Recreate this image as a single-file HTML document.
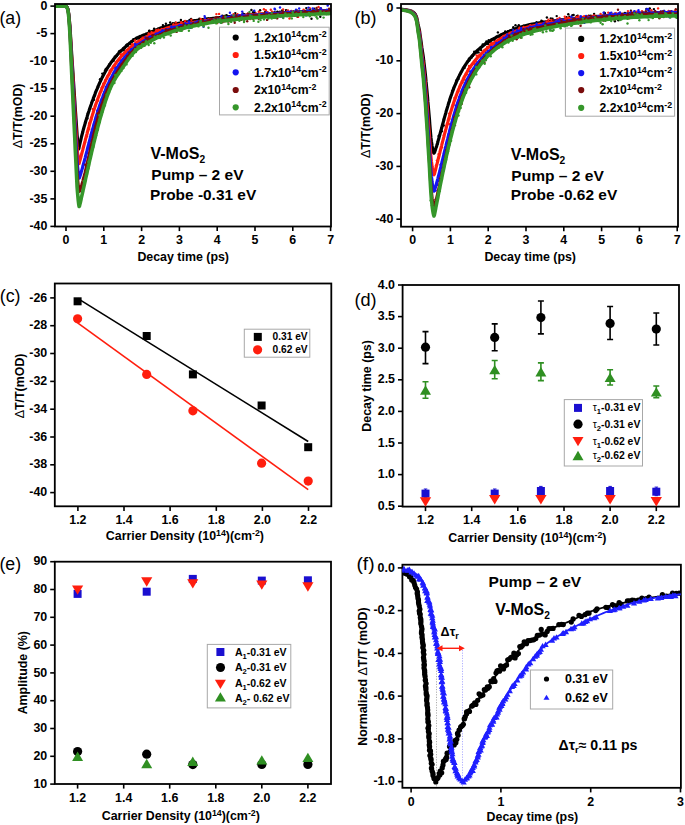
<!DOCTYPE html><html><head><meta charset="utf-8"><style>html,body{margin:0;padding:0;background:#fff;overflow:hidden}svg{display:block}.t{font-family:"Liberation Sans",sans-serif;font-weight:bold;font-size:12.4px;fill:#000}.pl{font-family:"Liberation Sans",sans-serif;font-size:18.3px;fill:#000}.lg{font-family:"Liberation Sans",sans-serif;font-weight:bold;fill:#000}.an{font-family:"Liberation Sans",sans-serif;font-weight:bold;fill:#000}</style></head><body>
<svg width="685" height="825" viewBox="0 0 685 825">
<rect width="685" height="825" fill="#fff"/>
<defs><clipPath id="ca"><rect x="55" y="4" width="276" height="222.5"/></clipPath><clipPath id="cb"><rect x="401" y="4" width="277" height="222.7"/></clipPath><clipPath id="cf"><rect x="402.4" y="564.7" width="278.4" height="223.1"/></clipPath></defs>
<g clip-path="url(#ca)">
<circle cx="84.9" cy="125.1" r="1.2" fill="#000000"/>
<circle cx="87.4" cy="118.4" r="1.2" fill="#000000"/>
<circle cx="87.8" cy="113.4" r="1.2" fill="#000000"/>
<circle cx="90.1" cy="108.9" r="1.2" fill="#000000"/>
<circle cx="91.8" cy="102.8" r="1.2" fill="#000000"/>
<circle cx="94.0" cy="99.8" r="1.2" fill="#000000"/>
<circle cx="94.9" cy="95.5" r="1.2" fill="#000000"/>
<circle cx="95.6" cy="92.0" r="1.2" fill="#000000"/>
<circle cx="98.1" cy="87.6" r="1.2" fill="#000000"/>
<circle cx="99.0" cy="84.8" r="1.2" fill="#000000"/>
<circle cx="100.0" cy="79.3" r="1.2" fill="#000000"/>
<circle cx="102.5" cy="76.8" r="1.2" fill="#000000"/>
<circle cx="102.3" cy="73.6" r="1.2" fill="#000000"/>
<circle cx="105.0" cy="70.4" r="1.2" fill="#000000"/>
<circle cx="105.8" cy="68.9" r="1.2" fill="#000000"/>
<circle cx="109.2" cy="66.1" r="1.2" fill="#000000"/>
<circle cx="109.5" cy="64.3" r="1.2" fill="#000000"/>
<circle cx="112.2" cy="61.4" r="1.2" fill="#000000"/>
<circle cx="113.7" cy="60.8" r="1.2" fill="#000000"/>
<circle cx="114.7" cy="56.8" r="1.2" fill="#000000"/>
<circle cx="116.7" cy="56.1" r="1.2" fill="#000000"/>
<circle cx="118.8" cy="52.7" r="1.2" fill="#000000"/>
<circle cx="119.0" cy="51.5" r="1.2" fill="#000000"/>
<circle cx="119.8" cy="51.0" r="1.2" fill="#000000"/>
<circle cx="123.1" cy="48.5" r="1.2" fill="#000000"/>
<circle cx="123.7" cy="50.3" r="1.2" fill="#000000"/>
<circle cx="124.7" cy="48.4" r="1.2" fill="#000000"/>
<circle cx="126.4" cy="45.0" r="1.2" fill="#000000"/>
<circle cx="127.7" cy="46.0" r="1.2" fill="#000000"/>
<circle cx="127.3" cy="44.4" r="1.2" fill="#000000"/>
<circle cx="130.0" cy="43.7" r="1.2" fill="#000000"/>
<circle cx="131.3" cy="41.5" r="1.2" fill="#000000"/>
<circle cx="133.4" cy="39.3" r="1.2" fill="#000000"/>
<circle cx="135.1" cy="39.3" r="1.2" fill="#000000"/>
<circle cx="136.5" cy="37.8" r="1.2" fill="#000000"/>
<circle cx="138.5" cy="38.5" r="1.2" fill="#000000"/>
<circle cx="139.0" cy="37.8" r="1.2" fill="#000000"/>
<circle cx="141.6" cy="38.8" r="1.2" fill="#000000"/>
<circle cx="141.0" cy="36.9" r="1.2" fill="#000000"/>
<circle cx="144.0" cy="34.9" r="1.2" fill="#000000"/>
<circle cx="144.4" cy="36.2" r="1.2" fill="#000000"/>
<circle cx="145.7" cy="34.7" r="1.2" fill="#000000"/>
<circle cx="149.1" cy="30.9" r="1.2" fill="#000000"/>
<circle cx="149.4" cy="30.7" r="1.2" fill="#000000"/>
<circle cx="151.3" cy="34.3" r="1.2" fill="#000000"/>
<circle cx="154.1" cy="28.7" r="1.2" fill="#000000"/>
<circle cx="153.7" cy="31.9" r="1.2" fill="#000000"/>
<circle cx="156.8" cy="30.8" r="1.2" fill="#000000"/>
<circle cx="156.5" cy="30.0" r="1.2" fill="#000000"/>
<circle cx="158.6" cy="28.6" r="1.2" fill="#000000"/>
<circle cx="159.5" cy="28.9" r="1.2" fill="#000000"/>
<circle cx="161.8" cy="27.6" r="1.2" fill="#000000"/>
<circle cx="162.9" cy="25.1" r="1.2" fill="#000000"/>
<circle cx="164.2" cy="28.7" r="1.2" fill="#000000"/>
<circle cx="165.9" cy="23.8" r="1.2" fill="#000000"/>
<circle cx="168.6" cy="26.7" r="1.2" fill="#000000"/>
<circle cx="170.7" cy="25.5" r="1.2" fill="#000000"/>
<circle cx="170.2" cy="22.5" r="1.2" fill="#000000"/>
<circle cx="173.1" cy="29.3" r="1.2" fill="#000000"/>
<circle cx="172.9" cy="23.3" r="1.2" fill="#000000"/>
<circle cx="175.5" cy="22.6" r="1.2" fill="#000000"/>
<circle cx="176.3" cy="23.2" r="1.2" fill="#000000"/>
<circle cx="178.2" cy="25.5" r="1.2" fill="#000000"/>
<circle cx="179.6" cy="25.0" r="1.2" fill="#000000"/>
<circle cx="180.7" cy="23.6" r="1.2" fill="#000000"/>
<circle cx="180.9" cy="20.0" r="1.2" fill="#000000"/>
<circle cx="184.6" cy="21.4" r="1.2" fill="#000000"/>
<circle cx="186.0" cy="23.3" r="1.2" fill="#000000"/>
<circle cx="188.0" cy="23.6" r="1.2" fill="#000000"/>
<circle cx="189.3" cy="21.5" r="1.2" fill="#000000"/>
<circle cx="189.5" cy="20.0" r="1.2" fill="#000000"/>
<circle cx="191.1" cy="19.0" r="1.2" fill="#000000"/>
<circle cx="192.6" cy="20.8" r="1.2" fill="#000000"/>
<circle cx="194.7" cy="20.1" r="1.2" fill="#000000"/>
<circle cx="194.5" cy="20.4" r="1.2" fill="#000000"/>
<circle cx="197.7" cy="22.6" r="1.2" fill="#000000"/>
<circle cx="199.4" cy="18.8" r="1.2" fill="#000000"/>
<circle cx="199.9" cy="24.1" r="1.2" fill="#000000"/>
<circle cx="202.5" cy="23.5" r="1.2" fill="#000000"/>
<circle cx="205.1" cy="17.8" r="1.2" fill="#000000"/>
<circle cx="205.3" cy="20.3" r="1.2" fill="#000000"/>
<circle cx="206.9" cy="20.3" r="1.2" fill="#000000"/>
<circle cx="208.1" cy="19.3" r="1.2" fill="#000000"/>
<circle cx="208.3" cy="18.4" r="1.2" fill="#000000"/>
<circle cx="210.4" cy="18.9" r="1.2" fill="#000000"/>
<circle cx="212.1" cy="19.7" r="1.2" fill="#000000"/>
<circle cx="214.6" cy="18.9" r="1.2" fill="#000000"/>
<circle cx="215.7" cy="18.3" r="1.2" fill="#000000"/>
<circle cx="216.6" cy="17.6" r="1.2" fill="#000000"/>
<circle cx="218.0" cy="18.6" r="1.2" fill="#000000"/>
<circle cx="219.9" cy="18.8" r="1.2" fill="#000000"/>
<circle cx="220.4" cy="19.3" r="1.2" fill="#000000"/>
<circle cx="222.3" cy="15.8" r="1.2" fill="#000000"/>
<circle cx="224.3" cy="16.0" r="1.2" fill="#000000"/>
<circle cx="226.1" cy="15.8" r="1.2" fill="#000000"/>
<circle cx="226.6" cy="15.1" r="1.2" fill="#000000"/>
<circle cx="229.9" cy="16.8" r="1.2" fill="#000000"/>
<circle cx="229.5" cy="16.6" r="1.2" fill="#000000"/>
<circle cx="230.7" cy="20.1" r="1.2" fill="#000000"/>
<circle cx="232.2" cy="17.3" r="1.2" fill="#000000"/>
<circle cx="235.3" cy="13.1" r="1.2" fill="#000000"/>
<circle cx="236.6" cy="18.1" r="1.2" fill="#000000"/>
<circle cx="238.2" cy="16.4" r="1.2" fill="#000000"/>
<circle cx="240.1" cy="16.1" r="1.2" fill="#000000"/>
<circle cx="241.1" cy="15.4" r="1.2" fill="#000000"/>
<circle cx="242.8" cy="13.5" r="1.2" fill="#000000"/>
<circle cx="244.4" cy="14.3" r="1.2" fill="#000000"/>
<circle cx="244.5" cy="16.0" r="1.2" fill="#000000"/>
<circle cx="248.1" cy="17.1" r="1.2" fill="#000000"/>
<circle cx="247.9" cy="16.5" r="1.2" fill="#000000"/>
<circle cx="249.5" cy="14.6" r="1.2" fill="#000000"/>
<circle cx="251.4" cy="10.0" r="1.2" fill="#000000"/>
<circle cx="253.0" cy="12.5" r="1.2" fill="#000000"/>
<circle cx="253.8" cy="11.5" r="1.2" fill="#000000"/>
<circle cx="254.7" cy="12.5" r="1.2" fill="#000000"/>
<circle cx="257.9" cy="17.8" r="1.2" fill="#000000"/>
<circle cx="258.8" cy="16.5" r="1.2" fill="#000000"/>
<circle cx="260.1" cy="10.2" r="1.2" fill="#000000"/>
<circle cx="261.9" cy="14.9" r="1.2" fill="#000000"/>
<circle cx="263.0" cy="14.5" r="1.2" fill="#000000"/>
<circle cx="265.2" cy="12.0" r="1.2" fill="#000000"/>
<circle cx="265.2" cy="13.3" r="1.2" fill="#000000"/>
<circle cx="267.6" cy="12.9" r="1.2" fill="#000000"/>
<circle cx="270.0" cy="17.1" r="1.2" fill="#000000"/>
<circle cx="270.5" cy="14.9" r="1.2" fill="#000000"/>
<circle cx="273.0" cy="14.8" r="1.2" fill="#000000"/>
<circle cx="274.6" cy="12.4" r="1.2" fill="#000000"/>
<circle cx="275.8" cy="17.3" r="1.2" fill="#000000"/>
<circle cx="277.4" cy="11.8" r="1.2" fill="#000000"/>
<circle cx="278.7" cy="15.6" r="1.2" fill="#000000"/>
<circle cx="280.0" cy="11.7" r="1.2" fill="#000000"/>
<circle cx="282.4" cy="10.2" r="1.2" fill="#000000"/>
<circle cx="283.1" cy="12.7" r="1.2" fill="#000000"/>
<circle cx="283.3" cy="15.1" r="1.2" fill="#000000"/>
<circle cx="286.0" cy="10.1" r="1.2" fill="#000000"/>
<circle cx="287.7" cy="11.5" r="1.2" fill="#000000"/>
<circle cx="287.3" cy="10.9" r="1.2" fill="#000000"/>
<circle cx="290.4" cy="13.6" r="1.2" fill="#000000"/>
<circle cx="291.8" cy="12.3" r="1.2" fill="#000000"/>
<circle cx="293.6" cy="11.7" r="1.2" fill="#000000"/>
<circle cx="295.6" cy="12.3" r="1.2" fill="#000000"/>
<circle cx="296.4" cy="13.1" r="1.2" fill="#000000"/>
<circle cx="296.9" cy="10.4" r="1.2" fill="#000000"/>
<circle cx="300.3" cy="12.5" r="1.2" fill="#000000"/>
<circle cx="300.5" cy="12.4" r="1.2" fill="#000000"/>
<circle cx="301.8" cy="12.2" r="1.2" fill="#000000"/>
<circle cx="303.2" cy="12.1" r="1.2" fill="#000000"/>
<circle cx="304.0" cy="14.2" r="1.2" fill="#000000"/>
<circle cx="306.3" cy="8.1" r="1.2" fill="#000000"/>
<circle cx="308.0" cy="10.6" r="1.2" fill="#000000"/>
<circle cx="309.8" cy="8.9" r="1.2" fill="#000000"/>
<circle cx="311.5" cy="18.7" r="1.2" fill="#000000"/>
<circle cx="311.7" cy="11.8" r="1.2" fill="#000000"/>
<circle cx="313.9" cy="11.4" r="1.2" fill="#000000"/>
<circle cx="314.3" cy="8.6" r="1.2" fill="#000000"/>
<circle cx="317.5" cy="10.8" r="1.2" fill="#000000"/>
<circle cx="319.9" cy="9.4" r="1.2" fill="#000000"/>
<circle cx="320.3" cy="16.8" r="1.2" fill="#000000"/>
<circle cx="321.0" cy="8.8" r="1.2" fill="#000000"/>
<circle cx="323.1" cy="10.5" r="1.2" fill="#000000"/>
<circle cx="325.3" cy="10.8" r="1.2" fill="#000000"/>
<circle cx="325.5" cy="10.9" r="1.2" fill="#000000"/>
<circle cx="329.6" cy="13.1" r="1.2" fill="#000000"/>
<circle cx="327.0" cy="10.1" r="1.2" fill="#000000"/>
<circle cx="329.9" cy="11.6" r="1.2" fill="#000000"/>
<polyline points="54.7,6.1 55.0,6.1 55.4,6.1 55.8,6.1 56.2,6.1 56.6,6.1 56.9,6.1 57.3,6.1 57.7,6.1 58.1,6.1 58.5,6.1 58.9,6.1 59.2,6.1 59.6,6.1 60.0,6.1 60.4,6.1 60.8,6.1 61.1,6.1 61.5,6.1 61.9,6.1 62.3,6.1 62.7,6.1 63.0,6.1 63.4,6.1 63.8,6.1 64.2,6.1 64.6,6.1 65.0,6.1 65.3,6.1 65.7,6.1 66.1,6.2 66.5,6.5 66.9,6.9 67.2,7.5 67.6,8.2 68.0,9.4 68.4,11.5 68.8,14.3 69.1,17.3 69.5,21.1 69.9,25.6 70.3,31.5 70.7,38.0 71.1,43.9 71.4,49.7 71.8,55.6 72.2,61.7 72.6,67.6 73.0,73.1 73.3,78.5 73.7,84.3 74.1,90.4 74.5,96.4 74.9,102.1 75.2,107.7 75.6,113.2 76.0,118.9 76.4,124.7 76.8,130.3 77.1,135.1 77.5,139.2 77.9,143.0 78.3,146.3 78.7,149.1 79.1,147.6 79.4,145.8 79.8,144.1 80.2,142.4 80.6,140.8 81.0,139.2 81.3,137.6 81.7,136.0 82.1,134.5 82.5,133.0 82.9,131.5 83.2,130.1 83.6,128.7 84.0,127.3 84.4,125.9 84.8,124.6 85.2,123.3 85.5,122.0 85.9,120.7 86.3,119.4 86.7,118.1 87.1,116.9 87.4,115.7 87.8,114.5 88.2,113.3 88.6,112.1 89.0,110.9 89.3,109.8 89.7,108.6 90.1,107.5 90.5,106.4 90.9,105.3 91.3,104.2 91.6,103.1 92.0,102.0 92.4,100.9 92.8,99.9 93.2,98.8 93.5,97.8 93.9,96.8 94.3,95.8 94.7,94.8 95.1,93.8 95.4,92.8 95.8,91.9 96.2,90.9 96.6,90.0 97.0,89.1 97.4,88.1 97.7,87.2 98.1,86.3 98.5,85.5 98.9,84.6 99.3,83.7 99.6,82.9 100.0,82.1 100.4,81.3 101.2,79.6 101.9,78.1 102.7,76.6 103.4,75.1 104.2,73.7 105.0,72.3 105.7,70.9 106.5,69.6 107.2,68.3 108.0,67.1 108.8,65.9 109.5,64.8 110.3,63.7 111.0,62.6 111.8,61.6 112.6,60.5 113.3,59.6 114.1,58.6 114.9,57.7 115.6,56.8 116.4,55.9 117.1,55.0 117.9,54.2 118.7,53.4 119.4,52.6 120.2,51.8 120.9,51.0 121.7,50.3 122.5,49.6 123.2,48.8 124.0,48.1 124.7,47.4 125.5,46.7 126.3,46.1 127.0,45.4 127.8,44.7 128.5,44.1 129.3,43.4 130.1,42.8 130.8,42.2 131.6,41.6 132.4,41.0 133.1,40.5 133.9,39.9 134.6,39.4 135.4,39.0 136.2,38.5 136.9,38.1 137.7,37.7 138.4,37.3 139.2,36.9 140.0,36.6 140.7,36.2 141.5,35.9 142.2,35.6 143.0,35.3 143.8,35.0 144.5,34.7 145.3,34.4 146.0,34.1 146.8,33.8 147.6,33.5 148.3,33.2 149.1,32.9 149.8,32.6 150.6,32.3 151.4,32.0 152.1,31.6 152.9,31.3 153.7,31.0 154.4,30.7 155.2,30.3 155.9,30.0 156.7,29.7 157.5,29.4 158.2,29.0 159.0,28.7 159.7,28.4 160.5,28.1 161.3,27.9 164.7,26.7 168.2,25.7 171.6,24.8 175.1,24.1 178.5,23.4 182.0,22.8 185.4,22.2 188.9,21.7 192.4,21.1 195.8,20.6 199.3,20.1 202.7,19.6 206.2,19.2 209.6,18.8 213.1,18.4 216.6,18.0 220.0,17.6 223.5,17.2 226.9,16.9 230.4,16.5 233.8,16.2 237.3,15.9 240.7,15.6 244.2,15.3 247.7,15.1 251.1,14.8 254.6,14.5 258.0,14.3 261.5,14.0 264.9,13.8 268.4,13.6 271.8,13.4 275.3,13.1 278.8,12.9 282.2,12.7 285.7,12.5 289.1,12.3 292.6,12.1 296.0,12.0 299.5,11.8 303.0,11.6 306.4,11.4 309.9,11.3 313.3,11.1 316.8,10.9 320.2,10.8 323.7,10.6 327.1,10.5 330.6,10.3" fill="none" stroke="#000000" stroke-width="3.2" stroke-linejoin="round" stroke-linecap="round"/>
<circle cx="84.9" cy="142.5" r="1.2" fill="#ff1e0e"/>
<circle cx="87.0" cy="136.3" r="1.2" fill="#ff1e0e"/>
<circle cx="89.3" cy="129.1" r="1.2" fill="#ff1e0e"/>
<circle cx="89.2" cy="123.3" r="1.2" fill="#ff1e0e"/>
<circle cx="91.1" cy="119.7" r="1.2" fill="#ff1e0e"/>
<circle cx="92.8" cy="114.1" r="1.2" fill="#ff1e0e"/>
<circle cx="92.9" cy="108.9" r="1.2" fill="#ff1e0e"/>
<circle cx="95.2" cy="105.6" r="1.2" fill="#ff1e0e"/>
<circle cx="98.2" cy="100.5" r="1.2" fill="#ff1e0e"/>
<circle cx="99.0" cy="96.0" r="1.2" fill="#ff1e0e"/>
<circle cx="101.1" cy="91.2" r="1.2" fill="#ff1e0e"/>
<circle cx="101.8" cy="87.7" r="1.2" fill="#ff1e0e"/>
<circle cx="103.3" cy="83.8" r="1.2" fill="#ff1e0e"/>
<circle cx="105.2" cy="80.3" r="1.2" fill="#ff1e0e"/>
<circle cx="107.5" cy="76.3" r="1.2" fill="#ff1e0e"/>
<circle cx="109.1" cy="74.3" r="1.2" fill="#ff1e0e"/>
<circle cx="109.7" cy="70.7" r="1.2" fill="#ff1e0e"/>
<circle cx="111.6" cy="69.2" r="1.2" fill="#ff1e0e"/>
<circle cx="113.4" cy="66.4" r="1.2" fill="#ff1e0e"/>
<circle cx="114.9" cy="66.6" r="1.2" fill="#ff1e0e"/>
<circle cx="116.7" cy="61.8" r="1.2" fill="#ff1e0e"/>
<circle cx="118.7" cy="60.2" r="1.2" fill="#ff1e0e"/>
<circle cx="120.0" cy="59.1" r="1.2" fill="#ff1e0e"/>
<circle cx="120.8" cy="54.3" r="1.2" fill="#ff1e0e"/>
<circle cx="122.4" cy="55.5" r="1.2" fill="#ff1e0e"/>
<circle cx="122.4" cy="55.3" r="1.2" fill="#ff1e0e"/>
<circle cx="124.9" cy="52.6" r="1.2" fill="#ff1e0e"/>
<circle cx="126.6" cy="53.7" r="1.2" fill="#ff1e0e"/>
<circle cx="128.0" cy="51.7" r="1.2" fill="#ff1e0e"/>
<circle cx="129.5" cy="51.8" r="1.2" fill="#ff1e0e"/>
<circle cx="130.3" cy="47.7" r="1.2" fill="#ff1e0e"/>
<circle cx="132.1" cy="45.3" r="1.2" fill="#ff1e0e"/>
<circle cx="132.0" cy="44.1" r="1.2" fill="#ff1e0e"/>
<circle cx="134.9" cy="44.8" r="1.2" fill="#ff1e0e"/>
<circle cx="135.0" cy="40.5" r="1.2" fill="#ff1e0e"/>
<circle cx="137.4" cy="41.8" r="1.2" fill="#ff1e0e"/>
<circle cx="139.1" cy="42.0" r="1.2" fill="#ff1e0e"/>
<circle cx="141.6" cy="40.4" r="1.2" fill="#ff1e0e"/>
<circle cx="142.6" cy="37.7" r="1.2" fill="#ff1e0e"/>
<circle cx="142.8" cy="38.7" r="1.2" fill="#ff1e0e"/>
<circle cx="145.6" cy="38.6" r="1.2" fill="#ff1e0e"/>
<circle cx="147.1" cy="37.9" r="1.2" fill="#ff1e0e"/>
<circle cx="148.7" cy="33.4" r="1.2" fill="#ff1e0e"/>
<circle cx="149.1" cy="35.9" r="1.2" fill="#ff1e0e"/>
<circle cx="151.6" cy="32.2" r="1.2" fill="#ff1e0e"/>
<circle cx="153.5" cy="33.1" r="1.2" fill="#ff1e0e"/>
<circle cx="153.9" cy="33.6" r="1.2" fill="#ff1e0e"/>
<circle cx="156.2" cy="30.2" r="1.2" fill="#ff1e0e"/>
<circle cx="157.8" cy="32.0" r="1.2" fill="#ff1e0e"/>
<circle cx="158.0" cy="30.8" r="1.2" fill="#ff1e0e"/>
<circle cx="158.4" cy="29.6" r="1.2" fill="#ff1e0e"/>
<circle cx="161.7" cy="28.9" r="1.2" fill="#ff1e0e"/>
<circle cx="162.8" cy="29.3" r="1.2" fill="#ff1e0e"/>
<circle cx="164.6" cy="30.7" r="1.2" fill="#ff1e0e"/>
<circle cx="166.1" cy="28.0" r="1.2" fill="#ff1e0e"/>
<circle cx="168.0" cy="31.5" r="1.2" fill="#ff1e0e"/>
<circle cx="168.8" cy="28.3" r="1.2" fill="#ff1e0e"/>
<circle cx="169.4" cy="29.3" r="1.2" fill="#ff1e0e"/>
<circle cx="172.6" cy="28.9" r="1.2" fill="#ff1e0e"/>
<circle cx="173.5" cy="24.2" r="1.2" fill="#ff1e0e"/>
<circle cx="175.7" cy="27.0" r="1.2" fill="#ff1e0e"/>
<circle cx="175.9" cy="22.6" r="1.2" fill="#ff1e0e"/>
<circle cx="178.4" cy="24.6" r="1.2" fill="#ff1e0e"/>
<circle cx="181.5" cy="23.4" r="1.2" fill="#ff1e0e"/>
<circle cx="180.6" cy="24.1" r="1.2" fill="#ff1e0e"/>
<circle cx="181.3" cy="22.3" r="1.2" fill="#ff1e0e"/>
<circle cx="185.3" cy="23.5" r="1.2" fill="#ff1e0e"/>
<circle cx="185.1" cy="21.0" r="1.2" fill="#ff1e0e"/>
<circle cx="187.5" cy="24.5" r="1.2" fill="#ff1e0e"/>
<circle cx="188.7" cy="22.2" r="1.2" fill="#ff1e0e"/>
<circle cx="190.2" cy="23.5" r="1.2" fill="#ff1e0e"/>
<circle cx="191.0" cy="23.8" r="1.2" fill="#ff1e0e"/>
<circle cx="191.4" cy="19.8" r="1.2" fill="#ff1e0e"/>
<circle cx="194.3" cy="21.9" r="1.2" fill="#ff1e0e"/>
<circle cx="195.1" cy="22.6" r="1.2" fill="#ff1e0e"/>
<circle cx="198.3" cy="22.7" r="1.2" fill="#ff1e0e"/>
<circle cx="199.1" cy="23.3" r="1.2" fill="#ff1e0e"/>
<circle cx="200.8" cy="19.0" r="1.2" fill="#ff1e0e"/>
<circle cx="201.8" cy="23.8" r="1.2" fill="#ff1e0e"/>
<circle cx="202.6" cy="21.0" r="1.2" fill="#ff1e0e"/>
<circle cx="204.7" cy="18.8" r="1.2" fill="#ff1e0e"/>
<circle cx="205.7" cy="20.7" r="1.2" fill="#ff1e0e"/>
<circle cx="208.2" cy="20.9" r="1.2" fill="#ff1e0e"/>
<circle cx="208.4" cy="19.4" r="1.2" fill="#ff1e0e"/>
<circle cx="211.2" cy="21.8" r="1.2" fill="#ff1e0e"/>
<circle cx="212.9" cy="21.3" r="1.2" fill="#ff1e0e"/>
<circle cx="214.8" cy="21.1" r="1.2" fill="#ff1e0e"/>
<circle cx="214.8" cy="19.3" r="1.2" fill="#ff1e0e"/>
<circle cx="216.4" cy="14.1" r="1.2" fill="#ff1e0e"/>
<circle cx="217.2" cy="23.1" r="1.2" fill="#ff1e0e"/>
<circle cx="219.1" cy="13.9" r="1.2" fill="#ff1e0e"/>
<circle cx="221.0" cy="21.5" r="1.2" fill="#ff1e0e"/>
<circle cx="222.9" cy="19.0" r="1.2" fill="#ff1e0e"/>
<circle cx="224.2" cy="17.8" r="1.2" fill="#ff1e0e"/>
<circle cx="226.9" cy="19.5" r="1.2" fill="#ff1e0e"/>
<circle cx="227.3" cy="19.5" r="1.2" fill="#ff1e0e"/>
<circle cx="229.7" cy="17.0" r="1.2" fill="#ff1e0e"/>
<circle cx="230.6" cy="17.8" r="1.2" fill="#ff1e0e"/>
<circle cx="231.4" cy="19.5" r="1.2" fill="#ff1e0e"/>
<circle cx="233.3" cy="15.6" r="1.2" fill="#ff1e0e"/>
<circle cx="233.6" cy="14.1" r="1.2" fill="#ff1e0e"/>
<circle cx="237.5" cy="14.2" r="1.2" fill="#ff1e0e"/>
<circle cx="238.2" cy="15.6" r="1.2" fill="#ff1e0e"/>
<circle cx="239.7" cy="17.5" r="1.2" fill="#ff1e0e"/>
<circle cx="240.3" cy="15.5" r="1.2" fill="#ff1e0e"/>
<circle cx="242.4" cy="16.2" r="1.2" fill="#ff1e0e"/>
<circle cx="243.8" cy="15.1" r="1.2" fill="#ff1e0e"/>
<circle cx="245.8" cy="18.4" r="1.2" fill="#ff1e0e"/>
<circle cx="247.3" cy="13.9" r="1.2" fill="#ff1e0e"/>
<circle cx="248.6" cy="15.5" r="1.2" fill="#ff1e0e"/>
<circle cx="250.2" cy="19.0" r="1.2" fill="#ff1e0e"/>
<circle cx="251.2" cy="15.1" r="1.2" fill="#ff1e0e"/>
<circle cx="252.2" cy="14.4" r="1.2" fill="#ff1e0e"/>
<circle cx="253.9" cy="18.2" r="1.2" fill="#ff1e0e"/>
<circle cx="256.0" cy="13.5" r="1.2" fill="#ff1e0e"/>
<circle cx="258.8" cy="11.8" r="1.2" fill="#ff1e0e"/>
<circle cx="259.5" cy="16.6" r="1.2" fill="#ff1e0e"/>
<circle cx="260.7" cy="13.8" r="1.2" fill="#ff1e0e"/>
<circle cx="261.7" cy="13.6" r="1.2" fill="#ff1e0e"/>
<circle cx="263.9" cy="9.3" r="1.2" fill="#ff1e0e"/>
<circle cx="264.4" cy="14.4" r="1.2" fill="#ff1e0e"/>
<circle cx="265.8" cy="10.2" r="1.2" fill="#ff1e0e"/>
<circle cx="267.6" cy="12.3" r="1.2" fill="#ff1e0e"/>
<circle cx="269.9" cy="16.7" r="1.2" fill="#ff1e0e"/>
<circle cx="270.8" cy="9.7" r="1.2" fill="#ff1e0e"/>
<circle cx="272.1" cy="11.8" r="1.2" fill="#ff1e0e"/>
<circle cx="274.3" cy="17.1" r="1.2" fill="#ff1e0e"/>
<circle cx="275.5" cy="17.7" r="1.2" fill="#ff1e0e"/>
<circle cx="277.9" cy="14.9" r="1.2" fill="#ff1e0e"/>
<circle cx="277.6" cy="13.8" r="1.2" fill="#ff1e0e"/>
<circle cx="278.7" cy="15.7" r="1.2" fill="#ff1e0e"/>
<circle cx="281.4" cy="16.4" r="1.2" fill="#ff1e0e"/>
<circle cx="283.1" cy="9.4" r="1.2" fill="#ff1e0e"/>
<circle cx="284.8" cy="15.3" r="1.2" fill="#ff1e0e"/>
<circle cx="287.1" cy="11.3" r="1.2" fill="#ff1e0e"/>
<circle cx="286.6" cy="13.4" r="1.2" fill="#ff1e0e"/>
<circle cx="288.0" cy="10.4" r="1.2" fill="#ff1e0e"/>
<circle cx="289.5" cy="18.5" r="1.2" fill="#ff1e0e"/>
<circle cx="291.3" cy="10.9" r="1.2" fill="#ff1e0e"/>
<circle cx="293.0" cy="13.0" r="1.2" fill="#ff1e0e"/>
<circle cx="295.8" cy="14.8" r="1.2" fill="#ff1e0e"/>
<circle cx="296.9" cy="12.9" r="1.2" fill="#ff1e0e"/>
<circle cx="297.9" cy="11.4" r="1.2" fill="#ff1e0e"/>
<circle cx="298.1" cy="16.9" r="1.2" fill="#ff1e0e"/>
<circle cx="300.4" cy="14.7" r="1.2" fill="#ff1e0e"/>
<circle cx="302.0" cy="12.3" r="1.2" fill="#ff1e0e"/>
<circle cx="303.6" cy="9.6" r="1.2" fill="#ff1e0e"/>
<circle cx="305.2" cy="13.2" r="1.2" fill="#ff1e0e"/>
<circle cx="307.4" cy="13.3" r="1.2" fill="#ff1e0e"/>
<circle cx="309.0" cy="12.8" r="1.2" fill="#ff1e0e"/>
<circle cx="309.7" cy="8.1" r="1.2" fill="#ff1e0e"/>
<circle cx="310.8" cy="15.3" r="1.2" fill="#ff1e0e"/>
<circle cx="312.8" cy="13.6" r="1.2" fill="#ff1e0e"/>
<circle cx="314.1" cy="10.5" r="1.2" fill="#ff1e0e"/>
<circle cx="317.3" cy="12.5" r="1.2" fill="#ff1e0e"/>
<circle cx="318.3" cy="12.8" r="1.2" fill="#ff1e0e"/>
<circle cx="318.5" cy="7.0" r="1.2" fill="#ff1e0e"/>
<circle cx="320.3" cy="8.3" r="1.2" fill="#ff1e0e"/>
<circle cx="320.0" cy="14.0" r="1.2" fill="#ff1e0e"/>
<circle cx="323.7" cy="12.7" r="1.2" fill="#ff1e0e"/>
<circle cx="324.7" cy="11.1" r="1.2" fill="#ff1e0e"/>
<circle cx="326.5" cy="11.4" r="1.2" fill="#ff1e0e"/>
<circle cx="327.7" cy="12.6" r="1.2" fill="#ff1e0e"/>
<circle cx="327.3" cy="12.8" r="1.2" fill="#ff1e0e"/>
<circle cx="330.2" cy="12.6" r="1.2" fill="#ff1e0e"/>
<polyline points="54.7,6.1 55.0,6.1 55.4,6.1 55.8,6.1 56.2,6.1 56.6,6.1 56.9,6.1 57.3,6.1 57.7,6.1 58.1,6.1 58.5,6.1 58.9,6.1 59.2,6.1 59.6,6.1 60.0,6.1 60.4,6.1 60.8,6.1 61.1,6.1 61.5,6.1 61.9,6.1 62.3,6.1 62.7,6.1 63.0,6.1 63.4,6.1 63.8,6.1 64.2,6.1 64.6,6.1 65.0,6.1 65.3,6.1 65.7,6.1 66.1,6.2 66.5,6.5 66.9,7.0 67.2,7.7 67.6,8.4 68.0,9.7 68.4,12.1 68.8,15.1 69.1,18.4 69.5,22.6 69.9,27.6 70.3,34.1 70.7,41.2 71.1,47.7 71.4,54.1 71.8,60.5 72.2,67.2 72.6,73.8 73.0,79.8 73.3,85.8 73.7,92.1 74.1,98.8 74.5,105.4 74.9,111.7 75.2,117.9 75.6,124.0 76.0,130.2 76.4,136.8 76.8,143.0 77.1,148.0 77.5,152.1 77.9,155.8 78.3,159.1 78.7,161.8 79.1,163.7 79.4,162.3 79.8,160.9 80.2,159.5 80.6,158.1 81.0,156.6 81.3,155.2 81.7,153.8 82.1,152.3 82.5,150.9 82.9,149.4 83.2,148.0 83.6,146.5 84.0,145.1 84.4,143.6 84.8,142.2 85.2,140.7 85.5,139.3 85.9,137.9 86.3,136.4 86.7,135.0 87.1,133.6 87.4,132.2 87.8,130.8 88.2,129.4 88.6,128.0 89.0,126.7 89.3,125.3 89.7,124.0 90.1,122.6 90.5,121.3 90.9,120.0 91.3,118.7 91.6,117.4 92.0,116.2 92.4,114.9 92.8,113.7 93.2,112.5 93.5,111.3 93.9,110.1 94.3,108.9 94.7,107.8 95.1,106.6 95.4,105.5 95.8,104.4 96.2,103.3 96.6,102.2 97.0,101.1 97.4,100.1 97.7,99.0 98.1,98.0 98.5,97.0 98.9,96.0 99.3,95.0 99.6,94.1 100.0,93.1 100.4,92.2 101.2,90.3 101.9,88.5 102.7,86.8 103.4,85.1 104.2,83.5 105.0,81.9 105.7,80.3 106.5,78.8 107.2,77.3 108.0,75.9 108.8,74.5 109.5,73.1 110.3,71.8 111.0,70.5 111.8,69.3 112.6,68.1 113.3,66.9 114.1,65.7 114.9,64.6 115.6,63.6 116.4,62.5 117.1,61.5 117.9,60.5 118.7,59.5 119.4,58.6 120.2,57.7 120.9,56.8 121.7,55.9 122.5,55.1 123.2,54.3 124.0,53.5 124.7,52.7 125.5,51.9 126.3,51.2 127.0,50.5 127.8,49.8 128.5,49.1 129.3,48.4 130.1,47.8 130.8,47.1 131.6,46.5 132.4,45.9 133.1,45.3 133.9,44.7 134.6,44.2 135.4,43.6 136.2,43.1 136.9,42.5 137.7,42.0 138.4,41.5 139.2,41.0 140.0,40.5 140.7,40.1 141.5,39.6 142.2,39.2 143.0,38.7 143.8,38.3 144.5,37.8 145.3,37.4 146.0,37.0 146.8,36.6 147.6,36.2 148.3,35.8 149.1,35.5 149.8,35.1 150.6,34.7 151.4,34.4 152.1,34.0 152.9,33.7 153.7,33.3 154.4,33.0 155.2,32.7 155.9,32.3 156.7,32.0 157.5,31.7 158.2,31.4 159.0,31.1 159.7,30.8 160.5,30.5 161.3,30.2 164.7,29.0 168.2,27.8 171.6,26.7 175.1,25.7 178.5,24.8 182.0,24.1 185.4,23.5 188.9,22.9 192.4,22.5 195.8,22.0 199.3,21.5 202.7,21.0 206.2,20.5 209.6,20.0 213.1,19.5 216.6,19.0 220.0,18.6 223.5,18.1 226.9,17.7 230.4,17.3 233.8,16.8 237.3,16.5 240.7,16.1 244.2,15.7 247.7,15.4 251.1,15.1 254.6,14.8 258.0,14.5 261.5,14.3 264.9,14.1 268.4,13.9 271.8,13.7 275.3,13.5 278.8,13.4 282.2,13.2 285.7,13.1 289.1,12.9 292.6,12.8 296.0,12.6 299.5,12.5 303.0,12.3 306.4,12.1 309.9,11.9 313.3,11.8 316.8,11.6 320.2,11.3 323.7,11.1 327.1,10.9 330.6,10.6" fill="none" stroke="#ff1e0e" stroke-width="3.2" stroke-linejoin="round" stroke-linecap="round"/>
<circle cx="86.3" cy="156.5" r="1.2" fill="#1414f0"/>
<circle cx="87.2" cy="152.8" r="1.2" fill="#1414f0"/>
<circle cx="89.0" cy="146.9" r="1.2" fill="#1414f0"/>
<circle cx="91.0" cy="140.5" r="1.2" fill="#1414f0"/>
<circle cx="90.8" cy="134.9" r="1.2" fill="#1414f0"/>
<circle cx="93.1" cy="128.3" r="1.2" fill="#1414f0"/>
<circle cx="94.2" cy="123.5" r="1.2" fill="#1414f0"/>
<circle cx="96.5" cy="117.0" r="1.2" fill="#1414f0"/>
<circle cx="97.2" cy="110.7" r="1.2" fill="#1414f0"/>
<circle cx="100.3" cy="107.1" r="1.2" fill="#1414f0"/>
<circle cx="101.7" cy="103.1" r="1.2" fill="#1414f0"/>
<circle cx="103.7" cy="99.7" r="1.2" fill="#1414f0"/>
<circle cx="104.0" cy="95.6" r="1.2" fill="#1414f0"/>
<circle cx="104.7" cy="91.5" r="1.2" fill="#1414f0"/>
<circle cx="105.8" cy="87.0" r="1.2" fill="#1414f0"/>
<circle cx="109.3" cy="83.4" r="1.2" fill="#1414f0"/>
<circle cx="109.8" cy="79.1" r="1.2" fill="#1414f0"/>
<circle cx="111.4" cy="78.0" r="1.2" fill="#1414f0"/>
<circle cx="113.9" cy="73.7" r="1.2" fill="#1414f0"/>
<circle cx="113.9" cy="72.0" r="1.2" fill="#1414f0"/>
<circle cx="115.3" cy="68.1" r="1.2" fill="#1414f0"/>
<circle cx="117.4" cy="67.1" r="1.2" fill="#1414f0"/>
<circle cx="119.7" cy="64.5" r="1.2" fill="#1414f0"/>
<circle cx="121.3" cy="61.1" r="1.2" fill="#1414f0"/>
<circle cx="123.1" cy="61.5" r="1.2" fill="#1414f0"/>
<circle cx="122.7" cy="60.6" r="1.2" fill="#1414f0"/>
<circle cx="124.1" cy="59.2" r="1.2" fill="#1414f0"/>
<circle cx="126.2" cy="57.3" r="1.2" fill="#1414f0"/>
<circle cx="127.5" cy="56.6" r="1.2" fill="#1414f0"/>
<circle cx="128.4" cy="52.6" r="1.2" fill="#1414f0"/>
<circle cx="129.7" cy="52.3" r="1.2" fill="#1414f0"/>
<circle cx="131.2" cy="49.3" r="1.2" fill="#1414f0"/>
<circle cx="133.7" cy="50.3" r="1.2" fill="#1414f0"/>
<circle cx="135.1" cy="44.0" r="1.2" fill="#1414f0"/>
<circle cx="135.4" cy="44.9" r="1.2" fill="#1414f0"/>
<circle cx="136.7" cy="44.6" r="1.2" fill="#1414f0"/>
<circle cx="140.5" cy="43.7" r="1.2" fill="#1414f0"/>
<circle cx="140.1" cy="44.0" r="1.2" fill="#1414f0"/>
<circle cx="142.2" cy="42.2" r="1.2" fill="#1414f0"/>
<circle cx="143.1" cy="41.1" r="1.2" fill="#1414f0"/>
<circle cx="145.5" cy="37.4" r="1.2" fill="#1414f0"/>
<circle cx="145.4" cy="40.9" r="1.2" fill="#1414f0"/>
<circle cx="148.8" cy="37.7" r="1.2" fill="#1414f0"/>
<circle cx="148.9" cy="37.4" r="1.2" fill="#1414f0"/>
<circle cx="150.2" cy="36.4" r="1.2" fill="#1414f0"/>
<circle cx="153.9" cy="36.4" r="1.2" fill="#1414f0"/>
<circle cx="155.0" cy="35.1" r="1.2" fill="#1414f0"/>
<circle cx="155.9" cy="37.0" r="1.2" fill="#1414f0"/>
<circle cx="156.1" cy="33.6" r="1.2" fill="#1414f0"/>
<circle cx="158.5" cy="34.0" r="1.2" fill="#1414f0"/>
<circle cx="161.3" cy="34.0" r="1.2" fill="#1414f0"/>
<circle cx="160.5" cy="31.9" r="1.2" fill="#1414f0"/>
<circle cx="162.4" cy="30.2" r="1.2" fill="#1414f0"/>
<circle cx="166.1" cy="29.4" r="1.2" fill="#1414f0"/>
<circle cx="166.3" cy="29.4" r="1.2" fill="#1414f0"/>
<circle cx="168.2" cy="30.7" r="1.2" fill="#1414f0"/>
<circle cx="169.2" cy="29.4" r="1.2" fill="#1414f0"/>
<circle cx="171.4" cy="27.4" r="1.2" fill="#1414f0"/>
<circle cx="171.5" cy="26.5" r="1.2" fill="#1414f0"/>
<circle cx="174.6" cy="27.5" r="1.2" fill="#1414f0"/>
<circle cx="174.3" cy="26.8" r="1.2" fill="#1414f0"/>
<circle cx="178.4" cy="26.9" r="1.2" fill="#1414f0"/>
<circle cx="178.7" cy="27.5" r="1.2" fill="#1414f0"/>
<circle cx="179.5" cy="25.0" r="1.2" fill="#1414f0"/>
<circle cx="180.8" cy="25.2" r="1.2" fill="#1414f0"/>
<circle cx="180.9" cy="30.4" r="1.2" fill="#1414f0"/>
<circle cx="184.7" cy="25.4" r="1.2" fill="#1414f0"/>
<circle cx="185.4" cy="23.3" r="1.2" fill="#1414f0"/>
<circle cx="187.7" cy="24.2" r="1.2" fill="#1414f0"/>
<circle cx="188.9" cy="21.5" r="1.2" fill="#1414f0"/>
<circle cx="190.3" cy="27.9" r="1.2" fill="#1414f0"/>
<circle cx="191.3" cy="25.2" r="1.2" fill="#1414f0"/>
<circle cx="193.0" cy="25.6" r="1.2" fill="#1414f0"/>
<circle cx="195.3" cy="23.2" r="1.2" fill="#1414f0"/>
<circle cx="195.6" cy="23.4" r="1.2" fill="#1414f0"/>
<circle cx="197.5" cy="21.3" r="1.2" fill="#1414f0"/>
<circle cx="199.3" cy="23.2" r="1.2" fill="#1414f0"/>
<circle cx="199.8" cy="21.8" r="1.2" fill="#1414f0"/>
<circle cx="204.2" cy="23.5" r="1.2" fill="#1414f0"/>
<circle cx="203.5" cy="26.7" r="1.2" fill="#1414f0"/>
<circle cx="204.6" cy="16.1" r="1.2" fill="#1414f0"/>
<circle cx="205.0" cy="17.9" r="1.2" fill="#1414f0"/>
<circle cx="208.2" cy="22.8" r="1.2" fill="#1414f0"/>
<circle cx="207.8" cy="22.9" r="1.2" fill="#1414f0"/>
<circle cx="210.0" cy="20.9" r="1.2" fill="#1414f0"/>
<circle cx="212.8" cy="21.0" r="1.2" fill="#1414f0"/>
<circle cx="213.9" cy="20.3" r="1.2" fill="#1414f0"/>
<circle cx="214.6" cy="20.3" r="1.2" fill="#1414f0"/>
<circle cx="217.7" cy="21.4" r="1.2" fill="#1414f0"/>
<circle cx="220.4" cy="21.5" r="1.2" fill="#1414f0"/>
<circle cx="220.5" cy="22.5" r="1.2" fill="#1414f0"/>
<circle cx="221.6" cy="16.2" r="1.2" fill="#1414f0"/>
<circle cx="221.2" cy="21.3" r="1.2" fill="#1414f0"/>
<circle cx="224.8" cy="20.2" r="1.2" fill="#1414f0"/>
<circle cx="225.7" cy="19.0" r="1.2" fill="#1414f0"/>
<circle cx="228.8" cy="18.8" r="1.2" fill="#1414f0"/>
<circle cx="228.1" cy="17.0" r="1.2" fill="#1414f0"/>
<circle cx="231.4" cy="15.5" r="1.2" fill="#1414f0"/>
<circle cx="229.9" cy="12.8" r="1.2" fill="#1414f0"/>
<circle cx="232.4" cy="19.0" r="1.2" fill="#1414f0"/>
<circle cx="234.9" cy="15.6" r="1.2" fill="#1414f0"/>
<circle cx="235.4" cy="16.8" r="1.2" fill="#1414f0"/>
<circle cx="237.7" cy="15.7" r="1.2" fill="#1414f0"/>
<circle cx="239.2" cy="15.1" r="1.2" fill="#1414f0"/>
<circle cx="242.2" cy="11.6" r="1.2" fill="#1414f0"/>
<circle cx="242.4" cy="14.3" r="1.2" fill="#1414f0"/>
<circle cx="244.4" cy="15.8" r="1.2" fill="#1414f0"/>
<circle cx="245.6" cy="17.2" r="1.2" fill="#1414f0"/>
<circle cx="247.0" cy="18.0" r="1.2" fill="#1414f0"/>
<circle cx="247.3" cy="17.8" r="1.2" fill="#1414f0"/>
<circle cx="249.7" cy="16.5" r="1.2" fill="#1414f0"/>
<circle cx="252.5" cy="17.9" r="1.2" fill="#1414f0"/>
<circle cx="254.3" cy="10.7" r="1.2" fill="#1414f0"/>
<circle cx="253.6" cy="17.3" r="1.2" fill="#1414f0"/>
<circle cx="255.0" cy="14.7" r="1.2" fill="#1414f0"/>
<circle cx="258.6" cy="16.8" r="1.2" fill="#1414f0"/>
<circle cx="258.1" cy="15.8" r="1.2" fill="#1414f0"/>
<circle cx="260.8" cy="14.9" r="1.2" fill="#1414f0"/>
<circle cx="261.7" cy="14.9" r="1.2" fill="#1414f0"/>
<circle cx="262.2" cy="14.8" r="1.2" fill="#1414f0"/>
<circle cx="264.1" cy="15.2" r="1.2" fill="#1414f0"/>
<circle cx="266.6" cy="12.4" r="1.2" fill="#1414f0"/>
<circle cx="268.2" cy="14.9" r="1.2" fill="#1414f0"/>
<circle cx="269.2" cy="15.5" r="1.2" fill="#1414f0"/>
<circle cx="270.5" cy="13.3" r="1.2" fill="#1414f0"/>
<circle cx="272.3" cy="13.7" r="1.2" fill="#1414f0"/>
<circle cx="274.6" cy="8.8" r="1.2" fill="#1414f0"/>
<circle cx="275.0" cy="9.4" r="1.2" fill="#1414f0"/>
<circle cx="276.4" cy="14.0" r="1.2" fill="#1414f0"/>
<circle cx="278.2" cy="15.4" r="1.2" fill="#1414f0"/>
<circle cx="280.0" cy="7.5" r="1.2" fill="#1414f0"/>
<circle cx="280.4" cy="16.4" r="1.2" fill="#1414f0"/>
<circle cx="283.9" cy="13.2" r="1.2" fill="#1414f0"/>
<circle cx="283.0" cy="17.4" r="1.2" fill="#1414f0"/>
<circle cx="284.1" cy="13.4" r="1.2" fill="#1414f0"/>
<circle cx="287.1" cy="13.2" r="1.2" fill="#1414f0"/>
<circle cx="287.8" cy="11.8" r="1.2" fill="#1414f0"/>
<circle cx="291.0" cy="11.5" r="1.2" fill="#1414f0"/>
<circle cx="290.6" cy="12.4" r="1.2" fill="#1414f0"/>
<circle cx="293.2" cy="12.0" r="1.2" fill="#1414f0"/>
<circle cx="294.0" cy="13.4" r="1.2" fill="#1414f0"/>
<circle cx="296.0" cy="9.7" r="1.2" fill="#1414f0"/>
<circle cx="297.8" cy="12.0" r="1.2" fill="#1414f0"/>
<circle cx="299.2" cy="8.5" r="1.2" fill="#1414f0"/>
<circle cx="300.0" cy="12.9" r="1.2" fill="#1414f0"/>
<circle cx="302.8" cy="12.6" r="1.2" fill="#1414f0"/>
<circle cx="303.7" cy="13.3" r="1.2" fill="#1414f0"/>
<circle cx="305.9" cy="15.4" r="1.2" fill="#1414f0"/>
<circle cx="307.0" cy="10.5" r="1.2" fill="#1414f0"/>
<circle cx="308.5" cy="7.6" r="1.2" fill="#1414f0"/>
<circle cx="309.7" cy="10.7" r="1.2" fill="#1414f0"/>
<circle cx="311.1" cy="12.6" r="1.2" fill="#1414f0"/>
<circle cx="312.7" cy="8.5" r="1.2" fill="#1414f0"/>
<circle cx="313.9" cy="9.8" r="1.2" fill="#1414f0"/>
<circle cx="315.6" cy="12.1" r="1.2" fill="#1414f0"/>
<circle cx="316.4" cy="12.9" r="1.2" fill="#1414f0"/>
<circle cx="319.6" cy="10.7" r="1.2" fill="#1414f0"/>
<circle cx="320.7" cy="8.1" r="1.2" fill="#1414f0"/>
<circle cx="321.2" cy="13.2" r="1.2" fill="#1414f0"/>
<circle cx="321.8" cy="10.1" r="1.2" fill="#1414f0"/>
<circle cx="323.9" cy="13.4" r="1.2" fill="#1414f0"/>
<circle cx="327.0" cy="9.7" r="1.2" fill="#1414f0"/>
<circle cx="327.7" cy="5.5" r="1.2" fill="#1414f0"/>
<circle cx="329.7" cy="11.6" r="1.2" fill="#1414f0"/>
<circle cx="331.6" cy="5.9" r="1.2" fill="#1414f0"/>
<polyline points="54.7,6.1 55.0,6.1 55.4,6.1 55.8,6.1 56.2,6.1 56.6,6.1 56.9,6.1 57.3,6.1 57.7,6.1 58.1,6.1 58.5,6.1 58.9,6.1 59.2,6.1 59.6,6.1 60.0,6.1 60.4,6.1 60.8,6.1 61.1,6.1 61.5,6.1 61.9,6.1 62.3,6.1 62.7,6.1 63.0,6.1 63.4,6.1 63.8,6.1 64.2,6.1 64.6,6.1 65.0,6.1 65.3,6.1 65.7,6.1 66.1,6.2 66.5,6.6 66.9,7.1 67.2,7.8 67.6,8.7 68.0,10.1 68.4,12.6 68.8,15.9 69.1,19.6 69.5,24.1 69.9,29.6 70.3,36.7 70.7,44.5 71.1,51.6 71.4,58.6 71.8,65.7 72.2,73.0 72.6,80.2 73.0,86.8 73.3,93.3 73.7,100.3 74.1,107.6 74.5,114.8 74.9,121.7 75.2,128.4 75.6,135.1 76.0,141.9 76.4,149.2 76.8,156.0 77.1,161.3 77.5,165.6 77.9,169.6 78.3,173.1 78.7,175.9 79.1,177.9 79.4,178.0 79.8,176.8 80.2,175.5 80.6,174.3 81.0,173.0 81.3,171.7 81.7,170.4 82.1,169.1 82.5,167.7 82.9,166.3 83.2,165.0 83.6,163.5 84.0,162.1 84.4,160.7 84.8,159.3 85.2,157.8 85.5,156.3 85.9,154.9 86.3,153.4 86.7,151.9 87.1,150.4 87.4,149.0 87.8,147.5 88.2,146.0 88.6,144.5 89.0,143.0 89.3,141.6 89.7,140.1 90.1,138.6 90.5,137.2 90.9,135.7 91.3,134.3 91.6,132.8 92.0,131.4 92.4,130.0 92.8,128.6 93.2,127.2 93.5,125.8 93.9,124.4 94.3,123.1 94.7,121.7 95.1,120.4 95.4,119.1 95.8,117.8 96.2,116.5 96.6,115.2 97.0,114.0 97.4,112.7 97.7,111.5 98.1,110.3 98.5,109.1 98.9,107.9 99.3,106.8 99.6,105.6 100.0,104.5 100.4,103.4 101.2,101.2 101.9,99.1 102.7,97.1 103.4,95.1 104.2,93.2 105.0,91.3 105.7,89.5 106.5,87.7 107.2,86.0 108.0,84.3 108.8,82.7 109.5,81.1 110.3,79.6 111.0,78.1 111.8,76.7 112.6,75.2 113.3,73.9 114.1,72.5 114.9,71.2 115.6,70.0 116.4,68.8 117.1,67.6 117.9,66.4 118.7,65.3 119.4,64.2 120.2,63.1 120.9,62.1 121.7,61.1 122.5,60.1 123.2,59.2 124.0,58.2 124.7,57.3 125.5,56.5 126.3,55.6 127.0,54.8 127.8,54.0 128.5,53.2 129.3,52.4 130.1,51.7 130.8,50.9 131.6,50.2 132.4,49.5 133.1,48.9 133.9,48.2 134.6,47.6 135.4,46.9 136.2,46.3 136.9,45.7 137.7,45.2 138.4,44.6 139.2,44.0 140.0,43.5 140.7,43.0 141.5,42.5 142.2,42.0 143.0,41.5 143.8,41.0 144.5,40.5 145.3,40.1 146.0,39.6 146.8,39.2 147.6,38.8 148.3,38.3 149.1,37.9 149.8,37.5 150.6,37.1 151.4,36.8 152.1,36.4 152.9,36.0 153.7,35.7 154.4,35.3 155.2,35.0 155.9,34.6 156.7,34.3 157.5,34.0 158.2,33.7 159.0,33.4 159.7,33.0 160.5,32.7 161.3,32.4 164.7,31.1 168.2,29.8 171.6,28.7 175.1,27.6 178.5,26.6 182.0,25.7 185.4,24.9 188.9,24.1 192.4,23.5 195.8,22.8 199.3,22.2 202.7,21.6 206.2,21.1 209.6,20.5 213.1,20.0 216.6,19.5 220.0,19.1 223.5,18.6 226.9,18.2 230.4,17.7 233.8,17.3 237.3,16.9 240.7,16.6 244.2,16.2 247.7,15.9 251.1,15.5 254.6,15.2 258.0,14.9 261.5,14.6 264.9,14.4 268.4,14.1 271.8,13.8 275.3,13.6 278.8,13.4 282.2,13.1 285.7,12.9 289.1,12.7 292.6,12.5 296.0,12.3 299.5,12.2 303.0,12.0 306.4,11.8 309.9,11.7 313.3,11.5 316.8,11.4 320.2,11.2 323.7,11.1 327.1,11.0 330.6,10.8" fill="none" stroke="#1414f0" stroke-width="3.2" stroke-linejoin="round" stroke-linecap="round"/>
<circle cx="85.4" cy="172.7" r="1.2" fill="#7a0c0c"/>
<circle cx="85.3" cy="164.7" r="1.2" fill="#7a0c0c"/>
<circle cx="87.8" cy="160.9" r="1.2" fill="#7a0c0c"/>
<circle cx="89.7" cy="153.4" r="1.2" fill="#7a0c0c"/>
<circle cx="92.0" cy="145.3" r="1.2" fill="#7a0c0c"/>
<circle cx="94.8" cy="138.3" r="1.2" fill="#7a0c0c"/>
<circle cx="94.6" cy="134.6" r="1.2" fill="#7a0c0c"/>
<circle cx="95.8" cy="126.0" r="1.2" fill="#7a0c0c"/>
<circle cx="97.1" cy="120.1" r="1.2" fill="#7a0c0c"/>
<circle cx="97.5" cy="113.5" r="1.2" fill="#7a0c0c"/>
<circle cx="101.9" cy="109.0" r="1.2" fill="#7a0c0c"/>
<circle cx="102.0" cy="104.3" r="1.2" fill="#7a0c0c"/>
<circle cx="104.1" cy="99.7" r="1.2" fill="#7a0c0c"/>
<circle cx="105.8" cy="93.8" r="1.2" fill="#7a0c0c"/>
<circle cx="107.4" cy="91.0" r="1.2" fill="#7a0c0c"/>
<circle cx="109.1" cy="88.1" r="1.2" fill="#7a0c0c"/>
<circle cx="109.3" cy="84.7" r="1.2" fill="#7a0c0c"/>
<circle cx="110.9" cy="82.7" r="1.2" fill="#7a0c0c"/>
<circle cx="113.2" cy="79.7" r="1.2" fill="#7a0c0c"/>
<circle cx="114.0" cy="77.7" r="1.2" fill="#7a0c0c"/>
<circle cx="116.2" cy="74.9" r="1.2" fill="#7a0c0c"/>
<circle cx="118.6" cy="69.6" r="1.2" fill="#7a0c0c"/>
<circle cx="119.8" cy="67.8" r="1.2" fill="#7a0c0c"/>
<circle cx="121.4" cy="67.7" r="1.2" fill="#7a0c0c"/>
<circle cx="123.2" cy="65.1" r="1.2" fill="#7a0c0c"/>
<circle cx="121.8" cy="64.0" r="1.2" fill="#7a0c0c"/>
<circle cx="124.5" cy="63.0" r="1.2" fill="#7a0c0c"/>
<circle cx="125.2" cy="60.4" r="1.2" fill="#7a0c0c"/>
<circle cx="127.5" cy="55.9" r="1.2" fill="#7a0c0c"/>
<circle cx="127.9" cy="56.5" r="1.2" fill="#7a0c0c"/>
<circle cx="129.3" cy="52.6" r="1.2" fill="#7a0c0c"/>
<circle cx="132.4" cy="52.9" r="1.2" fill="#7a0c0c"/>
<circle cx="133.0" cy="51.1" r="1.2" fill="#7a0c0c"/>
<circle cx="134.4" cy="48.8" r="1.2" fill="#7a0c0c"/>
<circle cx="135.8" cy="48.7" r="1.2" fill="#7a0c0c"/>
<circle cx="138.7" cy="46.3" r="1.2" fill="#7a0c0c"/>
<circle cx="139.1" cy="45.5" r="1.2" fill="#7a0c0c"/>
<circle cx="139.7" cy="45.1" r="1.2" fill="#7a0c0c"/>
<circle cx="142.8" cy="42.5" r="1.2" fill="#7a0c0c"/>
<circle cx="144.3" cy="42.0" r="1.2" fill="#7a0c0c"/>
<circle cx="146.0" cy="43.7" r="1.2" fill="#7a0c0c"/>
<circle cx="146.3" cy="38.2" r="1.2" fill="#7a0c0c"/>
<circle cx="147.9" cy="38.3" r="1.2" fill="#7a0c0c"/>
<circle cx="148.6" cy="39.2" r="1.2" fill="#7a0c0c"/>
<circle cx="152.1" cy="38.7" r="1.2" fill="#7a0c0c"/>
<circle cx="152.4" cy="35.3" r="1.2" fill="#7a0c0c"/>
<circle cx="153.7" cy="35.2" r="1.2" fill="#7a0c0c"/>
<circle cx="156.0" cy="35.9" r="1.2" fill="#7a0c0c"/>
<circle cx="157.1" cy="36.0" r="1.2" fill="#7a0c0c"/>
<circle cx="158.5" cy="36.9" r="1.2" fill="#7a0c0c"/>
<circle cx="160.5" cy="34.2" r="1.2" fill="#7a0c0c"/>
<circle cx="161.7" cy="34.9" r="1.2" fill="#7a0c0c"/>
<circle cx="164.1" cy="33.6" r="1.2" fill="#7a0c0c"/>
<circle cx="165.7" cy="31.8" r="1.2" fill="#7a0c0c"/>
<circle cx="165.9" cy="29.7" r="1.2" fill="#7a0c0c"/>
<circle cx="168.2" cy="29.9" r="1.2" fill="#7a0c0c"/>
<circle cx="168.3" cy="32.6" r="1.2" fill="#7a0c0c"/>
<circle cx="170.2" cy="29.3" r="1.2" fill="#7a0c0c"/>
<circle cx="172.8" cy="29.7" r="1.2" fill="#7a0c0c"/>
<circle cx="174.2" cy="28.9" r="1.2" fill="#7a0c0c"/>
<circle cx="175.6" cy="31.0" r="1.2" fill="#7a0c0c"/>
<circle cx="176.6" cy="31.9" r="1.2" fill="#7a0c0c"/>
<circle cx="177.7" cy="27.8" r="1.2" fill="#7a0c0c"/>
<circle cx="179.6" cy="29.6" r="1.2" fill="#7a0c0c"/>
<circle cx="180.8" cy="26.6" r="1.2" fill="#7a0c0c"/>
<circle cx="182.7" cy="29.3" r="1.2" fill="#7a0c0c"/>
<circle cx="183.7" cy="24.2" r="1.2" fill="#7a0c0c"/>
<circle cx="185.4" cy="27.4" r="1.2" fill="#7a0c0c"/>
<circle cx="186.6" cy="26.1" r="1.2" fill="#7a0c0c"/>
<circle cx="187.1" cy="25.6" r="1.2" fill="#7a0c0c"/>
<circle cx="190.1" cy="26.5" r="1.2" fill="#7a0c0c"/>
<circle cx="191.7" cy="26.5" r="1.2" fill="#7a0c0c"/>
<circle cx="192.2" cy="25.9" r="1.2" fill="#7a0c0c"/>
<circle cx="193.2" cy="23.1" r="1.2" fill="#7a0c0c"/>
<circle cx="196.8" cy="25.7" r="1.2" fill="#7a0c0c"/>
<circle cx="196.1" cy="24.9" r="1.2" fill="#7a0c0c"/>
<circle cx="198.7" cy="21.8" r="1.2" fill="#7a0c0c"/>
<circle cx="200.6" cy="23.4" r="1.2" fill="#7a0c0c"/>
<circle cx="203.0" cy="19.9" r="1.2" fill="#7a0c0c"/>
<circle cx="203.1" cy="22.3" r="1.2" fill="#7a0c0c"/>
<circle cx="203.6" cy="24.8" r="1.2" fill="#7a0c0c"/>
<circle cx="207.8" cy="20.8" r="1.2" fill="#7a0c0c"/>
<circle cx="208.2" cy="21.3" r="1.2" fill="#7a0c0c"/>
<circle cx="209.7" cy="20.2" r="1.2" fill="#7a0c0c"/>
<circle cx="211.6" cy="18.9" r="1.2" fill="#7a0c0c"/>
<circle cx="213.5" cy="21.9" r="1.2" fill="#7a0c0c"/>
<circle cx="215.8" cy="17.5" r="1.2" fill="#7a0c0c"/>
<circle cx="215.4" cy="18.0" r="1.2" fill="#7a0c0c"/>
<circle cx="216.8" cy="21.3" r="1.2" fill="#7a0c0c"/>
<circle cx="217.7" cy="17.2" r="1.2" fill="#7a0c0c"/>
<circle cx="218.6" cy="20.5" r="1.2" fill="#7a0c0c"/>
<circle cx="222.4" cy="22.2" r="1.2" fill="#7a0c0c"/>
<circle cx="222.9" cy="17.6" r="1.2" fill="#7a0c0c"/>
<circle cx="224.1" cy="16.2" r="1.2" fill="#7a0c0c"/>
<circle cx="224.7" cy="21.4" r="1.2" fill="#7a0c0c"/>
<circle cx="227.2" cy="19.6" r="1.2" fill="#7a0c0c"/>
<circle cx="228.7" cy="21.5" r="1.2" fill="#7a0c0c"/>
<circle cx="231.5" cy="17.0" r="1.2" fill="#7a0c0c"/>
<circle cx="231.6" cy="17.0" r="1.2" fill="#7a0c0c"/>
<circle cx="234.4" cy="20.8" r="1.2" fill="#7a0c0c"/>
<circle cx="234.7" cy="22.8" r="1.2" fill="#7a0c0c"/>
<circle cx="236.4" cy="15.4" r="1.2" fill="#7a0c0c"/>
<circle cx="236.3" cy="17.4" r="1.2" fill="#7a0c0c"/>
<circle cx="239.6" cy="16.3" r="1.2" fill="#7a0c0c"/>
<circle cx="241.1" cy="19.9" r="1.2" fill="#7a0c0c"/>
<circle cx="242.3" cy="19.0" r="1.2" fill="#7a0c0c"/>
<circle cx="245.1" cy="18.1" r="1.2" fill="#7a0c0c"/>
<circle cx="244.9" cy="17.8" r="1.2" fill="#7a0c0c"/>
<circle cx="247.2" cy="21.2" r="1.2" fill="#7a0c0c"/>
<circle cx="248.0" cy="13.4" r="1.2" fill="#7a0c0c"/>
<circle cx="250.1" cy="17.2" r="1.2" fill="#7a0c0c"/>
<circle cx="251.0" cy="17.5" r="1.2" fill="#7a0c0c"/>
<circle cx="253.1" cy="18.7" r="1.2" fill="#7a0c0c"/>
<circle cx="253.7" cy="14.6" r="1.2" fill="#7a0c0c"/>
<circle cx="255.8" cy="14.9" r="1.2" fill="#7a0c0c"/>
<circle cx="258.3" cy="17.0" r="1.2" fill="#7a0c0c"/>
<circle cx="258.8" cy="18.8" r="1.2" fill="#7a0c0c"/>
<circle cx="260.7" cy="17.6" r="1.2" fill="#7a0c0c"/>
<circle cx="262.4" cy="15.1" r="1.2" fill="#7a0c0c"/>
<circle cx="263.2" cy="15.3" r="1.2" fill="#7a0c0c"/>
<circle cx="264.0" cy="14.5" r="1.2" fill="#7a0c0c"/>
<circle cx="266.9" cy="15.7" r="1.2" fill="#7a0c0c"/>
<circle cx="267.1" cy="19.9" r="1.2" fill="#7a0c0c"/>
<circle cx="268.5" cy="16.1" r="1.2" fill="#7a0c0c"/>
<circle cx="271.3" cy="17.4" r="1.2" fill="#7a0c0c"/>
<circle cx="271.6" cy="14.7" r="1.2" fill="#7a0c0c"/>
<circle cx="273.6" cy="16.9" r="1.2" fill="#7a0c0c"/>
<circle cx="275.6" cy="15.3" r="1.2" fill="#7a0c0c"/>
<circle cx="277.2" cy="18.4" r="1.2" fill="#7a0c0c"/>
<circle cx="278.8" cy="16.1" r="1.2" fill="#7a0c0c"/>
<circle cx="279.1" cy="15.6" r="1.2" fill="#7a0c0c"/>
<circle cx="280.3" cy="16.1" r="1.2" fill="#7a0c0c"/>
<circle cx="282.9" cy="12.2" r="1.2" fill="#7a0c0c"/>
<circle cx="283.4" cy="13.7" r="1.2" fill="#7a0c0c"/>
<circle cx="285.9" cy="12.7" r="1.2" fill="#7a0c0c"/>
<circle cx="287.0" cy="13.1" r="1.2" fill="#7a0c0c"/>
<circle cx="288.4" cy="13.3" r="1.2" fill="#7a0c0c"/>
<circle cx="290.5" cy="16.3" r="1.2" fill="#7a0c0c"/>
<circle cx="292.3" cy="12.4" r="1.2" fill="#7a0c0c"/>
<circle cx="294.5" cy="15.9" r="1.2" fill="#7a0c0c"/>
<circle cx="294.6" cy="15.5" r="1.2" fill="#7a0c0c"/>
<circle cx="295.9" cy="11.8" r="1.2" fill="#7a0c0c"/>
<circle cx="297.2" cy="16.6" r="1.2" fill="#7a0c0c"/>
<circle cx="299.4" cy="13.9" r="1.2" fill="#7a0c0c"/>
<circle cx="300.8" cy="12.3" r="1.2" fill="#7a0c0c"/>
<circle cx="302.6" cy="14.5" r="1.2" fill="#7a0c0c"/>
<circle cx="305.3" cy="11.3" r="1.2" fill="#7a0c0c"/>
<circle cx="306.4" cy="14.3" r="1.2" fill="#7a0c0c"/>
<circle cx="305.5" cy="14.9" r="1.2" fill="#7a0c0c"/>
<circle cx="309.5" cy="15.1" r="1.2" fill="#7a0c0c"/>
<circle cx="310.0" cy="13.1" r="1.2" fill="#7a0c0c"/>
<circle cx="309.8" cy="13.4" r="1.2" fill="#7a0c0c"/>
<circle cx="312.9" cy="10.7" r="1.2" fill="#7a0c0c"/>
<circle cx="314.4" cy="11.2" r="1.2" fill="#7a0c0c"/>
<circle cx="317.5" cy="10.0" r="1.2" fill="#7a0c0c"/>
<circle cx="316.6" cy="7.9" r="1.2" fill="#7a0c0c"/>
<circle cx="318.4" cy="12.6" r="1.2" fill="#7a0c0c"/>
<circle cx="320.2" cy="10.9" r="1.2" fill="#7a0c0c"/>
<circle cx="322.4" cy="12.7" r="1.2" fill="#7a0c0c"/>
<circle cx="324.1" cy="11.9" r="1.2" fill="#7a0c0c"/>
<circle cx="323.3" cy="11.7" r="1.2" fill="#7a0c0c"/>
<circle cx="325.4" cy="13.7" r="1.2" fill="#7a0c0c"/>
<circle cx="327.2" cy="11.4" r="1.2" fill="#7a0c0c"/>
<circle cx="329.1" cy="8.7" r="1.2" fill="#7a0c0c"/>
<circle cx="330.3" cy="13.6" r="1.2" fill="#7a0c0c"/>
<polyline points="54.7,6.1 55.0,6.1 55.4,6.1 55.8,6.1 56.2,6.1 56.6,6.1 56.9,6.1 57.3,6.1 57.7,6.1 58.1,6.1 58.5,6.1 58.9,6.1 59.2,6.1 59.6,6.1 60.0,6.1 60.4,6.1 60.8,6.1 61.1,6.1 61.5,6.1 61.9,6.1 62.3,6.1 62.7,6.1 63.0,6.1 63.4,6.1 63.8,6.1 64.2,6.1 64.6,6.1 65.0,6.1 65.3,6.1 65.7,6.1 66.1,6.2 66.5,6.6 66.9,7.2 67.2,8.0 67.6,8.9 68.0,10.4 68.4,13.1 68.8,16.7 69.1,20.6 69.5,25.5 69.9,31.4 70.3,39.1 70.7,47.5 71.1,55.1 71.4,62.6 71.8,70.2 72.2,78.1 72.6,85.9 73.0,93.0 73.3,100.0 73.7,107.5 74.1,115.4 74.5,123.1 74.9,130.5 75.2,137.8 75.6,145.0 76.0,152.3 76.4,160.2 76.8,167.5 77.1,173.2 77.5,177.8 77.9,182.1 78.3,185.9 78.7,188.9 79.1,191.1 79.4,191.3 79.8,190.4 80.2,189.4 80.6,188.4 81.0,187.3 81.3,186.2 81.7,185.0 82.1,183.7 82.5,182.4 82.9,181.1 83.2,179.7 83.6,178.3 84.0,176.9 84.4,175.4 84.8,173.9 85.2,172.4 85.5,170.8 85.9,169.2 86.3,167.6 86.7,166.0 87.1,164.3 87.4,162.7 87.8,161.0 88.2,159.3 88.6,157.6 89.0,155.9 89.3,154.2 89.7,152.5 90.1,150.8 90.5,149.1 90.9,147.4 91.3,145.7 91.6,144.1 92.0,142.4 92.4,140.7 92.8,139.0 93.2,137.4 93.5,135.8 93.9,134.1 94.3,132.5 94.7,131.0 95.1,129.4 95.4,127.8 95.8,126.3 96.2,124.8 96.6,123.3 97.0,121.8 97.4,120.4 97.7,118.9 98.1,117.5 98.5,116.2 98.9,114.8 99.3,113.5 99.6,112.2 100.0,110.9 100.4,109.6 101.2,107.2 101.9,104.9 102.7,102.7 103.4,100.5 104.2,98.5 105.0,96.5 105.7,94.6 106.5,92.7 107.2,91.0 108.0,89.2 108.8,87.6 109.5,86.0 110.3,84.4 111.0,82.9 111.8,81.4 112.6,80.0 113.3,78.6 114.1,77.3 114.9,75.9 115.6,74.7 116.4,73.4 117.1,72.2 117.9,71.0 118.7,69.8 119.4,68.6 120.2,67.5 120.9,66.3 121.7,65.2 122.5,64.1 123.2,63.1 124.0,62.0 124.7,61.0 125.5,60.0 126.3,59.0 127.0,58.0 127.8,57.0 128.5,56.1 129.3,55.2 130.1,54.3 130.8,53.4 131.6,52.6 132.4,51.8 133.1,51.0 133.9,50.3 134.6,49.5 135.4,48.9 136.2,48.2 136.9,47.5 137.7,46.9 138.4,46.3 139.2,45.7 140.0,45.2 140.7,44.7 141.5,44.2 142.2,43.7 143.0,43.2 143.8,42.7 144.5,42.3 145.3,41.9 146.0,41.5 146.8,41.0 147.6,40.6 148.3,40.2 149.1,39.9 149.8,39.5 150.6,39.1 151.4,38.7 152.1,38.3 152.9,38.0 153.7,37.6 154.4,37.3 155.2,36.9 155.9,36.5 156.7,36.2 157.5,35.8 158.2,35.5 159.0,35.2 159.7,34.8 160.5,34.5 161.3,34.2 164.7,32.8 168.2,31.4 171.6,30.2 175.1,29.1 178.5,28.1 182.0,27.1 185.4,26.3 188.9,25.5 192.4,24.7 195.8,24.0 199.3,23.4 202.7,22.7 206.2,22.1 209.6,21.6 213.1,21.0 216.6,20.5 220.0,20.0 223.5,19.5 226.9,19.0 230.4,18.6 233.8,18.2 237.3,17.8 240.7,17.4 244.2,17.0 247.7,16.7 251.1,16.4 254.6,16.1 258.0,15.7 261.5,15.5 264.9,15.2 268.4,14.9 271.8,14.7 275.3,14.4 278.8,14.2 282.2,14.0 285.7,13.7 289.1,13.5 292.6,13.3 296.0,13.2 299.5,13.0 303.0,12.8 306.4,12.6 309.9,12.5 313.3,12.3 316.8,12.2 320.2,12.0 323.7,11.9 327.1,11.8 330.6,11.7" fill="none" stroke="#7a0c0c" stroke-width="3.2" stroke-linejoin="round" stroke-linecap="round"/>
<circle cx="83.8" cy="181.3" r="1.2" fill="#35962a"/>
<circle cx="86.8" cy="174.5" r="1.2" fill="#35962a"/>
<circle cx="88.4" cy="168.5" r="1.2" fill="#35962a"/>
<circle cx="88.5" cy="161.7" r="1.2" fill="#35962a"/>
<circle cx="90.7" cy="155.7" r="1.2" fill="#35962a"/>
<circle cx="93.3" cy="146.9" r="1.2" fill="#35962a"/>
<circle cx="94.5" cy="140.9" r="1.2" fill="#35962a"/>
<circle cx="96.2" cy="135.6" r="1.2" fill="#35962a"/>
<circle cx="97.9" cy="129.7" r="1.2" fill="#35962a"/>
<circle cx="99.6" cy="122.2" r="1.2" fill="#35962a"/>
<circle cx="99.5" cy="115.3" r="1.2" fill="#35962a"/>
<circle cx="102.4" cy="112.0" r="1.2" fill="#35962a"/>
<circle cx="104.9" cy="105.6" r="1.2" fill="#35962a"/>
<circle cx="105.4" cy="100.6" r="1.2" fill="#35962a"/>
<circle cx="106.6" cy="94.6" r="1.2" fill="#35962a"/>
<circle cx="109.1" cy="91.9" r="1.2" fill="#35962a"/>
<circle cx="110.0" cy="89.2" r="1.2" fill="#35962a"/>
<circle cx="111.9" cy="83.9" r="1.2" fill="#35962a"/>
<circle cx="114.4" cy="83.0" r="1.2" fill="#35962a"/>
<circle cx="115.2" cy="78.6" r="1.2" fill="#35962a"/>
<circle cx="115.2" cy="75.0" r="1.2" fill="#35962a"/>
<circle cx="117.8" cy="74.5" r="1.2" fill="#35962a"/>
<circle cx="119.0" cy="74.1" r="1.2" fill="#35962a"/>
<circle cx="121.4" cy="70.9" r="1.2" fill="#35962a"/>
<circle cx="123.4" cy="66.3" r="1.2" fill="#35962a"/>
<circle cx="123.5" cy="68.1" r="1.2" fill="#35962a"/>
<circle cx="123.2" cy="66.3" r="1.2" fill="#35962a"/>
<circle cx="126.5" cy="64.4" r="1.2" fill="#35962a"/>
<circle cx="128.0" cy="59.3" r="1.2" fill="#35962a"/>
<circle cx="128.5" cy="58.3" r="1.2" fill="#35962a"/>
<circle cx="130.2" cy="57.0" r="1.2" fill="#35962a"/>
<circle cx="132.5" cy="55.9" r="1.2" fill="#35962a"/>
<circle cx="132.5" cy="54.4" r="1.2" fill="#35962a"/>
<circle cx="135.9" cy="52.0" r="1.2" fill="#35962a"/>
<circle cx="135.0" cy="49.3" r="1.2" fill="#35962a"/>
<circle cx="137.5" cy="46.8" r="1.2" fill="#35962a"/>
<circle cx="139.0" cy="46.1" r="1.2" fill="#35962a"/>
<circle cx="141.2" cy="47.8" r="1.2" fill="#35962a"/>
<circle cx="142.1" cy="44.2" r="1.2" fill="#35962a"/>
<circle cx="143.9" cy="44.1" r="1.2" fill="#35962a"/>
<circle cx="144.6" cy="45.7" r="1.2" fill="#35962a"/>
<circle cx="146.1" cy="41.2" r="1.2" fill="#35962a"/>
<circle cx="148.7" cy="45.0" r="1.2" fill="#35962a"/>
<circle cx="150.8" cy="42.7" r="1.2" fill="#35962a"/>
<circle cx="152.7" cy="40.2" r="1.2" fill="#35962a"/>
<circle cx="154.3" cy="43.2" r="1.2" fill="#35962a"/>
<circle cx="153.9" cy="39.8" r="1.2" fill="#35962a"/>
<circle cx="154.6" cy="36.8" r="1.2" fill="#35962a"/>
<circle cx="157.5" cy="35.9" r="1.2" fill="#35962a"/>
<circle cx="158.8" cy="37.8" r="1.2" fill="#35962a"/>
<circle cx="160.2" cy="38.0" r="1.2" fill="#35962a"/>
<circle cx="163.1" cy="36.1" r="1.2" fill="#35962a"/>
<circle cx="163.9" cy="37.6" r="1.2" fill="#35962a"/>
<circle cx="164.2" cy="33.4" r="1.2" fill="#35962a"/>
<circle cx="164.3" cy="34.7" r="1.2" fill="#35962a"/>
<circle cx="168.4" cy="34.2" r="1.2" fill="#35962a"/>
<circle cx="170.7" cy="35.5" r="1.2" fill="#35962a"/>
<circle cx="171.2" cy="32.3" r="1.2" fill="#35962a"/>
<circle cx="171.4" cy="32.0" r="1.2" fill="#35962a"/>
<circle cx="174.0" cy="31.2" r="1.2" fill="#35962a"/>
<circle cx="174.8" cy="30.2" r="1.2" fill="#35962a"/>
<circle cx="177.1" cy="27.3" r="1.2" fill="#35962a"/>
<circle cx="177.8" cy="30.1" r="1.2" fill="#35962a"/>
<circle cx="180.1" cy="30.8" r="1.2" fill="#35962a"/>
<circle cx="180.9" cy="28.0" r="1.2" fill="#35962a"/>
<circle cx="181.7" cy="30.9" r="1.2" fill="#35962a"/>
<circle cx="184.5" cy="28.6" r="1.2" fill="#35962a"/>
<circle cx="185.0" cy="25.7" r="1.2" fill="#35962a"/>
<circle cx="187.9" cy="27.5" r="1.2" fill="#35962a"/>
<circle cx="188.9" cy="30.7" r="1.2" fill="#35962a"/>
<circle cx="188.9" cy="25.2" r="1.2" fill="#35962a"/>
<circle cx="191.8" cy="27.7" r="1.2" fill="#35962a"/>
<circle cx="192.2" cy="25.9" r="1.2" fill="#35962a"/>
<circle cx="194.1" cy="24.6" r="1.2" fill="#35962a"/>
<circle cx="196.3" cy="25.8" r="1.2" fill="#35962a"/>
<circle cx="198.4" cy="26.4" r="1.2" fill="#35962a"/>
<circle cx="200.1" cy="23.1" r="1.2" fill="#35962a"/>
<circle cx="200.8" cy="21.6" r="1.2" fill="#35962a"/>
<circle cx="200.7" cy="21.3" r="1.2" fill="#35962a"/>
<circle cx="204.0" cy="24.3" r="1.2" fill="#35962a"/>
<circle cx="203.7" cy="26.4" r="1.2" fill="#35962a"/>
<circle cx="207.2" cy="23.0" r="1.2" fill="#35962a"/>
<circle cx="207.8" cy="23.1" r="1.2" fill="#35962a"/>
<circle cx="208.5" cy="27.7" r="1.2" fill="#35962a"/>
<circle cx="210.6" cy="22.2" r="1.2" fill="#35962a"/>
<circle cx="212.2" cy="21.0" r="1.2" fill="#35962a"/>
<circle cx="213.2" cy="22.8" r="1.2" fill="#35962a"/>
<circle cx="214.5" cy="19.7" r="1.2" fill="#35962a"/>
<circle cx="216.3" cy="23.4" r="1.2" fill="#35962a"/>
<circle cx="217.7" cy="19.4" r="1.2" fill="#35962a"/>
<circle cx="220.2" cy="18.9" r="1.2" fill="#35962a"/>
<circle cx="221.2" cy="22.9" r="1.2" fill="#35962a"/>
<circle cx="223.2" cy="20.9" r="1.2" fill="#35962a"/>
<circle cx="225.6" cy="19.8" r="1.2" fill="#35962a"/>
<circle cx="225.4" cy="16.8" r="1.2" fill="#35962a"/>
<circle cx="227.4" cy="21.6" r="1.2" fill="#35962a"/>
<circle cx="228.4" cy="24.0" r="1.2" fill="#35962a"/>
<circle cx="231.2" cy="21.9" r="1.2" fill="#35962a"/>
<circle cx="231.0" cy="20.4" r="1.2" fill="#35962a"/>
<circle cx="233.6" cy="15.4" r="1.2" fill="#35962a"/>
<circle cx="234.8" cy="18.9" r="1.2" fill="#35962a"/>
<circle cx="235.0" cy="20.3" r="1.2" fill="#35962a"/>
<circle cx="239.4" cy="20.7" r="1.2" fill="#35962a"/>
<circle cx="238.7" cy="18.4" r="1.2" fill="#35962a"/>
<circle cx="241.7" cy="17.1" r="1.2" fill="#35962a"/>
<circle cx="242.6" cy="18.8" r="1.2" fill="#35962a"/>
<circle cx="244.0" cy="22.0" r="1.2" fill="#35962a"/>
<circle cx="244.2" cy="20.8" r="1.2" fill="#35962a"/>
<circle cx="247.0" cy="18.1" r="1.2" fill="#35962a"/>
<circle cx="247.1" cy="18.8" r="1.2" fill="#35962a"/>
<circle cx="249.5" cy="11.9" r="1.2" fill="#35962a"/>
<circle cx="250.3" cy="15.4" r="1.2" fill="#35962a"/>
<circle cx="252.0" cy="16.5" r="1.2" fill="#35962a"/>
<circle cx="253.7" cy="20.9" r="1.2" fill="#35962a"/>
<circle cx="256.6" cy="17.3" r="1.2" fill="#35962a"/>
<circle cx="258.4" cy="21.8" r="1.2" fill="#35962a"/>
<circle cx="259.2" cy="14.5" r="1.2" fill="#35962a"/>
<circle cx="260.6" cy="20.1" r="1.2" fill="#35962a"/>
<circle cx="261.0" cy="17.0" r="1.2" fill="#35962a"/>
<circle cx="264.0" cy="19.4" r="1.2" fill="#35962a"/>
<circle cx="265.4" cy="17.6" r="1.2" fill="#35962a"/>
<circle cx="266.2" cy="15.6" r="1.2" fill="#35962a"/>
<circle cx="268.5" cy="18.6" r="1.2" fill="#35962a"/>
<circle cx="268.9" cy="15.1" r="1.2" fill="#35962a"/>
<circle cx="271.7" cy="18.5" r="1.2" fill="#35962a"/>
<circle cx="271.7" cy="12.9" r="1.2" fill="#35962a"/>
<circle cx="273.9" cy="17.9" r="1.2" fill="#35962a"/>
<circle cx="276.0" cy="17.8" r="1.2" fill="#35962a"/>
<circle cx="275.6" cy="16.2" r="1.2" fill="#35962a"/>
<circle cx="278.0" cy="14.4" r="1.2" fill="#35962a"/>
<circle cx="281.7" cy="15.9" r="1.2" fill="#35962a"/>
<circle cx="281.4" cy="15.2" r="1.2" fill="#35962a"/>
<circle cx="283.3" cy="18.1" r="1.2" fill="#35962a"/>
<circle cx="284.0" cy="15.5" r="1.2" fill="#35962a"/>
<circle cx="285.4" cy="13.4" r="1.2" fill="#35962a"/>
<circle cx="287.1" cy="16.2" r="1.2" fill="#35962a"/>
<circle cx="288.7" cy="14.8" r="1.2" fill="#35962a"/>
<circle cx="288.8" cy="16.0" r="1.2" fill="#35962a"/>
<circle cx="291.8" cy="18.4" r="1.2" fill="#35962a"/>
<circle cx="292.7" cy="12.2" r="1.2" fill="#35962a"/>
<circle cx="293.2" cy="13.7" r="1.2" fill="#35962a"/>
<circle cx="296.1" cy="15.5" r="1.2" fill="#35962a"/>
<circle cx="296.5" cy="13.7" r="1.2" fill="#35962a"/>
<circle cx="299.9" cy="14.9" r="1.2" fill="#35962a"/>
<circle cx="300.4" cy="13.9" r="1.2" fill="#35962a"/>
<circle cx="301.0" cy="11.7" r="1.2" fill="#35962a"/>
<circle cx="303.3" cy="17.1" r="1.2" fill="#35962a"/>
<circle cx="306.0" cy="14.2" r="1.2" fill="#35962a"/>
<circle cx="307.1" cy="15.3" r="1.2" fill="#35962a"/>
<circle cx="309.0" cy="12.9" r="1.2" fill="#35962a"/>
<circle cx="309.8" cy="16.3" r="1.2" fill="#35962a"/>
<circle cx="310.2" cy="14.1" r="1.2" fill="#35962a"/>
<circle cx="312.8" cy="15.0" r="1.2" fill="#35962a"/>
<circle cx="314.5" cy="15.3" r="1.2" fill="#35962a"/>
<circle cx="316.4" cy="16.9" r="1.2" fill="#35962a"/>
<circle cx="317.4" cy="18.5" r="1.2" fill="#35962a"/>
<circle cx="318.3" cy="13.5" r="1.2" fill="#35962a"/>
<circle cx="320.4" cy="12.3" r="1.2" fill="#35962a"/>
<circle cx="320.5" cy="11.1" r="1.2" fill="#35962a"/>
<circle cx="324.0" cy="12.4" r="1.2" fill="#35962a"/>
<circle cx="323.6" cy="17.6" r="1.2" fill="#35962a"/>
<circle cx="326.4" cy="14.0" r="1.2" fill="#35962a"/>
<circle cx="326.9" cy="14.1" r="1.2" fill="#35962a"/>
<circle cx="328.7" cy="14.0" r="1.2" fill="#35962a"/>
<circle cx="330.6" cy="12.9" r="1.2" fill="#35962a"/>
<polyline points="54.7,6.1 55.0,6.1 55.4,6.1 55.8,6.1 56.2,6.1 56.6,6.1 56.9,6.1 57.3,6.1 57.7,6.1 58.1,6.1 58.5,6.1 58.9,6.1 59.2,6.1 59.6,6.1 60.0,6.1 60.4,6.1 60.8,6.1 61.1,6.1 61.5,6.1 61.9,6.1 62.3,6.1 62.7,6.1 63.0,6.1 63.4,6.1 63.8,6.1 64.2,6.1 64.6,6.1 65.0,6.1 65.3,6.1 65.7,6.1 66.1,6.3 66.5,6.7 66.9,7.3 67.2,8.1 67.6,9.1 68.0,10.7 68.4,13.7 68.8,17.6 69.1,21.8 69.5,27.1 69.9,33.5 70.3,41.8 70.7,50.9 71.1,59.2 71.4,67.3 71.8,75.6 72.2,84.1 72.6,92.5 73.0,100.2 73.3,107.8 73.7,115.9 74.1,124.4 74.5,132.8 74.9,140.9 75.2,148.7 75.6,156.5 76.0,164.5 76.4,173.0 76.8,180.9 77.1,187.1 77.5,192.1 77.9,196.7 78.3,200.8 78.7,204.1 79.1,206.4 79.4,206.2 79.8,204.6 80.2,203.0 80.6,201.3 81.0,199.6 81.3,197.9 81.7,196.3 82.1,194.6 82.5,192.9 82.9,191.2 83.2,189.5 83.6,187.8 84.0,186.0 84.4,184.3 84.8,182.6 85.2,180.9 85.5,179.2 85.9,177.4 86.3,175.7 86.7,174.0 87.1,172.3 87.4,170.6 87.8,168.9 88.2,167.2 88.6,165.5 89.0,163.8 89.3,162.1 89.7,160.4 90.1,158.8 90.5,157.1 90.9,155.4 91.3,153.8 91.6,152.1 92.0,150.5 92.4,148.9 92.8,147.3 93.2,145.7 93.5,144.1 93.9,142.5 94.3,141.0 94.7,139.4 95.1,137.9 95.4,136.3 95.8,134.8 96.2,133.3 96.6,131.8 97.0,130.3 97.4,128.9 97.7,127.4 98.1,126.0 98.5,124.5 98.9,123.1 99.3,121.7 99.6,120.3 100.0,119.0 100.4,117.6 101.2,115.0 101.9,112.4 102.7,109.8 103.4,107.4 104.2,104.9 105.0,102.6 105.7,100.3 106.5,98.1 107.2,96.0 108.0,94.0 108.8,92.0 109.5,90.1 110.3,88.3 111.0,86.6 111.8,85.0 112.6,83.5 113.3,82.0 114.1,80.6 114.9,79.3 115.6,78.0 116.4,76.8 117.1,75.6 117.9,74.5 118.7,73.3 119.4,72.2 120.2,71.1 120.9,70.0 121.7,69.0 122.5,67.9 123.2,66.8 124.0,65.7 124.7,64.6 125.5,63.5 126.3,62.4 127.0,61.3 127.8,60.2 128.5,59.1 129.3,58.1 130.1,57.0 130.8,56.0 131.6,55.1 132.4,54.1 133.1,53.2 133.9,52.4 134.6,51.6 135.4,50.9 136.2,50.2 136.9,49.5 137.7,48.9 138.4,48.4 139.2,47.8 140.0,47.3 140.7,46.8 141.5,46.3 142.2,45.9 143.0,45.4 143.8,44.9 144.5,44.5 145.3,44.0 146.0,43.6 146.8,43.2 147.6,42.7 148.3,42.3 149.1,41.8 149.8,41.4 150.6,41.0 151.4,40.6 152.1,40.2 152.9,39.8 153.7,39.4 154.4,39.0 155.2,38.7 155.9,38.3 156.7,37.9 157.5,37.6 158.2,37.2 159.0,36.9 159.7,36.5 160.5,36.2 161.3,35.9 164.7,34.5 168.2,33.2 171.6,31.9 175.1,30.8 178.5,29.7 182.0,28.7 185.4,27.8 188.9,27.0 192.4,26.2 195.8,25.4 199.3,24.7 202.7,24.0 206.2,23.4 209.6,22.8 213.1,22.3 216.6,21.8 220.0,21.3 223.5,20.8 226.9,20.4 230.4,20.0 233.8,19.6 237.3,19.2 240.7,18.9 244.2,18.5 247.7,18.2 251.1,17.9 254.6,17.6 258.0,17.4 261.5,17.1 264.9,16.8 268.4,16.6 271.8,16.4 275.3,16.2 278.8,15.9 282.2,15.7 285.7,15.5 289.1,15.3 292.6,15.2 296.0,15.0 299.5,14.8 303.0,14.6 306.4,14.5 309.9,14.3 313.3,14.2 316.8,14.0 320.2,13.9 323.7,13.7 327.1,13.6 330.6,13.4" fill="none" stroke="#35962a" stroke-width="3.6" stroke-linejoin="round" stroke-linecap="round"/>
</g>
<rect x="55" y="4" width="276" height="222.5" fill="none" stroke="#000" stroke-width="1.8"/>
<line x1="50.4" y1="6.1" x2="55" y2="6.1" stroke="#000" stroke-width="1.6"/>
<text x="47.4" y="9.7" text-anchor="end" class="t">0</text>
<line x1="50.4" y1="33.6" x2="55" y2="33.6" stroke="#000" stroke-width="1.6"/>
<text x="47.4" y="37.2" text-anchor="end" class="t">-5</text>
<line x1="50.4" y1="61.2" x2="55" y2="61.2" stroke="#000" stroke-width="1.6"/>
<text x="47.4" y="64.8" text-anchor="end" class="t">-10</text>
<line x1="50.4" y1="88.7" x2="55" y2="88.7" stroke="#000" stroke-width="1.6"/>
<text x="47.4" y="92.3" text-anchor="end" class="t">-15</text>
<line x1="50.4" y1="116.2" x2="55" y2="116.2" stroke="#000" stroke-width="1.6"/>
<text x="47.4" y="119.8" text-anchor="end" class="t">-20</text>
<line x1="50.4" y1="143.8" x2="55" y2="143.8" stroke="#000" stroke-width="1.6"/>
<text x="47.4" y="147.4" text-anchor="end" class="t">-25</text>
<line x1="50.4" y1="171.3" x2="55" y2="171.3" stroke="#000" stroke-width="1.6"/>
<text x="47.4" y="174.9" text-anchor="end" class="t">-30</text>
<line x1="50.4" y1="198.9" x2="55" y2="198.9" stroke="#000" stroke-width="1.6"/>
<text x="47.4" y="202.5" text-anchor="end" class="t">-35</text>
<line x1="50.4" y1="226.4" x2="55" y2="226.4" stroke="#000" stroke-width="1.6"/>
<text x="47.4" y="230" text-anchor="end" class="t">-40</text>
<line x1="66" y1="226.5" x2="66" y2="231.1" stroke="#000" stroke-width="1.6"/>
<text x="66" y="244.2" text-anchor="middle" class="t">0</text>
<line x1="103.8" y1="226.5" x2="103.8" y2="231.1" stroke="#000" stroke-width="1.6"/>
<text x="103.8" y="244.2" text-anchor="middle" class="t">1</text>
<line x1="141.6" y1="226.5" x2="141.6" y2="231.1" stroke="#000" stroke-width="1.6"/>
<text x="141.6" y="244.2" text-anchor="middle" class="t">2</text>
<line x1="179.4" y1="226.5" x2="179.4" y2="231.1" stroke="#000" stroke-width="1.6"/>
<text x="179.4" y="244.2" text-anchor="middle" class="t">3</text>
<line x1="217.2" y1="226.5" x2="217.2" y2="231.1" stroke="#000" stroke-width="1.6"/>
<text x="217.2" y="244.2" text-anchor="middle" class="t">4</text>
<line x1="255" y1="226.5" x2="255" y2="231.1" stroke="#000" stroke-width="1.6"/>
<text x="255" y="244.2" text-anchor="middle" class="t">5</text>
<line x1="292.8" y1="226.5" x2="292.8" y2="231.1" stroke="#000" stroke-width="1.6"/>
<text x="292.8" y="244.2" text-anchor="middle" class="t">6</text>
<line x1="330.6" y1="226.5" x2="330.6" y2="231.1" stroke="#000" stroke-width="1.6"/>
<text x="330.6" y="244.2" text-anchor="middle" class="t">7</text>
<text x="183.2" y="260.7" text-anchor="middle" class="t">Decay time (ps)</text>
<text transform="translate(21.8,115.9) rotate(-90)" x="0" y="0" text-anchor="middle" class="t"><tspan font-weight="normal">&#916;</tspan>T/T(mOD)</text>
<text x="-0.6" y="23.6" class="pl" textLength="21.7" lengthAdjust="spacingAndGlyphs">(a)</text>
<rect x="219.5" y="27.2" width="109.7" height="87.7" fill="#fff" stroke="#a8a8a8" stroke-width="1"/>
<circle cx="235.7" cy="37.5" r="3.1" fill="#000000"/>
<text x="254" y="41.8" class="lg" font-size="12.2">1.2x10<tspan dy="-4.6" font-size="8.8">14</tspan><tspan dy="4.6">cm</tspan><tspan dy="-4.6" font-size="8.8">-2</tspan></text>
<circle cx="235.7" cy="55.0" r="3.1" fill="#ff1e0e"/>
<text x="254" y="59.3" class="lg" font-size="12.2">1.5x10<tspan dy="-4.6" font-size="8.8">14</tspan><tspan dy="4.6">cm</tspan><tspan dy="-4.6" font-size="8.8">-2</tspan></text>
<circle cx="235.7" cy="72.3" r="3.1" fill="#1414f0"/>
<text x="254" y="76.6" class="lg" font-size="12.2">1.7x10<tspan dy="-4.6" font-size="8.8">14</tspan><tspan dy="4.6">cm</tspan><tspan dy="-4.6" font-size="8.8">-2</tspan></text>
<circle cx="235.7" cy="90.0" r="3.1" fill="#7a0c0c"/>
<text x="254" y="94.3" class="lg" font-size="12.2">2x10<tspan dy="-4.6" font-size="8.8">14</tspan><tspan dy="4.6">cm</tspan><tspan dy="-4.6" font-size="8.8">-2</tspan></text>
<circle cx="235.7" cy="107.3" r="3.1" fill="#35962a"/>
<text x="254" y="111.6" class="lg" font-size="12.2">2.2x10<tspan dy="-4.6" font-size="8.8">14</tspan><tspan dy="4.6">cm</tspan><tspan dy="-4.6" font-size="8.8">-2</tspan></text>
<text x="150.5" y="159.4" class="an" font-size="16">V-MoS<tspan dy="3.8" font-size="10.2">2</tspan></text>
<text x="151.3" y="180.3" class="an" font-size="15.4" textLength="92.2" lengthAdjust="spacingAndGlyphs">Pump &#8211; 2 eV</text>
<text x="149.9" y="199.8" class="an" font-size="15.4" textLength="106.3" lengthAdjust="spacingAndGlyphs">Probe -0.31 eV</text>
<g clip-path="url(#cb)">
<circle cx="431.1" cy="141.4" r="1.2" fill="#000000"/>
<circle cx="433.9" cy="149.9" r="1.2" fill="#000000"/>
<circle cx="433.3" cy="152.5" r="1.2" fill="#000000"/>
<circle cx="436.9" cy="146.5" r="1.2" fill="#000000"/>
<circle cx="437.4" cy="144.3" r="1.2" fill="#000000"/>
<circle cx="438.6" cy="136.0" r="1.2" fill="#000000"/>
<circle cx="441.8" cy="131.3" r="1.2" fill="#000000"/>
<circle cx="443.7" cy="125.5" r="1.2" fill="#000000"/>
<circle cx="443.8" cy="119.1" r="1.2" fill="#000000"/>
<circle cx="445.3" cy="114.0" r="1.2" fill="#000000"/>
<circle cx="447.6" cy="106.7" r="1.2" fill="#000000"/>
<circle cx="449.2" cy="101.9" r="1.2" fill="#000000"/>
<circle cx="450.5" cy="97.4" r="1.2" fill="#000000"/>
<circle cx="452.2" cy="90.7" r="1.2" fill="#000000"/>
<circle cx="453.9" cy="87.5" r="1.2" fill="#000000"/>
<circle cx="456.0" cy="83.7" r="1.2" fill="#000000"/>
<circle cx="456.3" cy="80.5" r="1.2" fill="#000000"/>
<circle cx="458.5" cy="78.9" r="1.2" fill="#000000"/>
<circle cx="460.0" cy="74.5" r="1.2" fill="#000000"/>
<circle cx="461.5" cy="71.5" r="1.2" fill="#000000"/>
<circle cx="463.0" cy="68.0" r="1.2" fill="#000000"/>
<circle cx="464.5" cy="67.9" r="1.2" fill="#000000"/>
<circle cx="467.0" cy="61.9" r="1.2" fill="#000000"/>
<circle cx="467.6" cy="61.8" r="1.2" fill="#000000"/>
<circle cx="468.9" cy="58.7" r="1.2" fill="#000000"/>
<circle cx="469.3" cy="60.6" r="1.2" fill="#000000"/>
<circle cx="471.6" cy="57.6" r="1.2" fill="#000000"/>
<circle cx="473.0" cy="55.7" r="1.2" fill="#000000"/>
<circle cx="474.1" cy="53.9" r="1.2" fill="#000000"/>
<circle cx="474.2" cy="51.7" r="1.2" fill="#000000"/>
<circle cx="477.1" cy="52.6" r="1.2" fill="#000000"/>
<circle cx="478.6" cy="52.4" r="1.2" fill="#000000"/>
<circle cx="480.6" cy="48.4" r="1.2" fill="#000000"/>
<circle cx="481.1" cy="50.1" r="1.2" fill="#000000"/>
<circle cx="482.7" cy="44.4" r="1.2" fill="#000000"/>
<circle cx="484.7" cy="44.0" r="1.2" fill="#000000"/>
<circle cx="486.4" cy="41.5" r="1.2" fill="#000000"/>
<circle cx="488.1" cy="44.0" r="1.2" fill="#000000"/>
<circle cx="488.7" cy="40.3" r="1.2" fill="#000000"/>
<circle cx="490.5" cy="42.3" r="1.2" fill="#000000"/>
<circle cx="491.5" cy="39.5" r="1.2" fill="#000000"/>
<circle cx="494.3" cy="39.8" r="1.2" fill="#000000"/>
<circle cx="494.9" cy="38.6" r="1.2" fill="#000000"/>
<circle cx="496.6" cy="36.6" r="1.2" fill="#000000"/>
<circle cx="497.9" cy="32.4" r="1.2" fill="#000000"/>
<circle cx="499.6" cy="37.0" r="1.2" fill="#000000"/>
<circle cx="501.5" cy="34.3" r="1.2" fill="#000000"/>
<circle cx="503.8" cy="36.4" r="1.2" fill="#000000"/>
<circle cx="503.4" cy="33.5" r="1.2" fill="#000000"/>
<circle cx="505.2" cy="31.5" r="1.2" fill="#000000"/>
<circle cx="507.8" cy="33.9" r="1.2" fill="#000000"/>
<circle cx="508.0" cy="31.3" r="1.2" fill="#000000"/>
<circle cx="510.4" cy="30.4" r="1.2" fill="#000000"/>
<circle cx="512.3" cy="30.9" r="1.2" fill="#000000"/>
<circle cx="513.3" cy="27.2" r="1.2" fill="#000000"/>
<circle cx="515.5" cy="25.3" r="1.2" fill="#000000"/>
<circle cx="516.0" cy="30.5" r="1.2" fill="#000000"/>
<circle cx="517.7" cy="26.7" r="1.2" fill="#000000"/>
<circle cx="518.8" cy="25.3" r="1.2" fill="#000000"/>
<circle cx="521.6" cy="27.8" r="1.2" fill="#000000"/>
<circle cx="521.4" cy="29.8" r="1.2" fill="#000000"/>
<circle cx="523.2" cy="26.9" r="1.2" fill="#000000"/>
<circle cx="523.7" cy="25.6" r="1.2" fill="#000000"/>
<circle cx="527.1" cy="25.6" r="1.2" fill="#000000"/>
<circle cx="527.6" cy="27.0" r="1.2" fill="#000000"/>
<circle cx="528.9" cy="27.2" r="1.2" fill="#000000"/>
<circle cx="531.0" cy="24.2" r="1.2" fill="#000000"/>
<circle cx="533.0" cy="24.9" r="1.2" fill="#000000"/>
<circle cx="535.7" cy="24.1" r="1.2" fill="#000000"/>
<circle cx="534.5" cy="24.2" r="1.2" fill="#000000"/>
<circle cx="536.5" cy="22.3" r="1.2" fill="#000000"/>
<circle cx="538.4" cy="23.2" r="1.2" fill="#000000"/>
<circle cx="541.2" cy="22.9" r="1.2" fill="#000000"/>
<circle cx="541.4" cy="20.8" r="1.2" fill="#000000"/>
<circle cx="542.6" cy="21.4" r="1.2" fill="#000000"/>
<circle cx="544.9" cy="22.3" r="1.2" fill="#000000"/>
<circle cx="546.9" cy="17.5" r="1.2" fill="#000000"/>
<circle cx="548.3" cy="23.1" r="1.2" fill="#000000"/>
<circle cx="547.5" cy="23.9" r="1.2" fill="#000000"/>
<circle cx="550.8" cy="18.4" r="1.2" fill="#000000"/>
<circle cx="552.5" cy="18.7" r="1.2" fill="#000000"/>
<circle cx="553.7" cy="22.2" r="1.2" fill="#000000"/>
<circle cx="556.2" cy="22.9" r="1.2" fill="#000000"/>
<circle cx="556.7" cy="16.1" r="1.2" fill="#000000"/>
<circle cx="557.8" cy="21.0" r="1.2" fill="#000000"/>
<circle cx="560.4" cy="20.6" r="1.2" fill="#000000"/>
<circle cx="560.5" cy="19.3" r="1.2" fill="#000000"/>
<circle cx="562.0" cy="19.8" r="1.2" fill="#000000"/>
<circle cx="563.0" cy="19.6" r="1.2" fill="#000000"/>
<circle cx="566.5" cy="17.3" r="1.2" fill="#000000"/>
<circle cx="568.3" cy="14.2" r="1.2" fill="#000000"/>
<circle cx="569.4" cy="16.7" r="1.2" fill="#000000"/>
<circle cx="570.2" cy="19.7" r="1.2" fill="#000000"/>
<circle cx="572.4" cy="15.2" r="1.2" fill="#000000"/>
<circle cx="573.6" cy="15.0" r="1.2" fill="#000000"/>
<circle cx="575.0" cy="18.0" r="1.2" fill="#000000"/>
<circle cx="576.7" cy="16.2" r="1.2" fill="#000000"/>
<circle cx="577.7" cy="15.8" r="1.2" fill="#000000"/>
<circle cx="579.5" cy="19.6" r="1.2" fill="#000000"/>
<circle cx="581.4" cy="17.5" r="1.2" fill="#000000"/>
<circle cx="583.3" cy="18.9" r="1.2" fill="#000000"/>
<circle cx="584.9" cy="18.4" r="1.2" fill="#000000"/>
<circle cx="585.3" cy="18.5" r="1.2" fill="#000000"/>
<circle cx="587.9" cy="16.9" r="1.2" fill="#000000"/>
<circle cx="588.8" cy="15.6" r="1.2" fill="#000000"/>
<circle cx="590.8" cy="15.7" r="1.2" fill="#000000"/>
<circle cx="590.1" cy="18.7" r="1.2" fill="#000000"/>
<circle cx="592.0" cy="19.6" r="1.2" fill="#000000"/>
<circle cx="594.1" cy="13.9" r="1.2" fill="#000000"/>
<circle cx="595.3" cy="17.8" r="1.2" fill="#000000"/>
<circle cx="597.2" cy="17.8" r="1.2" fill="#000000"/>
<circle cx="598.3" cy="18.0" r="1.2" fill="#000000"/>
<circle cx="600.7" cy="16.3" r="1.2" fill="#000000"/>
<circle cx="604.7" cy="13.2" r="1.2" fill="#000000"/>
<circle cx="604.2" cy="12.6" r="1.2" fill="#000000"/>
<circle cx="604.8" cy="13.5" r="1.2" fill="#000000"/>
<circle cx="606.2" cy="15.7" r="1.2" fill="#000000"/>
<circle cx="607.2" cy="16.7" r="1.2" fill="#000000"/>
<circle cx="609.0" cy="17.2" r="1.2" fill="#000000"/>
<circle cx="610.7" cy="14.9" r="1.2" fill="#000000"/>
<circle cx="612.7" cy="14.8" r="1.2" fill="#000000"/>
<circle cx="614.9" cy="21.3" r="1.2" fill="#000000"/>
<circle cx="615.7" cy="13.7" r="1.2" fill="#000000"/>
<circle cx="617.2" cy="15.8" r="1.2" fill="#000000"/>
<circle cx="618.3" cy="20.2" r="1.2" fill="#000000"/>
<circle cx="619.4" cy="15.3" r="1.2" fill="#000000"/>
<circle cx="620.8" cy="16.4" r="1.2" fill="#000000"/>
<circle cx="624.4" cy="13.4" r="1.2" fill="#000000"/>
<circle cx="624.9" cy="13.0" r="1.2" fill="#000000"/>
<circle cx="627.5" cy="15.6" r="1.2" fill="#000000"/>
<circle cx="627.8" cy="13.8" r="1.2" fill="#000000"/>
<circle cx="629.9" cy="13.0" r="1.2" fill="#000000"/>
<circle cx="630.9" cy="10.7" r="1.2" fill="#000000"/>
<circle cx="632.3" cy="15.0" r="1.2" fill="#000000"/>
<circle cx="633.0" cy="15.5" r="1.2" fill="#000000"/>
<circle cx="634.5" cy="11.8" r="1.2" fill="#000000"/>
<circle cx="636.3" cy="14.8" r="1.2" fill="#000000"/>
<circle cx="638.3" cy="16.4" r="1.2" fill="#000000"/>
<circle cx="637.7" cy="12.7" r="1.2" fill="#000000"/>
<circle cx="642.4" cy="12.0" r="1.2" fill="#000000"/>
<circle cx="644.0" cy="12.9" r="1.2" fill="#000000"/>
<circle cx="646.4" cy="8.9" r="1.2" fill="#000000"/>
<circle cx="646.9" cy="16.5" r="1.2" fill="#000000"/>
<circle cx="648.4" cy="10.0" r="1.2" fill="#000000"/>
<circle cx="649.8" cy="8.4" r="1.2" fill="#000000"/>
<circle cx="650.6" cy="15.9" r="1.2" fill="#000000"/>
<circle cx="652.7" cy="14.2" r="1.2" fill="#000000"/>
<circle cx="653.9" cy="14.4" r="1.2" fill="#000000"/>
<circle cx="653.9" cy="9.1" r="1.2" fill="#000000"/>
<circle cx="656.5" cy="12.7" r="1.2" fill="#000000"/>
<circle cx="657.6" cy="12.5" r="1.2" fill="#000000"/>
<circle cx="659.8" cy="12.3" r="1.2" fill="#000000"/>
<circle cx="660.2" cy="13.1" r="1.2" fill="#000000"/>
<circle cx="662.4" cy="11.8" r="1.2" fill="#000000"/>
<circle cx="664.2" cy="10.9" r="1.2" fill="#000000"/>
<circle cx="665.6" cy="13.2" r="1.2" fill="#000000"/>
<circle cx="667.2" cy="12.3" r="1.2" fill="#000000"/>
<circle cx="668.5" cy="13.5" r="1.2" fill="#000000"/>
<circle cx="671.5" cy="15.0" r="1.2" fill="#000000"/>
<circle cx="671.0" cy="12.5" r="1.2" fill="#000000"/>
<circle cx="671.1" cy="11.2" r="1.2" fill="#000000"/>
<circle cx="674.3" cy="13.5" r="1.2" fill="#000000"/>
<circle cx="676.2" cy="14.9" r="1.2" fill="#000000"/>
<circle cx="677.7" cy="13.3" r="1.2" fill="#000000"/>
<circle cx="678.1" cy="11.7" r="1.2" fill="#000000"/>
<polyline points="401.3,9.3 401.6,9.3 402.0,9.4 402.4,9.4 402.8,9.4 403.2,9.5 403.5,9.5 403.9,9.6 404.3,9.6 404.7,9.7 405.1,9.7 405.5,9.8 405.8,9.8 406.2,9.9 406.6,9.9 407.0,10.0 407.4,10.1 407.7,10.1 408.1,10.2 408.5,10.3 408.9,10.4 409.3,10.5 409.6,10.6 410.0,10.7 410.4,10.8 410.8,10.9 411.2,11.1 411.6,11.2 411.9,11.4 412.3,11.6 412.7,11.9 413.1,12.1 413.5,12.4 413.8,12.7 414.2,13.0 414.6,13.4 415.0,13.9 415.4,14.5 415.7,15.1 416.1,16.0 416.5,16.9 416.9,18.3 417.3,20.1 417.7,22.2 418.0,24.1 418.4,25.8 418.8,27.4 419.2,29.1 419.6,31.0 419.9,33.4 420.3,36.2 420.7,39.0 421.1,41.8 421.5,44.7 421.8,47.3 422.2,49.8 422.6,52.3 423.0,54.8 423.4,57.4 423.7,60.3 424.1,63.4 424.5,66.7 424.9,70.1 425.3,73.7 425.7,77.4 426.0,81.2 426.4,85.1 426.8,89.2 427.2,93.4 427.6,97.6 427.9,101.9 428.3,106.2 428.7,110.7 429.1,115.2 429.5,119.6 429.8,124.1 430.2,128.9 430.6,133.6 431.0,137.9 431.4,141.3 431.8,143.7 432.1,146.0 432.5,148.1 432.9,150.0 433.3,151.5 433.7,152.6 434.0,153.1 434.4,152.7 434.8,151.6 435.2,150.5 435.6,149.3 435.9,148.2 436.3,146.9 436.7,145.7 437.1,144.4 437.5,143.2 437.9,141.8 438.2,140.5 438.6,139.2 439.0,137.8 439.4,136.4 439.8,135.0 440.1,133.7 440.5,132.2 440.9,130.8 441.3,129.4 441.7,128.0 442.0,126.6 442.4,125.2 442.8,123.8 443.2,122.3 443.6,120.9 444.0,119.5 444.3,118.1 444.7,116.8 445.1,115.4 445.5,114.0 445.9,112.7 446.2,111.3 446.6,110.0 447.0,108.7 447.8,106.1 448.5,103.6 449.3,101.2 450.0,98.8 450.8,96.5 451.6,94.3 452.3,92.2 453.1,90.1 453.8,88.1 454.6,86.2 455.4,84.4 456.1,82.6 456.9,80.8 457.6,79.1 458.4,77.5 459.2,75.9 459.9,74.4 460.7,72.9 461.5,71.5 462.2,70.2 463.0,68.8 463.7,67.6 464.5,66.3 465.3,65.2 466.0,64.0 466.8,62.9 467.5,61.8 468.3,60.8 469.1,59.8 469.8,58.8 470.6,57.8 471.3,56.9 472.1,56.0 472.9,55.2 473.6,54.3 474.4,53.5 475.1,52.7 475.9,52.0 476.7,51.2 477.4,50.5 478.2,49.8 479.0,49.1 479.7,48.5 480.5,47.8 481.2,47.2 482.0,46.6 482.8,46.0 483.5,45.4 484.3,44.8 485.0,44.2 485.8,43.7 486.6,43.2 487.3,42.7 488.1,42.1 488.8,41.7 489.6,41.2 490.4,40.7 491.1,40.2 491.9,39.8 492.6,39.3 493.4,38.9 494.2,38.5 494.9,38.0 495.7,37.6 496.4,37.2 497.2,36.8 498.0,36.4 498.7,36.0 499.5,35.7 500.3,35.3 501.0,34.9 501.8,34.6 502.5,34.2 503.3,33.9 504.1,33.5 504.8,33.2 505.6,32.8 506.3,32.5 507.1,32.2 507.9,31.9 511.4,30.4 514.8,29.1 518.3,27.8 521.8,26.7 525.3,25.7 528.8,24.9 532.3,24.1 535.8,23.5 539.3,22.9 542.8,22.4 546.3,21.9 549.8,21.5 553.3,21.1 556.8,20.7 560.3,20.3 563.8,19.9 567.3,19.5 570.8,19.1 574.3,18.7 577.7,18.3 581.2,18.0 584.7,17.6 588.2,17.3 591.7,16.9 595.2,16.6 598.7,16.3 602.2,16.0 605.7,15.7 609.2,15.4 612.7,15.2 616.2,14.9 619.7,14.7 623.2,14.5 626.7,14.2 630.2,14.0 633.7,13.8 637.2,13.7 640.6,13.5 644.1,13.3 647.6,13.2 651.1,13.0 654.6,12.9 658.1,12.8 661.6,12.7 665.1,12.6 668.6,12.5 672.1,12.4 675.6,12.3 679.1,12.2" fill="none" stroke="#000000" stroke-width="3.2" stroke-linejoin="round" stroke-linecap="round"/>
<circle cx="430.7" cy="161.1" r="1.2" fill="#ff1e0e"/>
<circle cx="432.7" cy="171.7" r="1.2" fill="#ff1e0e"/>
<circle cx="434.0" cy="173.0" r="1.2" fill="#ff1e0e"/>
<circle cx="436.0" cy="165.4" r="1.2" fill="#ff1e0e"/>
<circle cx="436.9" cy="160.6" r="1.2" fill="#ff1e0e"/>
<circle cx="438.6" cy="154.1" r="1.2" fill="#ff1e0e"/>
<circle cx="442.0" cy="147.3" r="1.2" fill="#ff1e0e"/>
<circle cx="442.5" cy="142.3" r="1.2" fill="#ff1e0e"/>
<circle cx="443.8" cy="135.7" r="1.2" fill="#ff1e0e"/>
<circle cx="446.0" cy="129.1" r="1.2" fill="#ff1e0e"/>
<circle cx="449.6" cy="124.3" r="1.2" fill="#ff1e0e"/>
<circle cx="449.4" cy="118.9" r="1.2" fill="#ff1e0e"/>
<circle cx="449.2" cy="113.6" r="1.2" fill="#ff1e0e"/>
<circle cx="451.6" cy="108.9" r="1.2" fill="#ff1e0e"/>
<circle cx="453.9" cy="103.6" r="1.2" fill="#ff1e0e"/>
<circle cx="454.5" cy="98.0" r="1.2" fill="#ff1e0e"/>
<circle cx="456.5" cy="94.5" r="1.2" fill="#ff1e0e"/>
<circle cx="458.4" cy="91.6" r="1.2" fill="#ff1e0e"/>
<circle cx="459.6" cy="86.9" r="1.2" fill="#ff1e0e"/>
<circle cx="462.6" cy="82.6" r="1.2" fill="#ff1e0e"/>
<circle cx="464.6" cy="79.5" r="1.2" fill="#ff1e0e"/>
<circle cx="465.0" cy="76.0" r="1.2" fill="#ff1e0e"/>
<circle cx="466.7" cy="74.6" r="1.2" fill="#ff1e0e"/>
<circle cx="468.1" cy="68.9" r="1.2" fill="#ff1e0e"/>
<circle cx="469.4" cy="67.5" r="1.2" fill="#ff1e0e"/>
<circle cx="469.0" cy="65.9" r="1.2" fill="#ff1e0e"/>
<circle cx="470.3" cy="66.7" r="1.2" fill="#ff1e0e"/>
<circle cx="472.4" cy="64.3" r="1.2" fill="#ff1e0e"/>
<circle cx="474.8" cy="63.9" r="1.2" fill="#ff1e0e"/>
<circle cx="476.0" cy="61.5" r="1.2" fill="#ff1e0e"/>
<circle cx="477.7" cy="56.9" r="1.2" fill="#ff1e0e"/>
<circle cx="476.7" cy="55.4" r="1.2" fill="#ff1e0e"/>
<circle cx="480.4" cy="56.6" r="1.2" fill="#ff1e0e"/>
<circle cx="480.2" cy="55.2" r="1.2" fill="#ff1e0e"/>
<circle cx="484.1" cy="51.1" r="1.2" fill="#ff1e0e"/>
<circle cx="484.1" cy="50.5" r="1.2" fill="#ff1e0e"/>
<circle cx="486.3" cy="49.3" r="1.2" fill="#ff1e0e"/>
<circle cx="487.2" cy="47.0" r="1.2" fill="#ff1e0e"/>
<circle cx="487.6" cy="47.8" r="1.2" fill="#ff1e0e"/>
<circle cx="490.0" cy="44.7" r="1.2" fill="#ff1e0e"/>
<circle cx="491.4" cy="43.1" r="1.2" fill="#ff1e0e"/>
<circle cx="493.5" cy="42.8" r="1.2" fill="#ff1e0e"/>
<circle cx="494.2" cy="43.9" r="1.2" fill="#ff1e0e"/>
<circle cx="497.2" cy="42.7" r="1.2" fill="#ff1e0e"/>
<circle cx="497.5" cy="40.5" r="1.2" fill="#ff1e0e"/>
<circle cx="500.6" cy="39.5" r="1.2" fill="#ff1e0e"/>
<circle cx="501.2" cy="39.7" r="1.2" fill="#ff1e0e"/>
<circle cx="503.4" cy="36.0" r="1.2" fill="#ff1e0e"/>
<circle cx="504.4" cy="36.0" r="1.2" fill="#ff1e0e"/>
<circle cx="506.1" cy="36.3" r="1.2" fill="#ff1e0e"/>
<circle cx="507.2" cy="34.6" r="1.2" fill="#ff1e0e"/>
<circle cx="508.5" cy="34.3" r="1.2" fill="#ff1e0e"/>
<circle cx="510.2" cy="32.7" r="1.2" fill="#ff1e0e"/>
<circle cx="511.8" cy="35.3" r="1.2" fill="#ff1e0e"/>
<circle cx="512.5" cy="31.9" r="1.2" fill="#ff1e0e"/>
<circle cx="514.1" cy="33.3" r="1.2" fill="#ff1e0e"/>
<circle cx="516.5" cy="31.6" r="1.2" fill="#ff1e0e"/>
<circle cx="517.3" cy="30.5" r="1.2" fill="#ff1e0e"/>
<circle cx="519.5" cy="27.7" r="1.2" fill="#ff1e0e"/>
<circle cx="519.7" cy="30.2" r="1.2" fill="#ff1e0e"/>
<circle cx="521.9" cy="29.1" r="1.2" fill="#ff1e0e"/>
<circle cx="523.5" cy="27.0" r="1.2" fill="#ff1e0e"/>
<circle cx="524.4" cy="29.3" r="1.2" fill="#ff1e0e"/>
<circle cx="526.7" cy="27.5" r="1.2" fill="#ff1e0e"/>
<circle cx="528.6" cy="28.0" r="1.2" fill="#ff1e0e"/>
<circle cx="530.2" cy="25.2" r="1.2" fill="#ff1e0e"/>
<circle cx="529.7" cy="28.3" r="1.2" fill="#ff1e0e"/>
<circle cx="532.0" cy="26.6" r="1.2" fill="#ff1e0e"/>
<circle cx="534.1" cy="25.7" r="1.2" fill="#ff1e0e"/>
<circle cx="537.3" cy="25.2" r="1.2" fill="#ff1e0e"/>
<circle cx="538.4" cy="27.0" r="1.2" fill="#ff1e0e"/>
<circle cx="539.9" cy="27.1" r="1.2" fill="#ff1e0e"/>
<circle cx="540.8" cy="24.7" r="1.2" fill="#ff1e0e"/>
<circle cx="541.7" cy="25.1" r="1.2" fill="#ff1e0e"/>
<circle cx="543.2" cy="27.8" r="1.2" fill="#ff1e0e"/>
<circle cx="543.9" cy="23.8" r="1.2" fill="#ff1e0e"/>
<circle cx="546.7" cy="21.5" r="1.2" fill="#ff1e0e"/>
<circle cx="548.3" cy="23.9" r="1.2" fill="#ff1e0e"/>
<circle cx="548.5" cy="19.8" r="1.2" fill="#ff1e0e"/>
<circle cx="551.3" cy="22.5" r="1.2" fill="#ff1e0e"/>
<circle cx="551.5" cy="19.9" r="1.2" fill="#ff1e0e"/>
<circle cx="553.4" cy="23.7" r="1.2" fill="#ff1e0e"/>
<circle cx="554.7" cy="22.3" r="1.2" fill="#ff1e0e"/>
<circle cx="557.4" cy="19.0" r="1.2" fill="#ff1e0e"/>
<circle cx="559.3" cy="25.3" r="1.2" fill="#ff1e0e"/>
<circle cx="559.5" cy="18.0" r="1.2" fill="#ff1e0e"/>
<circle cx="561.9" cy="22.7" r="1.2" fill="#ff1e0e"/>
<circle cx="563.0" cy="20.6" r="1.2" fill="#ff1e0e"/>
<circle cx="564.8" cy="16.7" r="1.2" fill="#ff1e0e"/>
<circle cx="565.9" cy="18.5" r="1.2" fill="#ff1e0e"/>
<circle cx="568.1" cy="17.8" r="1.2" fill="#ff1e0e"/>
<circle cx="568.6" cy="20.0" r="1.2" fill="#ff1e0e"/>
<circle cx="569.0" cy="17.9" r="1.2" fill="#ff1e0e"/>
<circle cx="572.1" cy="23.0" r="1.2" fill="#ff1e0e"/>
<circle cx="574.3" cy="21.6" r="1.2" fill="#ff1e0e"/>
<circle cx="576.0" cy="21.1" r="1.2" fill="#ff1e0e"/>
<circle cx="576.5" cy="17.0" r="1.2" fill="#ff1e0e"/>
<circle cx="577.0" cy="21.1" r="1.2" fill="#ff1e0e"/>
<circle cx="578.5" cy="16.1" r="1.2" fill="#ff1e0e"/>
<circle cx="581.4" cy="17.3" r="1.2" fill="#ff1e0e"/>
<circle cx="582.9" cy="16.9" r="1.2" fill="#ff1e0e"/>
<circle cx="584.2" cy="16.2" r="1.2" fill="#ff1e0e"/>
<circle cx="586.0" cy="17.5" r="1.2" fill="#ff1e0e"/>
<circle cx="587.9" cy="17.1" r="1.2" fill="#ff1e0e"/>
<circle cx="587.6" cy="16.1" r="1.2" fill="#ff1e0e"/>
<circle cx="590.7" cy="17.8" r="1.2" fill="#ff1e0e"/>
<circle cx="591.6" cy="17.4" r="1.2" fill="#ff1e0e"/>
<circle cx="593.6" cy="15.5" r="1.2" fill="#ff1e0e"/>
<circle cx="594.8" cy="20.2" r="1.2" fill="#ff1e0e"/>
<circle cx="594.6" cy="15.8" r="1.2" fill="#ff1e0e"/>
<circle cx="596.8" cy="17.1" r="1.2" fill="#ff1e0e"/>
<circle cx="599.3" cy="16.4" r="1.2" fill="#ff1e0e"/>
<circle cx="600.6" cy="14.0" r="1.2" fill="#ff1e0e"/>
<circle cx="602.1" cy="19.7" r="1.2" fill="#ff1e0e"/>
<circle cx="604.1" cy="18.6" r="1.2" fill="#ff1e0e"/>
<circle cx="604.8" cy="17.6" r="1.2" fill="#ff1e0e"/>
<circle cx="605.6" cy="15.8" r="1.2" fill="#ff1e0e"/>
<circle cx="608.3" cy="12.6" r="1.2" fill="#ff1e0e"/>
<circle cx="610.3" cy="13.8" r="1.2" fill="#ff1e0e"/>
<circle cx="612.9" cy="16.9" r="1.2" fill="#ff1e0e"/>
<circle cx="612.5" cy="15.1" r="1.2" fill="#ff1e0e"/>
<circle cx="614.3" cy="13.7" r="1.2" fill="#ff1e0e"/>
<circle cx="616.6" cy="13.9" r="1.2" fill="#ff1e0e"/>
<circle cx="616.1" cy="13.5" r="1.2" fill="#ff1e0e"/>
<circle cx="618.9" cy="13.2" r="1.2" fill="#ff1e0e"/>
<circle cx="619.2" cy="14.6" r="1.2" fill="#ff1e0e"/>
<circle cx="621.8" cy="13.9" r="1.2" fill="#ff1e0e"/>
<circle cx="623.3" cy="16.4" r="1.2" fill="#ff1e0e"/>
<circle cx="625.3" cy="16.9" r="1.2" fill="#ff1e0e"/>
<circle cx="625.9" cy="16.6" r="1.2" fill="#ff1e0e"/>
<circle cx="627.9" cy="11.1" r="1.2" fill="#ff1e0e"/>
<circle cx="629.3" cy="18.2" r="1.2" fill="#ff1e0e"/>
<circle cx="631.1" cy="11.6" r="1.2" fill="#ff1e0e"/>
<circle cx="631.0" cy="13.7" r="1.2" fill="#ff1e0e"/>
<circle cx="635.3" cy="14.6" r="1.2" fill="#ff1e0e"/>
<circle cx="636.7" cy="13.4" r="1.2" fill="#ff1e0e"/>
<circle cx="636.3" cy="11.6" r="1.2" fill="#ff1e0e"/>
<circle cx="636.8" cy="13.6" r="1.2" fill="#ff1e0e"/>
<circle cx="639.2" cy="15.2" r="1.2" fill="#ff1e0e"/>
<circle cx="641.9" cy="11.5" r="1.2" fill="#ff1e0e"/>
<circle cx="642.2" cy="11.5" r="1.2" fill="#ff1e0e"/>
<circle cx="644.3" cy="14.0" r="1.2" fill="#ff1e0e"/>
<circle cx="644.6" cy="13.9" r="1.2" fill="#ff1e0e"/>
<circle cx="646.0" cy="12.4" r="1.2" fill="#ff1e0e"/>
<circle cx="648.8" cy="14.6" r="1.2" fill="#ff1e0e"/>
<circle cx="649.8" cy="13.9" r="1.2" fill="#ff1e0e"/>
<circle cx="651.3" cy="12.4" r="1.2" fill="#ff1e0e"/>
<circle cx="651.4" cy="10.3" r="1.2" fill="#ff1e0e"/>
<circle cx="655.4" cy="12.8" r="1.2" fill="#ff1e0e"/>
<circle cx="656.8" cy="13.1" r="1.2" fill="#ff1e0e"/>
<circle cx="658.1" cy="8.4" r="1.2" fill="#ff1e0e"/>
<circle cx="659.7" cy="12.2" r="1.2" fill="#ff1e0e"/>
<circle cx="659.6" cy="12.1" r="1.2" fill="#ff1e0e"/>
<circle cx="663.4" cy="13.0" r="1.2" fill="#ff1e0e"/>
<circle cx="663.4" cy="15.5" r="1.2" fill="#ff1e0e"/>
<circle cx="663.7" cy="12.8" r="1.2" fill="#ff1e0e"/>
<circle cx="666.2" cy="14.0" r="1.2" fill="#ff1e0e"/>
<circle cx="668.5" cy="10.9" r="1.2" fill="#ff1e0e"/>
<circle cx="670.7" cy="11.1" r="1.2" fill="#ff1e0e"/>
<circle cx="671.5" cy="12.8" r="1.2" fill="#ff1e0e"/>
<circle cx="671.0" cy="15.8" r="1.2" fill="#ff1e0e"/>
<circle cx="675.4" cy="10.4" r="1.2" fill="#ff1e0e"/>
<circle cx="675.0" cy="12.0" r="1.2" fill="#ff1e0e"/>
<circle cx="678.1" cy="12.2" r="1.2" fill="#ff1e0e"/>
<circle cx="678.3" cy="14.1" r="1.2" fill="#ff1e0e"/>
<polyline points="401.3,9.5 401.6,9.5 402.0,9.6 402.4,9.6 402.8,9.6 403.2,9.7 403.5,9.7 403.9,9.8 404.3,9.9 404.7,9.9 405.1,10.0 405.5,10.0 405.8,10.1 406.2,10.2 406.6,10.2 407.0,10.3 407.4,10.4 407.7,10.5 408.1,10.5 408.5,10.6 408.9,10.7 409.3,10.8 409.6,11.0 410.0,11.1 410.4,11.2 410.8,11.4 411.2,11.5 411.6,11.7 411.9,11.9 412.3,12.2 412.7,12.5 413.1,12.7 413.5,13.1 413.8,13.4 414.2,13.8 414.6,14.2 415.0,14.8 415.4,15.4 415.7,16.2 416.1,17.1 416.5,18.2 416.9,19.8 417.3,21.9 417.7,24.3 418.0,26.5 418.4,28.4 418.8,30.3 419.2,32.2 419.6,34.5 419.9,37.2 420.3,40.4 420.7,43.6 421.1,46.9 421.5,50.1 421.8,53.1 422.2,56.0 422.6,58.9 423.0,61.8 423.4,64.8 423.7,68.1 424.1,71.6 424.5,75.4 424.9,79.4 425.3,83.5 425.7,87.8 426.0,92.1 426.4,96.6 426.8,101.3 427.2,106.1 427.6,110.9 427.9,115.8 428.3,120.9 428.7,126.0 429.1,131.2 429.5,136.3 429.8,141.4 430.2,146.9 430.6,152.3 431.0,157.3 431.4,161.2 431.8,164.0 432.1,166.6 432.5,169.0 432.9,171.2 433.3,172.9 433.7,174.2 434.0,174.8 434.4,174.1 434.8,172.6 435.2,171.1 435.6,169.6 435.9,168.1 436.3,166.6 436.7,165.1 437.1,163.6 437.5,162.1 437.9,160.5 438.2,159.0 438.6,157.5 439.0,156.0 439.4,154.4 439.8,152.9 440.1,151.4 440.5,149.8 440.9,148.3 441.3,146.8 441.7,145.3 442.0,143.8 442.4,142.3 442.8,140.8 443.2,139.3 443.6,137.8 444.0,136.3 444.3,134.9 444.7,133.4 445.1,132.0 445.5,130.5 445.9,129.1 446.2,127.7 446.6,126.3 447.0,124.9 447.8,122.2 448.5,119.5 449.3,116.9 450.0,114.3 450.8,111.8 451.6,109.3 452.3,106.9 453.1,104.6 453.8,102.3 454.6,100.1 455.4,97.9 456.1,95.8 456.9,93.8 457.6,91.8 458.4,89.9 459.2,88.1 459.9,86.3 460.7,84.6 461.5,82.9 462.2,81.2 463.0,79.7 463.7,78.1 464.5,76.6 465.3,75.2 466.0,73.8 466.8,72.5 467.5,71.2 468.3,69.9 469.1,68.7 469.8,67.6 470.6,66.5 471.3,65.4 472.1,64.3 472.9,63.3 473.6,62.3 474.4,61.3 475.1,60.4 475.9,59.5 476.7,58.6 477.4,57.8 478.2,56.9 479.0,56.1 479.7,55.3 480.5,54.6 481.2,53.8 482.0,53.1 482.8,52.3 483.5,51.6 484.3,51.0 485.0,50.3 485.8,49.6 486.6,49.0 487.3,48.3 488.1,47.7 488.8,47.1 489.6,46.5 490.4,45.9 491.1,45.3 491.9,44.7 492.6,44.1 493.4,43.6 494.2,43.0 494.9,42.5 495.7,41.9 496.4,41.4 497.2,40.9 498.0,40.4 498.7,39.9 499.5,39.4 500.3,38.9 501.0,38.4 501.8,37.9 502.5,37.5 503.3,37.0 504.1,36.6 504.8,36.1 505.6,35.7 506.3,35.3 507.1,34.9 507.9,34.5 511.4,32.9 514.8,31.4 518.3,30.1 521.8,28.9 525.3,27.8 528.8,26.8 532.3,26.0 535.8,25.2 539.3,24.4 542.8,23.8 546.3,23.1 549.8,22.5 553.3,22.0 556.8,21.4 560.3,20.9 563.8,20.4 567.3,19.9 570.8,19.5 574.3,19.1 577.7,18.7 581.2,18.3 584.7,17.9 588.2,17.5 591.7,17.2 595.2,16.9 598.7,16.6 602.2,16.3 605.7,16.0 609.2,15.7 612.7,15.5 616.2,15.2 619.7,15.0 623.2,14.8 626.7,14.6 630.2,14.4 633.7,14.2 637.2,14.0 640.6,13.8 644.1,13.7 647.6,13.5 651.1,13.4 654.6,13.2 658.1,13.1 661.6,13.0 665.1,12.9 668.6,12.8 672.1,12.7 675.6,12.6 679.1,12.5" fill="none" stroke="#ff1e0e" stroke-width="3.2" stroke-linejoin="round" stroke-linecap="round"/>
<circle cx="432.0" cy="179.0" r="1.2" fill="#1414f0"/>
<circle cx="431.8" cy="188.1" r="1.2" fill="#1414f0"/>
<circle cx="435.6" cy="190.6" r="1.2" fill="#1414f0"/>
<circle cx="437.3" cy="184.7" r="1.2" fill="#1414f0"/>
<circle cx="438.7" cy="180.7" r="1.2" fill="#1414f0"/>
<circle cx="440.1" cy="173.8" r="1.2" fill="#1414f0"/>
<circle cx="440.5" cy="164.8" r="1.2" fill="#1414f0"/>
<circle cx="442.3" cy="159.9" r="1.2" fill="#1414f0"/>
<circle cx="445.0" cy="153.1" r="1.2" fill="#1414f0"/>
<circle cx="445.8" cy="147.0" r="1.2" fill="#1414f0"/>
<circle cx="448.5" cy="140.7" r="1.2" fill="#1414f0"/>
<circle cx="448.6" cy="134.3" r="1.2" fill="#1414f0"/>
<circle cx="450.7" cy="129.0" r="1.2" fill="#1414f0"/>
<circle cx="451.5" cy="123.8" r="1.2" fill="#1414f0"/>
<circle cx="454.4" cy="117.2" r="1.2" fill="#1414f0"/>
<circle cx="455.8" cy="111.1" r="1.2" fill="#1414f0"/>
<circle cx="455.7" cy="105.6" r="1.2" fill="#1414f0"/>
<circle cx="457.8" cy="102.4" r="1.2" fill="#1414f0"/>
<circle cx="459.2" cy="97.2" r="1.2" fill="#1414f0"/>
<circle cx="461.8" cy="91.0" r="1.2" fill="#1414f0"/>
<circle cx="462.8" cy="89.0" r="1.2" fill="#1414f0"/>
<circle cx="465.6" cy="84.5" r="1.2" fill="#1414f0"/>
<circle cx="466.7" cy="82.2" r="1.2" fill="#1414f0"/>
<circle cx="467.1" cy="79.7" r="1.2" fill="#1414f0"/>
<circle cx="469.8" cy="75.1" r="1.2" fill="#1414f0"/>
<circle cx="469.7" cy="76.2" r="1.2" fill="#1414f0"/>
<circle cx="470.3" cy="71.5" r="1.2" fill="#1414f0"/>
<circle cx="472.5" cy="71.2" r="1.2" fill="#1414f0"/>
<circle cx="474.4" cy="69.6" r="1.2" fill="#1414f0"/>
<circle cx="476.5" cy="67.2" r="1.2" fill="#1414f0"/>
<circle cx="476.9" cy="63.8" r="1.2" fill="#1414f0"/>
<circle cx="479.7" cy="61.4" r="1.2" fill="#1414f0"/>
<circle cx="479.6" cy="61.4" r="1.2" fill="#1414f0"/>
<circle cx="480.7" cy="62.8" r="1.2" fill="#1414f0"/>
<circle cx="483.8" cy="57.1" r="1.2" fill="#1414f0"/>
<circle cx="483.8" cy="55.0" r="1.2" fill="#1414f0"/>
<circle cx="486.0" cy="52.8" r="1.2" fill="#1414f0"/>
<circle cx="488.0" cy="54.7" r="1.2" fill="#1414f0"/>
<circle cx="487.9" cy="51.0" r="1.2" fill="#1414f0"/>
<circle cx="491.1" cy="47.8" r="1.2" fill="#1414f0"/>
<circle cx="492.6" cy="48.2" r="1.2" fill="#1414f0"/>
<circle cx="491.2" cy="46.9" r="1.2" fill="#1414f0"/>
<circle cx="493.8" cy="47.2" r="1.2" fill="#1414f0"/>
<circle cx="496.4" cy="43.0" r="1.2" fill="#1414f0"/>
<circle cx="497.7" cy="46.0" r="1.2" fill="#1414f0"/>
<circle cx="499.0" cy="42.3" r="1.2" fill="#1414f0"/>
<circle cx="502.1" cy="42.9" r="1.2" fill="#1414f0"/>
<circle cx="502.5" cy="40.4" r="1.2" fill="#1414f0"/>
<circle cx="503.8" cy="37.8" r="1.2" fill="#1414f0"/>
<circle cx="506.8" cy="39.7" r="1.2" fill="#1414f0"/>
<circle cx="506.2" cy="36.5" r="1.2" fill="#1414f0"/>
<circle cx="507.4" cy="34.5" r="1.2" fill="#1414f0"/>
<circle cx="511.7" cy="36.6" r="1.2" fill="#1414f0"/>
<circle cx="512.6" cy="32.5" r="1.2" fill="#1414f0"/>
<circle cx="513.2" cy="30.1" r="1.2" fill="#1414f0"/>
<circle cx="514.1" cy="33.9" r="1.2" fill="#1414f0"/>
<circle cx="515.0" cy="33.8" r="1.2" fill="#1414f0"/>
<circle cx="517.1" cy="30.1" r="1.2" fill="#1414f0"/>
<circle cx="519.8" cy="31.1" r="1.2" fill="#1414f0"/>
<circle cx="521.2" cy="29.3" r="1.2" fill="#1414f0"/>
<circle cx="521.2" cy="28.0" r="1.2" fill="#1414f0"/>
<circle cx="523.1" cy="31.3" r="1.2" fill="#1414f0"/>
<circle cx="525.2" cy="30.8" r="1.2" fill="#1414f0"/>
<circle cx="525.6" cy="30.4" r="1.2" fill="#1414f0"/>
<circle cx="529.2" cy="28.8" r="1.2" fill="#1414f0"/>
<circle cx="530.0" cy="26.7" r="1.2" fill="#1414f0"/>
<circle cx="530.3" cy="27.8" r="1.2" fill="#1414f0"/>
<circle cx="531.0" cy="28.3" r="1.2" fill="#1414f0"/>
<circle cx="534.7" cy="27.8" r="1.2" fill="#1414f0"/>
<circle cx="536.4" cy="25.3" r="1.2" fill="#1414f0"/>
<circle cx="536.6" cy="23.8" r="1.2" fill="#1414f0"/>
<circle cx="539.8" cy="27.6" r="1.2" fill="#1414f0"/>
<circle cx="540.2" cy="26.2" r="1.2" fill="#1414f0"/>
<circle cx="541.7" cy="27.4" r="1.2" fill="#1414f0"/>
<circle cx="543.3" cy="23.6" r="1.2" fill="#1414f0"/>
<circle cx="544.4" cy="22.7" r="1.2" fill="#1414f0"/>
<circle cx="547.2" cy="26.5" r="1.2" fill="#1414f0"/>
<circle cx="547.7" cy="24.6" r="1.2" fill="#1414f0"/>
<circle cx="550.1" cy="28.7" r="1.2" fill="#1414f0"/>
<circle cx="550.6" cy="25.9" r="1.2" fill="#1414f0"/>
<circle cx="552.1" cy="23.7" r="1.2" fill="#1414f0"/>
<circle cx="554.6" cy="20.3" r="1.2" fill="#1414f0"/>
<circle cx="554.7" cy="22.8" r="1.2" fill="#1414f0"/>
<circle cx="557.6" cy="20.4" r="1.2" fill="#1414f0"/>
<circle cx="559.0" cy="22.1" r="1.2" fill="#1414f0"/>
<circle cx="559.9" cy="19.5" r="1.2" fill="#1414f0"/>
<circle cx="561.8" cy="21.7" r="1.2" fill="#1414f0"/>
<circle cx="563.0" cy="21.7" r="1.2" fill="#1414f0"/>
<circle cx="563.1" cy="19.8" r="1.2" fill="#1414f0"/>
<circle cx="565.2" cy="21.2" r="1.2" fill="#1414f0"/>
<circle cx="568.3" cy="21.7" r="1.2" fill="#1414f0"/>
<circle cx="568.7" cy="21.9" r="1.2" fill="#1414f0"/>
<circle cx="571.4" cy="16.8" r="1.2" fill="#1414f0"/>
<circle cx="571.3" cy="19.8" r="1.2" fill="#1414f0"/>
<circle cx="574.0" cy="18.8" r="1.2" fill="#1414f0"/>
<circle cx="574.0" cy="18.4" r="1.2" fill="#1414f0"/>
<circle cx="576.2" cy="19.9" r="1.2" fill="#1414f0"/>
<circle cx="578.3" cy="21.7" r="1.2" fill="#1414f0"/>
<circle cx="579.1" cy="20.6" r="1.2" fill="#1414f0"/>
<circle cx="580.9" cy="17.1" r="1.2" fill="#1414f0"/>
<circle cx="580.8" cy="16.3" r="1.2" fill="#1414f0"/>
<circle cx="584.1" cy="19.1" r="1.2" fill="#1414f0"/>
<circle cx="584.3" cy="22.9" r="1.2" fill="#1414f0"/>
<circle cx="586.1" cy="16.0" r="1.2" fill="#1414f0"/>
<circle cx="589.3" cy="18.2" r="1.2" fill="#1414f0"/>
<circle cx="590.7" cy="20.1" r="1.2" fill="#1414f0"/>
<circle cx="590.4" cy="18.2" r="1.2" fill="#1414f0"/>
<circle cx="593.4" cy="17.3" r="1.2" fill="#1414f0"/>
<circle cx="594.4" cy="19.6" r="1.2" fill="#1414f0"/>
<circle cx="596.7" cy="17.7" r="1.2" fill="#1414f0"/>
<circle cx="598.0" cy="16.6" r="1.2" fill="#1414f0"/>
<circle cx="599.4" cy="16.8" r="1.2" fill="#1414f0"/>
<circle cx="600.9" cy="18.4" r="1.2" fill="#1414f0"/>
<circle cx="603.6" cy="12.7" r="1.2" fill="#1414f0"/>
<circle cx="604.7" cy="16.7" r="1.2" fill="#1414f0"/>
<circle cx="605.7" cy="18.4" r="1.2" fill="#1414f0"/>
<circle cx="606.3" cy="16.9" r="1.2" fill="#1414f0"/>
<circle cx="607.9" cy="15.4" r="1.2" fill="#1414f0"/>
<circle cx="610.0" cy="13.2" r="1.2" fill="#1414f0"/>
<circle cx="610.3" cy="15.0" r="1.2" fill="#1414f0"/>
<circle cx="611.3" cy="12.6" r="1.2" fill="#1414f0"/>
<circle cx="614.9" cy="13.8" r="1.2" fill="#1414f0"/>
<circle cx="614.6" cy="19.0" r="1.2" fill="#1414f0"/>
<circle cx="618.0" cy="13.6" r="1.2" fill="#1414f0"/>
<circle cx="618.5" cy="14.0" r="1.2" fill="#1414f0"/>
<circle cx="620.0" cy="12.5" r="1.2" fill="#1414f0"/>
<circle cx="619.8" cy="13.6" r="1.2" fill="#1414f0"/>
<circle cx="623.5" cy="16.2" r="1.2" fill="#1414f0"/>
<circle cx="625.5" cy="15.6" r="1.2" fill="#1414f0"/>
<circle cx="626.3" cy="14.9" r="1.2" fill="#1414f0"/>
<circle cx="628.5" cy="16.0" r="1.2" fill="#1414f0"/>
<circle cx="628.8" cy="14.5" r="1.2" fill="#1414f0"/>
<circle cx="630.9" cy="12.3" r="1.2" fill="#1414f0"/>
<circle cx="631.6" cy="15.7" r="1.2" fill="#1414f0"/>
<circle cx="634.1" cy="15.1" r="1.2" fill="#1414f0"/>
<circle cx="634.4" cy="11.3" r="1.2" fill="#1414f0"/>
<circle cx="638.5" cy="10.1" r="1.2" fill="#1414f0"/>
<circle cx="638.3" cy="11.1" r="1.2" fill="#1414f0"/>
<circle cx="639.7" cy="12.3" r="1.2" fill="#1414f0"/>
<circle cx="640.8" cy="14.2" r="1.2" fill="#1414f0"/>
<circle cx="642.3" cy="12.8" r="1.2" fill="#1414f0"/>
<circle cx="645.4" cy="15.0" r="1.2" fill="#1414f0"/>
<circle cx="646.6" cy="9.4" r="1.2" fill="#1414f0"/>
<circle cx="648.2" cy="15.9" r="1.2" fill="#1414f0"/>
<circle cx="649.3" cy="11.1" r="1.2" fill="#1414f0"/>
<circle cx="648.0" cy="8.9" r="1.2" fill="#1414f0"/>
<circle cx="651.8" cy="14.7" r="1.2" fill="#1414f0"/>
<circle cx="653.2" cy="14.3" r="1.2" fill="#1414f0"/>
<circle cx="654.9" cy="11.0" r="1.2" fill="#1414f0"/>
<circle cx="657.5" cy="13.9" r="1.2" fill="#1414f0"/>
<circle cx="659.6" cy="16.3" r="1.2" fill="#1414f0"/>
<circle cx="659.3" cy="15.0" r="1.2" fill="#1414f0"/>
<circle cx="660.9" cy="11.5" r="1.2" fill="#1414f0"/>
<circle cx="663.9" cy="10.9" r="1.2" fill="#1414f0"/>
<circle cx="664.7" cy="14.9" r="1.2" fill="#1414f0"/>
<circle cx="665.1" cy="16.1" r="1.2" fill="#1414f0"/>
<circle cx="666.4" cy="12.2" r="1.2" fill="#1414f0"/>
<circle cx="669.3" cy="11.5" r="1.2" fill="#1414f0"/>
<circle cx="669.6" cy="17.3" r="1.2" fill="#1414f0"/>
<circle cx="671.6" cy="12.6" r="1.2" fill="#1414f0"/>
<circle cx="671.7" cy="11.4" r="1.2" fill="#1414f0"/>
<circle cx="673.6" cy="13.3" r="1.2" fill="#1414f0"/>
<circle cx="675.8" cy="14.8" r="1.2" fill="#1414f0"/>
<circle cx="678.0" cy="11.6" r="1.2" fill="#1414f0"/>
<circle cx="681.6" cy="11.5" r="1.2" fill="#1414f0"/>
<polyline points="401.3,9.6 401.6,9.7 402.0,9.7 402.4,9.8 402.8,9.8 403.2,9.9 403.5,9.9 403.9,10.0 404.3,10.0 404.7,10.1 405.1,10.2 405.5,10.2 405.8,10.3 406.2,10.4 406.6,10.5 407.0,10.5 407.4,10.6 407.7,10.7 408.1,10.8 408.5,10.9 408.9,11.0 409.3,11.1 409.6,11.2 410.0,11.4 410.4,11.5 410.8,11.7 411.2,11.9 411.6,12.1 411.9,12.3 412.3,12.6 412.7,12.9 413.1,13.2 413.5,13.6 413.8,14.0 414.2,14.4 414.6,14.8 415.0,15.4 415.4,16.1 415.7,17.0 416.1,18.0 416.5,19.2 416.9,21.0 417.3,23.3 417.7,25.9 418.0,28.3 418.4,30.4 418.8,32.5 419.2,34.6 419.6,37.1 419.9,40.1 420.3,43.6 420.7,47.1 421.1,50.7 421.5,54.2 421.8,57.6 422.2,60.7 422.6,63.9 423.0,67.1 423.4,70.4 423.7,73.9 424.1,77.9 424.5,82.0 424.9,86.4 425.3,91.0 425.7,95.6 426.0,100.4 426.4,105.3 426.8,110.5 427.2,115.7 427.6,121.0 427.9,126.4 428.3,132.0 428.7,137.6 429.1,143.3 429.5,148.9 429.8,154.5 430.2,160.5 430.6,166.5 431.0,171.9 431.4,176.2 431.8,179.3 432.1,182.1 432.5,184.8 432.9,187.2 433.3,189.1 433.7,190.5 434.0,191.2 434.4,190.6 434.8,189.3 435.2,188.1 435.6,186.8 435.9,185.5 436.3,184.2 436.7,182.8 437.1,181.4 437.5,180.0 437.9,178.6 438.2,177.2 438.6,175.7 439.0,174.2 439.4,172.7 439.8,171.2 440.1,169.7 440.5,168.2 440.9,166.6 441.3,165.1 441.7,163.5 442.0,161.9 442.4,160.4 442.8,158.8 443.2,157.2 443.6,155.6 444.0,154.0 444.3,152.4 444.7,150.9 445.1,149.3 445.5,147.7 445.9,146.1 446.2,144.6 446.6,143.0 447.0,141.5 447.8,138.4 448.5,135.4 449.3,132.4 450.0,129.4 450.8,126.5 451.6,123.7 452.3,120.9 453.1,118.1 453.8,115.5 454.6,112.9 455.4,110.3 456.1,107.9 456.9,105.5 457.6,103.1 458.4,100.9 459.2,98.7 459.9,96.6 460.7,94.6 461.5,92.6 462.2,90.7 463.0,88.9 463.7,87.1 464.5,85.4 465.3,83.7 466.0,82.1 466.8,80.6 467.5,79.1 468.3,77.6 469.1,76.2 469.8,74.8 470.6,73.5 471.3,72.3 472.1,71.0 472.9,69.9 473.6,68.7 474.4,67.6 475.1,66.5 475.9,65.5 476.7,64.5 477.4,63.5 478.2,62.6 479.0,61.6 479.7,60.7 480.5,59.9 481.2,59.0 482.0,58.2 482.8,57.4 483.5,56.6 484.3,55.8 485.0,55.0 485.8,54.3 486.6,53.6 487.3,52.8 488.1,52.1 488.8,51.4 489.6,50.8 490.4,50.1 491.1,49.4 491.9,48.8 492.6,48.1 493.4,47.5 494.2,46.9 494.9,46.2 495.7,45.6 496.4,45.0 497.2,44.4 498.0,43.8 498.7,43.2 499.5,42.6 500.3,42.0 501.0,41.4 501.8,40.9 502.5,40.3 503.3,39.8 504.1,39.2 504.8,38.7 505.6,38.2 506.3,37.7 507.1,37.2 507.9,36.8 511.4,34.8 514.8,33.1 518.3,31.6 521.8,30.3 525.3,29.2 528.8,28.2 532.3,27.4 535.8,26.6 539.3,25.8 542.8,25.2 546.3,24.5 549.8,23.9 553.3,23.3 556.8,22.7 560.3,22.2 563.8,21.6 567.3,21.1 570.8,20.5 574.3,20.0 577.7,19.5 581.2,19.0 584.7,18.5 588.2,18.1 591.7,17.7 595.2,17.3 598.7,16.9 602.2,16.5 605.7,16.1 609.2,15.8 612.7,15.5 616.2,15.2 619.7,14.9 623.2,14.6 626.7,14.4 630.2,14.2 633.7,14.0 637.2,13.8 640.6,13.6 644.1,13.4 647.6,13.3 651.1,13.1 654.6,13.0 658.1,12.9 661.6,12.8 665.1,12.7 668.6,12.6 672.1,12.6 675.6,12.5 679.1,12.5" fill="none" stroke="#1414f0" stroke-width="3.2" stroke-linejoin="round" stroke-linecap="round"/>
<circle cx="431.1" cy="192.8" r="1.2" fill="#7a0c0c"/>
<circle cx="432.0" cy="205.2" r="1.2" fill="#7a0c0c"/>
<circle cx="435.7" cy="207.3" r="1.2" fill="#7a0c0c"/>
<circle cx="435.5" cy="199.8" r="1.2" fill="#7a0c0c"/>
<circle cx="437.6" cy="192.8" r="1.2" fill="#7a0c0c"/>
<circle cx="439.6" cy="185.3" r="1.2" fill="#7a0c0c"/>
<circle cx="440.0" cy="178.4" r="1.2" fill="#7a0c0c"/>
<circle cx="441.8" cy="172.4" r="1.2" fill="#7a0c0c"/>
<circle cx="444.1" cy="165.4" r="1.2" fill="#7a0c0c"/>
<circle cx="446.0" cy="157.2" r="1.2" fill="#7a0c0c"/>
<circle cx="446.3" cy="150.1" r="1.2" fill="#7a0c0c"/>
<circle cx="449.5" cy="144.4" r="1.2" fill="#7a0c0c"/>
<circle cx="450.3" cy="137.8" r="1.2" fill="#7a0c0c"/>
<circle cx="451.8" cy="129.8" r="1.2" fill="#7a0c0c"/>
<circle cx="454.9" cy="125.3" r="1.2" fill="#7a0c0c"/>
<circle cx="454.4" cy="117.3" r="1.2" fill="#7a0c0c"/>
<circle cx="457.4" cy="113.9" r="1.2" fill="#7a0c0c"/>
<circle cx="458.8" cy="110.3" r="1.2" fill="#7a0c0c"/>
<circle cx="461.8" cy="103.7" r="1.2" fill="#7a0c0c"/>
<circle cx="462.4" cy="99.4" r="1.2" fill="#7a0c0c"/>
<circle cx="461.9" cy="96.4" r="1.2" fill="#7a0c0c"/>
<circle cx="464.8" cy="91.0" r="1.2" fill="#7a0c0c"/>
<circle cx="466.4" cy="86.8" r="1.2" fill="#7a0c0c"/>
<circle cx="469.2" cy="87.2" r="1.2" fill="#7a0c0c"/>
<circle cx="470.4" cy="80.4" r="1.2" fill="#7a0c0c"/>
<circle cx="468.2" cy="81.6" r="1.2" fill="#7a0c0c"/>
<circle cx="470.3" cy="77.6" r="1.2" fill="#7a0c0c"/>
<circle cx="473.0" cy="74.6" r="1.2" fill="#7a0c0c"/>
<circle cx="473.9" cy="72.1" r="1.2" fill="#7a0c0c"/>
<circle cx="474.9" cy="71.1" r="1.2" fill="#7a0c0c"/>
<circle cx="476.8" cy="69.6" r="1.2" fill="#7a0c0c"/>
<circle cx="478.3" cy="66.4" r="1.2" fill="#7a0c0c"/>
<circle cx="480.1" cy="61.9" r="1.2" fill="#7a0c0c"/>
<circle cx="482.2" cy="62.2" r="1.2" fill="#7a0c0c"/>
<circle cx="484.3" cy="62.3" r="1.2" fill="#7a0c0c"/>
<circle cx="483.9" cy="59.1" r="1.2" fill="#7a0c0c"/>
<circle cx="486.0" cy="58.5" r="1.2" fill="#7a0c0c"/>
<circle cx="487.3" cy="55.6" r="1.2" fill="#7a0c0c"/>
<circle cx="488.8" cy="53.9" r="1.2" fill="#7a0c0c"/>
<circle cx="490.6" cy="52.2" r="1.2" fill="#7a0c0c"/>
<circle cx="492.4" cy="50.4" r="1.2" fill="#7a0c0c"/>
<circle cx="493.4" cy="48.1" r="1.2" fill="#7a0c0c"/>
<circle cx="494.7" cy="49.8" r="1.2" fill="#7a0c0c"/>
<circle cx="496.0" cy="47.1" r="1.2" fill="#7a0c0c"/>
<circle cx="497.4" cy="46.5" r="1.2" fill="#7a0c0c"/>
<circle cx="500.5" cy="45.8" r="1.2" fill="#7a0c0c"/>
<circle cx="501.1" cy="45.2" r="1.2" fill="#7a0c0c"/>
<circle cx="502.6" cy="43.9" r="1.2" fill="#7a0c0c"/>
<circle cx="503.7" cy="40.4" r="1.2" fill="#7a0c0c"/>
<circle cx="507.7" cy="40.7" r="1.2" fill="#7a0c0c"/>
<circle cx="507.8" cy="39.3" r="1.2" fill="#7a0c0c"/>
<circle cx="508.9" cy="35.6" r="1.2" fill="#7a0c0c"/>
<circle cx="509.5" cy="37.4" r="1.2" fill="#7a0c0c"/>
<circle cx="512.6" cy="37.8" r="1.2" fill="#7a0c0c"/>
<circle cx="512.3" cy="36.1" r="1.2" fill="#7a0c0c"/>
<circle cx="515.0" cy="33.7" r="1.2" fill="#7a0c0c"/>
<circle cx="516.6" cy="39.2" r="1.2" fill="#7a0c0c"/>
<circle cx="518.4" cy="34.1" r="1.2" fill="#7a0c0c"/>
<circle cx="518.7" cy="34.1" r="1.2" fill="#7a0c0c"/>
<circle cx="520.5" cy="37.5" r="1.2" fill="#7a0c0c"/>
<circle cx="521.9" cy="32.9" r="1.2" fill="#7a0c0c"/>
<circle cx="523.4" cy="29.3" r="1.2" fill="#7a0c0c"/>
<circle cx="524.7" cy="31.3" r="1.2" fill="#7a0c0c"/>
<circle cx="527.2" cy="33.7" r="1.2" fill="#7a0c0c"/>
<circle cx="526.8" cy="28.7" r="1.2" fill="#7a0c0c"/>
<circle cx="530.3" cy="28.3" r="1.2" fill="#7a0c0c"/>
<circle cx="530.2" cy="30.0" r="1.2" fill="#7a0c0c"/>
<circle cx="532.7" cy="28.2" r="1.2" fill="#7a0c0c"/>
<circle cx="533.5" cy="28.8" r="1.2" fill="#7a0c0c"/>
<circle cx="535.6" cy="27.9" r="1.2" fill="#7a0c0c"/>
<circle cx="537.5" cy="27.2" r="1.2" fill="#7a0c0c"/>
<circle cx="538.9" cy="28.7" r="1.2" fill="#7a0c0c"/>
<circle cx="540.8" cy="30.3" r="1.2" fill="#7a0c0c"/>
<circle cx="541.7" cy="28.0" r="1.2" fill="#7a0c0c"/>
<circle cx="542.5" cy="27.5" r="1.2" fill="#7a0c0c"/>
<circle cx="543.8" cy="27.0" r="1.2" fill="#7a0c0c"/>
<circle cx="545.5" cy="23.8" r="1.2" fill="#7a0c0c"/>
<circle cx="547.3" cy="26.2" r="1.2" fill="#7a0c0c"/>
<circle cx="547.9" cy="25.8" r="1.2" fill="#7a0c0c"/>
<circle cx="551.2" cy="25.2" r="1.2" fill="#7a0c0c"/>
<circle cx="551.5" cy="27.3" r="1.2" fill="#7a0c0c"/>
<circle cx="553.2" cy="24.7" r="1.2" fill="#7a0c0c"/>
<circle cx="553.6" cy="20.2" r="1.2" fill="#7a0c0c"/>
<circle cx="556.4" cy="24.1" r="1.2" fill="#7a0c0c"/>
<circle cx="559.0" cy="25.3" r="1.2" fill="#7a0c0c"/>
<circle cx="560.5" cy="26.1" r="1.2" fill="#7a0c0c"/>
<circle cx="561.4" cy="20.8" r="1.2" fill="#7a0c0c"/>
<circle cx="562.9" cy="22.4" r="1.2" fill="#7a0c0c"/>
<circle cx="563.9" cy="21.9" r="1.2" fill="#7a0c0c"/>
<circle cx="566.7" cy="21.0" r="1.2" fill="#7a0c0c"/>
<circle cx="567.2" cy="20.8" r="1.2" fill="#7a0c0c"/>
<circle cx="569.3" cy="21.7" r="1.2" fill="#7a0c0c"/>
<circle cx="570.4" cy="21.1" r="1.2" fill="#7a0c0c"/>
<circle cx="572.9" cy="19.9" r="1.2" fill="#7a0c0c"/>
<circle cx="573.2" cy="19.3" r="1.2" fill="#7a0c0c"/>
<circle cx="574.8" cy="18.7" r="1.2" fill="#7a0c0c"/>
<circle cx="577.8" cy="19.6" r="1.2" fill="#7a0c0c"/>
<circle cx="578.6" cy="19.5" r="1.2" fill="#7a0c0c"/>
<circle cx="579.7" cy="21.4" r="1.2" fill="#7a0c0c"/>
<circle cx="581.9" cy="18.6" r="1.2" fill="#7a0c0c"/>
<circle cx="580.6" cy="25.7" r="1.2" fill="#7a0c0c"/>
<circle cx="584.2" cy="20.3" r="1.2" fill="#7a0c0c"/>
<circle cx="585.2" cy="19.5" r="1.2" fill="#7a0c0c"/>
<circle cx="586.2" cy="17.0" r="1.2" fill="#7a0c0c"/>
<circle cx="589.5" cy="21.2" r="1.2" fill="#7a0c0c"/>
<circle cx="589.5" cy="18.8" r="1.2" fill="#7a0c0c"/>
<circle cx="591.3" cy="16.9" r="1.2" fill="#7a0c0c"/>
<circle cx="594.1" cy="17.7" r="1.2" fill="#7a0c0c"/>
<circle cx="595.8" cy="17.4" r="1.2" fill="#7a0c0c"/>
<circle cx="596.1" cy="15.9" r="1.2" fill="#7a0c0c"/>
<circle cx="596.8" cy="19.7" r="1.2" fill="#7a0c0c"/>
<circle cx="597.9" cy="18.4" r="1.2" fill="#7a0c0c"/>
<circle cx="601.4" cy="17.0" r="1.2" fill="#7a0c0c"/>
<circle cx="602.6" cy="16.2" r="1.2" fill="#7a0c0c"/>
<circle cx="603.4" cy="20.6" r="1.2" fill="#7a0c0c"/>
<circle cx="604.7" cy="16.7" r="1.2" fill="#7a0c0c"/>
<circle cx="607.0" cy="15.9" r="1.2" fill="#7a0c0c"/>
<circle cx="608.9" cy="18.4" r="1.2" fill="#7a0c0c"/>
<circle cx="611.2" cy="16.1" r="1.2" fill="#7a0c0c"/>
<circle cx="611.5" cy="16.9" r="1.2" fill="#7a0c0c"/>
<circle cx="613.6" cy="16.5" r="1.2" fill="#7a0c0c"/>
<circle cx="613.8" cy="16.7" r="1.2" fill="#7a0c0c"/>
<circle cx="614.5" cy="19.8" r="1.2" fill="#7a0c0c"/>
<circle cx="618.0" cy="9.7" r="1.2" fill="#7a0c0c"/>
<circle cx="618.3" cy="18.9" r="1.2" fill="#7a0c0c"/>
<circle cx="621.5" cy="18.7" r="1.2" fill="#7a0c0c"/>
<circle cx="622.2" cy="13.7" r="1.2" fill="#7a0c0c"/>
<circle cx="622.8" cy="16.6" r="1.2" fill="#7a0c0c"/>
<circle cx="625.8" cy="17.4" r="1.2" fill="#7a0c0c"/>
<circle cx="626.2" cy="15.5" r="1.2" fill="#7a0c0c"/>
<circle cx="628.0" cy="13.9" r="1.2" fill="#7a0c0c"/>
<circle cx="628.3" cy="16.3" r="1.2" fill="#7a0c0c"/>
<circle cx="631.1" cy="14.4" r="1.2" fill="#7a0c0c"/>
<circle cx="632.0" cy="12.8" r="1.2" fill="#7a0c0c"/>
<circle cx="635.0" cy="13.1" r="1.2" fill="#7a0c0c"/>
<circle cx="635.9" cy="16.7" r="1.2" fill="#7a0c0c"/>
<circle cx="636.9" cy="16.4" r="1.2" fill="#7a0c0c"/>
<circle cx="638.6" cy="14.0" r="1.2" fill="#7a0c0c"/>
<circle cx="640.1" cy="15.0" r="1.2" fill="#7a0c0c"/>
<circle cx="642.4" cy="12.7" r="1.2" fill="#7a0c0c"/>
<circle cx="643.2" cy="14.0" r="1.2" fill="#7a0c0c"/>
<circle cx="644.8" cy="13.8" r="1.2" fill="#7a0c0c"/>
<circle cx="645.8" cy="11.2" r="1.2" fill="#7a0c0c"/>
<circle cx="647.4" cy="13.4" r="1.2" fill="#7a0c0c"/>
<circle cx="649.3" cy="13.2" r="1.2" fill="#7a0c0c"/>
<circle cx="649.7" cy="15.2" r="1.2" fill="#7a0c0c"/>
<circle cx="653.5" cy="14.7" r="1.2" fill="#7a0c0c"/>
<circle cx="652.9" cy="16.9" r="1.2" fill="#7a0c0c"/>
<circle cx="655.2" cy="11.3" r="1.2" fill="#7a0c0c"/>
<circle cx="656.2" cy="13.8" r="1.2" fill="#7a0c0c"/>
<circle cx="657.4" cy="14.0" r="1.2" fill="#7a0c0c"/>
<circle cx="659.4" cy="18.3" r="1.2" fill="#7a0c0c"/>
<circle cx="660.7" cy="11.8" r="1.2" fill="#7a0c0c"/>
<circle cx="662.9" cy="11.4" r="1.2" fill="#7a0c0c"/>
<circle cx="663.7" cy="17.0" r="1.2" fill="#7a0c0c"/>
<circle cx="666.5" cy="16.2" r="1.2" fill="#7a0c0c"/>
<circle cx="668.0" cy="13.5" r="1.2" fill="#7a0c0c"/>
<circle cx="669.1" cy="16.1" r="1.2" fill="#7a0c0c"/>
<circle cx="669.9" cy="12.5" r="1.2" fill="#7a0c0c"/>
<circle cx="672.5" cy="14.5" r="1.2" fill="#7a0c0c"/>
<circle cx="674.4" cy="14.3" r="1.2" fill="#7a0c0c"/>
<circle cx="675.1" cy="14.2" r="1.2" fill="#7a0c0c"/>
<circle cx="675.8" cy="9.3" r="1.2" fill="#7a0c0c"/>
<circle cx="677.5" cy="13.5" r="1.2" fill="#7a0c0c"/>
<circle cx="678.7" cy="13.2" r="1.2" fill="#7a0c0c"/>
<polyline points="401.3,9.8 401.6,9.8 402.0,9.9 402.4,9.9 402.8,10.0 403.2,10.0 403.5,10.1 403.9,10.2 404.3,10.2 404.7,10.3 405.1,10.4 405.5,10.4 405.8,10.5 406.2,10.6 406.6,10.7 407.0,10.8 407.4,10.9 407.7,11.0 408.1,11.1 408.5,11.2 408.9,11.3 409.3,11.4 409.6,11.5 410.0,11.7 410.4,11.9 410.8,12.0 411.2,12.2 411.6,12.5 411.9,12.7 412.3,13.0 412.7,13.3 413.1,13.7 413.5,14.1 413.8,14.5 414.2,15.0 414.6,15.5 415.0,16.1 415.4,16.9 415.7,17.8 416.1,19.0 416.5,20.3 416.9,22.2 417.3,24.7 417.7,27.5 418.0,30.2 418.4,32.5 418.8,34.7 419.2,37.1 419.6,39.7 419.9,43.0 420.3,46.8 420.7,50.7 421.1,54.6 421.5,58.5 421.8,62.1 422.2,65.6 422.6,69.0 423.0,72.6 423.4,76.1 423.7,80.0 424.1,84.3 424.5,88.9 424.9,93.6 425.3,98.6 425.7,103.7 426.0,108.9 426.4,114.3 426.8,119.9 427.2,125.6 427.6,131.5 427.9,137.3 428.3,143.4 428.7,149.6 429.1,155.7 429.5,161.8 429.8,168.0 430.2,174.6 430.6,181.1 431.0,187.0 431.4,191.7 431.8,195.1 432.1,198.2 432.5,201.1 432.9,203.7 433.3,205.8 433.7,207.3 434.0,208.0 434.4,207.2 434.8,205.7 435.2,204.2 435.6,202.6 435.9,201.0 436.3,199.4 436.7,197.8 437.1,196.2 437.5,194.5 437.9,192.8 438.2,191.2 438.6,189.5 439.0,187.8 439.4,186.1 439.8,184.3 440.1,182.6 440.5,180.9 440.9,179.2 441.3,177.4 441.7,175.7 442.0,174.0 442.4,172.2 442.8,170.5 443.2,168.8 443.6,167.0 444.0,165.3 444.3,163.6 444.7,161.9 445.1,160.1 445.5,158.4 445.9,156.7 446.2,155.0 446.6,153.4 447.0,151.7 447.8,148.4 448.5,145.1 449.3,141.9 450.0,138.7 450.8,135.6 451.6,132.6 452.3,129.6 453.1,126.7 453.8,123.8 454.6,121.0 455.4,118.3 456.1,115.6 456.9,113.1 457.6,110.5 458.4,108.1 459.2,105.7 459.9,103.4 460.7,101.2 461.5,99.1 462.2,97.0 463.0,95.0 463.7,93.0 464.5,91.1 465.3,89.3 466.0,87.6 466.8,85.9 467.5,84.2 468.3,82.6 469.1,81.1 469.8,79.6 470.6,78.1 471.3,76.7 472.1,75.3 472.9,74.0 473.6,72.7 474.4,71.5 475.1,70.3 475.9,69.1 476.7,68.0 477.4,66.9 478.2,65.8 479.0,64.8 479.7,63.8 480.5,62.8 481.2,61.9 482.0,61.0 482.8,60.1 483.5,59.2 484.3,58.4 485.0,57.5 485.8,56.7 486.6,55.9 487.3,55.1 488.1,54.4 488.8,53.6 489.6,52.9 490.4,52.2 491.1,51.5 491.9,50.8 492.6,50.2 493.4,49.5 494.2,48.9 494.9,48.2 495.7,47.6 496.4,47.0 497.2,46.4 498.0,45.8 498.7,45.2 499.5,44.6 500.3,44.1 501.0,43.5 501.8,43.0 502.5,42.4 503.3,41.9 504.1,41.4 504.8,40.8 505.6,40.3 506.3,39.9 507.1,39.4 507.9,38.9 511.4,36.9 514.8,35.2 518.3,33.7 521.8,32.4 525.3,31.2 528.8,30.1 532.3,29.2 535.8,28.3 539.3,27.5 542.8,26.7 546.3,26.0 549.8,25.4 553.3,24.7 556.8,24.1 560.3,23.5 563.8,22.9 567.3,22.3 570.8,21.7 574.3,21.2 577.7,20.6 581.2,20.1 584.7,19.6 588.2,19.2 591.7,18.7 595.2,18.3 598.7,17.9 602.2,17.5 605.7,17.2 609.2,16.9 612.7,16.5 616.2,16.3 619.7,16.0 623.2,15.7 626.7,15.5 630.2,15.3 633.7,15.1 637.2,14.9 640.6,14.8 644.1,14.6 647.6,14.5 651.1,14.4 654.6,14.3 658.1,14.2 661.6,14.2 665.1,14.1 668.6,14.1 672.1,14.1 675.6,14.1 679.1,14.1" fill="none" stroke="#7a0c0c" stroke-width="3.2" stroke-linejoin="round" stroke-linecap="round"/>
<circle cx="430.7" cy="200.4" r="1.2" fill="#35962a"/>
<circle cx="434.0" cy="211.4" r="1.2" fill="#35962a"/>
<circle cx="434.2" cy="213.1" r="1.2" fill="#35962a"/>
<circle cx="436.3" cy="205.7" r="1.2" fill="#35962a"/>
<circle cx="436.9" cy="197.8" r="1.2" fill="#35962a"/>
<circle cx="439.9" cy="191.1" r="1.2" fill="#35962a"/>
<circle cx="440.9" cy="182.7" r="1.2" fill="#35962a"/>
<circle cx="442.3" cy="173.0" r="1.2" fill="#35962a"/>
<circle cx="444.5" cy="165.4" r="1.2" fill="#35962a"/>
<circle cx="446.1" cy="159.8" r="1.2" fill="#35962a"/>
<circle cx="448.0" cy="151.5" r="1.2" fill="#35962a"/>
<circle cx="448.9" cy="145.4" r="1.2" fill="#35962a"/>
<circle cx="451.1" cy="140.8" r="1.2" fill="#35962a"/>
<circle cx="451.8" cy="131.5" r="1.2" fill="#35962a"/>
<circle cx="452.9" cy="126.9" r="1.2" fill="#35962a"/>
<circle cx="454.0" cy="123.6" r="1.2" fill="#35962a"/>
<circle cx="458.5" cy="115.5" r="1.2" fill="#35962a"/>
<circle cx="459.0" cy="111.4" r="1.2" fill="#35962a"/>
<circle cx="460.7" cy="108.0" r="1.2" fill="#35962a"/>
<circle cx="461.3" cy="103.4" r="1.2" fill="#35962a"/>
<circle cx="462.2" cy="97.5" r="1.2" fill="#35962a"/>
<circle cx="466.1" cy="92.8" r="1.2" fill="#35962a"/>
<circle cx="465.4" cy="89.0" r="1.2" fill="#35962a"/>
<circle cx="467.3" cy="86.6" r="1.2" fill="#35962a"/>
<circle cx="469.3" cy="83.6" r="1.2" fill="#35962a"/>
<circle cx="469.3" cy="83.1" r="1.2" fill="#35962a"/>
<circle cx="470.8" cy="80.1" r="1.2" fill="#35962a"/>
<circle cx="471.9" cy="78.3" r="1.2" fill="#35962a"/>
<circle cx="476.3" cy="74.4" r="1.2" fill="#35962a"/>
<circle cx="476.0" cy="71.6" r="1.2" fill="#35962a"/>
<circle cx="476.0" cy="66.9" r="1.2" fill="#35962a"/>
<circle cx="479.1" cy="67.5" r="1.2" fill="#35962a"/>
<circle cx="478.8" cy="66.1" r="1.2" fill="#35962a"/>
<circle cx="482.8" cy="63.0" r="1.2" fill="#35962a"/>
<circle cx="482.1" cy="60.6" r="1.2" fill="#35962a"/>
<circle cx="484.7" cy="63.7" r="1.2" fill="#35962a"/>
<circle cx="485.8" cy="60.2" r="1.2" fill="#35962a"/>
<circle cx="486.5" cy="54.8" r="1.2" fill="#35962a"/>
<circle cx="488.3" cy="53.9" r="1.2" fill="#35962a"/>
<circle cx="490.7" cy="56.2" r="1.2" fill="#35962a"/>
<circle cx="493.0" cy="51.5" r="1.2" fill="#35962a"/>
<circle cx="493.4" cy="51.2" r="1.2" fill="#35962a"/>
<circle cx="494.8" cy="49.1" r="1.2" fill="#35962a"/>
<circle cx="498.1" cy="47.9" r="1.2" fill="#35962a"/>
<circle cx="499.0" cy="47.4" r="1.2" fill="#35962a"/>
<circle cx="500.1" cy="45.8" r="1.2" fill="#35962a"/>
<circle cx="502.4" cy="47.2" r="1.2" fill="#35962a"/>
<circle cx="503.5" cy="44.0" r="1.2" fill="#35962a"/>
<circle cx="504.8" cy="41.6" r="1.2" fill="#35962a"/>
<circle cx="504.6" cy="42.9" r="1.2" fill="#35962a"/>
<circle cx="507.1" cy="40.1" r="1.2" fill="#35962a"/>
<circle cx="508.4" cy="42.6" r="1.2" fill="#35962a"/>
<circle cx="508.9" cy="39.1" r="1.2" fill="#35962a"/>
<circle cx="511.5" cy="35.5" r="1.2" fill="#35962a"/>
<circle cx="512.7" cy="40.8" r="1.2" fill="#35962a"/>
<circle cx="513.8" cy="37.9" r="1.2" fill="#35962a"/>
<circle cx="515.3" cy="38.3" r="1.2" fill="#35962a"/>
<circle cx="518.0" cy="37.7" r="1.2" fill="#35962a"/>
<circle cx="520.1" cy="34.1" r="1.2" fill="#35962a"/>
<circle cx="521.6" cy="37.8" r="1.2" fill="#35962a"/>
<circle cx="521.6" cy="35.0" r="1.2" fill="#35962a"/>
<circle cx="522.9" cy="32.6" r="1.2" fill="#35962a"/>
<circle cx="525.0" cy="33.9" r="1.2" fill="#35962a"/>
<circle cx="526.6" cy="30.8" r="1.2" fill="#35962a"/>
<circle cx="528.4" cy="33.6" r="1.2" fill="#35962a"/>
<circle cx="530.6" cy="34.8" r="1.2" fill="#35962a"/>
<circle cx="531.3" cy="33.6" r="1.2" fill="#35962a"/>
<circle cx="532.4" cy="34.2" r="1.2" fill="#35962a"/>
<circle cx="533.5" cy="29.3" r="1.2" fill="#35962a"/>
<circle cx="535.2" cy="28.5" r="1.2" fill="#35962a"/>
<circle cx="536.4" cy="30.7" r="1.2" fill="#35962a"/>
<circle cx="540.5" cy="29.2" r="1.2" fill="#35962a"/>
<circle cx="540.7" cy="30.1" r="1.2" fill="#35962a"/>
<circle cx="542.9" cy="32.2" r="1.2" fill="#35962a"/>
<circle cx="542.7" cy="29.6" r="1.2" fill="#35962a"/>
<circle cx="546.4" cy="31.4" r="1.2" fill="#35962a"/>
<circle cx="545.2" cy="25.5" r="1.2" fill="#35962a"/>
<circle cx="547.6" cy="27.4" r="1.2" fill="#35962a"/>
<circle cx="550.1" cy="30.5" r="1.2" fill="#35962a"/>
<circle cx="551.4" cy="30.4" r="1.2" fill="#35962a"/>
<circle cx="553.6" cy="29.9" r="1.2" fill="#35962a"/>
<circle cx="552.6" cy="30.9" r="1.2" fill="#35962a"/>
<circle cx="555.8" cy="26.6" r="1.2" fill="#35962a"/>
<circle cx="556.8" cy="24.0" r="1.2" fill="#35962a"/>
<circle cx="557.6" cy="24.9" r="1.2" fill="#35962a"/>
<circle cx="560.5" cy="26.8" r="1.2" fill="#35962a"/>
<circle cx="560.6" cy="28.3" r="1.2" fill="#35962a"/>
<circle cx="563.6" cy="26.0" r="1.2" fill="#35962a"/>
<circle cx="565.1" cy="26.4" r="1.2" fill="#35962a"/>
<circle cx="566.4" cy="24.9" r="1.2" fill="#35962a"/>
<circle cx="567.1" cy="25.5" r="1.2" fill="#35962a"/>
<circle cx="568.5" cy="23.8" r="1.2" fill="#35962a"/>
<circle cx="571.2" cy="25.9" r="1.2" fill="#35962a"/>
<circle cx="571.8" cy="25.3" r="1.2" fill="#35962a"/>
<circle cx="573.9" cy="23.8" r="1.2" fill="#35962a"/>
<circle cx="576.0" cy="23.2" r="1.2" fill="#35962a"/>
<circle cx="577.2" cy="21.6" r="1.2" fill="#35962a"/>
<circle cx="577.7" cy="22.0" r="1.2" fill="#35962a"/>
<circle cx="578.3" cy="23.5" r="1.2" fill="#35962a"/>
<circle cx="581.4" cy="23.2" r="1.2" fill="#35962a"/>
<circle cx="582.2" cy="22.6" r="1.2" fill="#35962a"/>
<circle cx="582.8" cy="18.6" r="1.2" fill="#35962a"/>
<circle cx="583.7" cy="20.7" r="1.2" fill="#35962a"/>
<circle cx="586.5" cy="19.8" r="1.2" fill="#35962a"/>
<circle cx="587.4" cy="21.8" r="1.2" fill="#35962a"/>
<circle cx="590.7" cy="22.4" r="1.2" fill="#35962a"/>
<circle cx="590.1" cy="20.8" r="1.2" fill="#35962a"/>
<circle cx="592.5" cy="19.7" r="1.2" fill="#35962a"/>
<circle cx="595.2" cy="17.4" r="1.2" fill="#35962a"/>
<circle cx="595.8" cy="19.2" r="1.2" fill="#35962a"/>
<circle cx="597.6" cy="19.7" r="1.2" fill="#35962a"/>
<circle cx="598.7" cy="21.1" r="1.2" fill="#35962a"/>
<circle cx="600.6" cy="22.7" r="1.2" fill="#35962a"/>
<circle cx="603.7" cy="18.9" r="1.2" fill="#35962a"/>
<circle cx="602.6" cy="24.2" r="1.2" fill="#35962a"/>
<circle cx="604.2" cy="18.5" r="1.2" fill="#35962a"/>
<circle cx="605.3" cy="20.9" r="1.2" fill="#35962a"/>
<circle cx="609.7" cy="16.8" r="1.2" fill="#35962a"/>
<circle cx="609.1" cy="17.4" r="1.2" fill="#35962a"/>
<circle cx="611.2" cy="21.1" r="1.2" fill="#35962a"/>
<circle cx="614.1" cy="19.2" r="1.2" fill="#35962a"/>
<circle cx="614.6" cy="19.1" r="1.2" fill="#35962a"/>
<circle cx="614.9" cy="17.6" r="1.2" fill="#35962a"/>
<circle cx="616.1" cy="16.8" r="1.2" fill="#35962a"/>
<circle cx="619.2" cy="16.3" r="1.2" fill="#35962a"/>
<circle cx="619.9" cy="20.1" r="1.2" fill="#35962a"/>
<circle cx="621.3" cy="19.6" r="1.2" fill="#35962a"/>
<circle cx="624.1" cy="17.0" r="1.2" fill="#35962a"/>
<circle cx="625.0" cy="16.2" r="1.2" fill="#35962a"/>
<circle cx="627.6" cy="18.9" r="1.2" fill="#35962a"/>
<circle cx="627.5" cy="23.5" r="1.2" fill="#35962a"/>
<circle cx="629.7" cy="16.8" r="1.2" fill="#35962a"/>
<circle cx="630.9" cy="17.4" r="1.2" fill="#35962a"/>
<circle cx="632.3" cy="16.6" r="1.2" fill="#35962a"/>
<circle cx="634.5" cy="13.5" r="1.2" fill="#35962a"/>
<circle cx="635.6" cy="15.5" r="1.2" fill="#35962a"/>
<circle cx="637.4" cy="14.2" r="1.2" fill="#35962a"/>
<circle cx="638.9" cy="15.3" r="1.2" fill="#35962a"/>
<circle cx="639.4" cy="20.3" r="1.2" fill="#35962a"/>
<circle cx="641.7" cy="14.4" r="1.2" fill="#35962a"/>
<circle cx="642.4" cy="16.6" r="1.2" fill="#35962a"/>
<circle cx="643.6" cy="16.1" r="1.2" fill="#35962a"/>
<circle cx="647.1" cy="17.1" r="1.2" fill="#35962a"/>
<circle cx="648.1" cy="17.3" r="1.2" fill="#35962a"/>
<circle cx="648.6" cy="20.1" r="1.2" fill="#35962a"/>
<circle cx="650.6" cy="17.0" r="1.2" fill="#35962a"/>
<circle cx="652.8" cy="17.9" r="1.2" fill="#35962a"/>
<circle cx="652.7" cy="18.0" r="1.2" fill="#35962a"/>
<circle cx="654.0" cy="15.5" r="1.2" fill="#35962a"/>
<circle cx="654.9" cy="13.9" r="1.2" fill="#35962a"/>
<circle cx="656.9" cy="14.0" r="1.2" fill="#35962a"/>
<circle cx="659.1" cy="17.4" r="1.2" fill="#35962a"/>
<circle cx="660.9" cy="16.7" r="1.2" fill="#35962a"/>
<circle cx="662.8" cy="16.7" r="1.2" fill="#35962a"/>
<circle cx="664.7" cy="15.7" r="1.2" fill="#35962a"/>
<circle cx="665.3" cy="13.1" r="1.2" fill="#35962a"/>
<circle cx="666.4" cy="14.1" r="1.2" fill="#35962a"/>
<circle cx="668.3" cy="15.7" r="1.2" fill="#35962a"/>
<circle cx="670.3" cy="17.6" r="1.2" fill="#35962a"/>
<circle cx="671.4" cy="15.4" r="1.2" fill="#35962a"/>
<circle cx="672.9" cy="13.3" r="1.2" fill="#35962a"/>
<circle cx="675.8" cy="17.2" r="1.2" fill="#35962a"/>
<circle cx="677.1" cy="17.9" r="1.2" fill="#35962a"/>
<circle cx="678.3" cy="16.2" r="1.2" fill="#35962a"/>
<circle cx="678.5" cy="13.4" r="1.2" fill="#35962a"/>
<polyline points="401.3,9.9 401.6,9.9 402.0,10.0 402.4,10.0 402.8,10.1 403.2,10.1 403.5,10.2 403.9,10.2 404.3,10.3 404.7,10.4 405.1,10.5 405.5,10.5 405.8,10.6 406.2,10.7 406.6,10.8 407.0,10.9 407.4,11.0 407.7,11.1 408.1,11.2 408.5,11.3 408.9,11.4 409.3,11.5 409.6,11.7 410.0,11.8 410.4,12.0 410.8,12.2 411.2,12.4 411.6,12.7 411.9,12.9 412.3,13.2 412.7,13.6 413.1,13.9 413.5,14.3 413.8,14.8 414.2,15.2 414.6,15.8 415.0,16.4 415.4,17.2 415.7,18.2 416.1,19.4 416.5,20.7 416.9,22.7 417.3,25.4 417.7,28.3 418.0,31.1 418.4,33.5 418.8,35.8 419.2,38.2 419.6,41.0 419.9,44.4 420.3,48.4 420.7,52.4 421.1,56.5 421.5,60.5 421.8,64.3 422.2,67.9 422.6,71.4 423.0,75.1 423.4,78.8 423.7,82.9 424.1,87.3 424.5,92.1 424.9,97.0 425.3,102.2 425.7,107.5 426.0,112.9 426.4,118.5 426.8,124.3 427.2,130.3 427.6,136.4 427.9,142.5 428.3,148.7 428.7,155.2 429.1,161.6 429.5,167.9 429.8,174.3 430.2,181.1 430.6,188.0 431.0,194.1 431.4,199.0 431.8,202.5 432.1,205.7 432.5,208.8 432.9,211.4 433.3,213.6 433.7,215.2 434.0,216.0 434.4,214.9 434.8,212.9 435.2,210.9 435.6,209.0 435.9,207.0 436.3,205.1 436.7,203.1 437.1,201.2 437.5,199.2 437.9,197.3 438.2,195.4 438.6,193.4 439.0,191.5 439.4,189.6 439.8,187.7 440.1,185.8 440.5,183.9 440.9,182.0 441.3,180.1 441.7,178.3 442.0,176.4 442.4,174.6 442.8,172.7 443.2,170.9 443.6,169.1 444.0,167.3 444.3,165.5 444.7,163.8 445.1,162.0 445.5,160.3 445.9,158.5 446.2,156.8 446.6,155.1 447.0,153.5 447.8,150.2 448.5,146.9 449.3,143.7 450.0,140.6 450.8,137.5 451.6,134.5 452.3,131.6 453.1,128.7 453.8,125.9 454.6,123.2 455.4,120.6 456.1,118.0 456.9,115.4 457.6,113.0 458.4,110.6 459.2,108.3 459.9,106.0 460.7,103.8 461.5,101.7 462.2,99.6 463.0,97.6 463.7,95.7 464.5,93.8 465.3,91.9 466.0,90.2 466.8,88.5 467.5,86.8 468.3,85.2 469.1,83.6 469.8,82.0 470.6,80.6 471.3,79.1 472.1,77.7 472.9,76.4 473.6,75.0 474.4,73.7 475.1,72.5 475.9,71.3 476.7,70.1 477.4,69.0 478.2,67.8 479.0,66.8 479.7,65.7 480.5,64.7 481.2,63.7 482.0,62.7 482.8,61.8 483.5,60.8 484.3,59.9 485.0,59.1 485.8,58.2 486.6,57.4 487.3,56.6 488.1,55.8 488.8,55.1 489.6,54.3 490.4,53.6 491.1,52.9 491.9,52.2 492.6,51.5 493.4,50.9 494.2,50.2 494.9,49.6 495.7,49.0 496.4,48.4 497.2,47.9 498.0,47.3 498.7,46.7 499.5,46.2 500.3,45.7 501.0,45.2 501.8,44.7 502.5,44.2 503.3,43.7 504.1,43.3 504.8,42.8 505.6,42.4 506.3,41.9 507.1,41.5 507.9,41.1 511.4,39.4 514.8,37.8 518.3,36.3 521.8,35.0 525.3,33.8 528.8,32.7 532.3,31.7 535.8,30.8 539.3,29.9 542.8,29.1 546.3,28.3 549.8,27.6 553.3,26.9 556.8,26.3 560.3,25.6 563.8,25.0 567.3,24.4 570.8,23.8 574.3,23.3 577.7,22.8 581.2,22.3 584.7,21.8 588.2,21.4 591.7,20.9 595.2,20.5 598.7,20.1 602.2,19.8 605.7,19.4 609.2,19.1 612.7,18.8 616.2,18.5 619.7,18.2 623.2,17.9 626.7,17.7 630.2,17.5 633.7,17.3 637.2,17.1 640.6,16.9 644.1,16.7 647.6,16.6 651.1,16.4 654.6,16.3 658.1,16.2 661.6,16.1 665.1,16.0 668.6,15.9 672.1,15.9 675.6,15.8 679.1,15.8" fill="none" stroke="#35962a" stroke-width="3.6" stroke-linejoin="round" stroke-linecap="round"/>
</g>
<rect x="401" y="4" width="277" height="222.7" fill="none" stroke="#000" stroke-width="1.8"/>
<line x1="396.4" y1="8" x2="401" y2="8" stroke="#000" stroke-width="1.6"/>
<text x="393.4" y="11.6" text-anchor="end" class="t">0</text>
<line x1="396.4" y1="60.8" x2="401" y2="60.8" stroke="#000" stroke-width="1.6"/>
<text x="393.4" y="64.4" text-anchor="end" class="t">-10</text>
<line x1="396.4" y1="113.6" x2="401" y2="113.6" stroke="#000" stroke-width="1.6"/>
<text x="393.4" y="117.2" text-anchor="end" class="t">-20</text>
<line x1="396.4" y1="166.4" x2="401" y2="166.4" stroke="#000" stroke-width="1.6"/>
<text x="393.4" y="170" text-anchor="end" class="t">-30</text>
<line x1="396.4" y1="219.2" x2="401" y2="219.2" stroke="#000" stroke-width="1.6"/>
<text x="393.4" y="222.8" text-anchor="end" class="t">-40</text>
<line x1="412.6" y1="226.7" x2="412.6" y2="231.3" stroke="#000" stroke-width="1.6"/>
<text x="412.6" y="244.4" text-anchor="middle" class="t">0</text>
<line x1="450.4" y1="226.7" x2="450.4" y2="231.3" stroke="#000" stroke-width="1.6"/>
<text x="450.4" y="244.4" text-anchor="middle" class="t">1</text>
<line x1="488.2" y1="226.7" x2="488.2" y2="231.3" stroke="#000" stroke-width="1.6"/>
<text x="488.2" y="244.4" text-anchor="middle" class="t">2</text>
<line x1="526" y1="226.7" x2="526" y2="231.3" stroke="#000" stroke-width="1.6"/>
<text x="526" y="244.4" text-anchor="middle" class="t">3</text>
<line x1="563.8" y1="226.7" x2="563.8" y2="231.3" stroke="#000" stroke-width="1.6"/>
<text x="563.8" y="244.4" text-anchor="middle" class="t">4</text>
<line x1="601.6" y1="226.7" x2="601.6" y2="231.3" stroke="#000" stroke-width="1.6"/>
<text x="601.6" y="244.4" text-anchor="middle" class="t">5</text>
<line x1="639.4" y1="226.7" x2="639.4" y2="231.3" stroke="#000" stroke-width="1.6"/>
<text x="639.4" y="244.4" text-anchor="middle" class="t">6</text>
<line x1="677.2" y1="226.7" x2="677.2" y2="231.3" stroke="#000" stroke-width="1.6"/>
<text x="677.2" y="244.4" text-anchor="middle" class="t">7</text>
<text x="530.2" y="260.9" text-anchor="middle" class="t">Decay time (ps)</text>
<text transform="translate(370.3,125.7) rotate(-90)" x="0" y="0" text-anchor="middle" class="t"><tspan font-weight="normal">&#916;</tspan>T/T(mOD)</text>
<text x="354.4" y="23.6" class="pl" textLength="22.0" lengthAdjust="spacingAndGlyphs">(b)</text>
<rect x="565.4" y="28.1" width="109.2" height="88.1" fill="#fff" stroke="#a8a8a8" stroke-width="1"/>
<circle cx="581.2" cy="38.9" r="3.1" fill="#000000"/>
<text x="599.6" y="43.2" class="lg" font-size="12.2">1.2x10<tspan dy="-4.6" font-size="8.8">14</tspan><tspan dy="4.6">cm</tspan><tspan dy="-4.6" font-size="8.8">-2</tspan></text>
<circle cx="581.2" cy="56.0" r="3.1" fill="#ff1e0e"/>
<text x="599.6" y="60.3" class="lg" font-size="12.2">1.5x10<tspan dy="-4.6" font-size="8.8">14</tspan><tspan dy="4.6">cm</tspan><tspan dy="-4.6" font-size="8.8">-2</tspan></text>
<circle cx="581.2" cy="73.1" r="3.1" fill="#1414f0"/>
<text x="599.6" y="77.4" class="lg" font-size="12.2">1.7x10<tspan dy="-4.6" font-size="8.8">14</tspan><tspan dy="4.6">cm</tspan><tspan dy="-4.6" font-size="8.8">-2</tspan></text>
<circle cx="581.2" cy="90.1" r="3.1" fill="#7a0c0c"/>
<text x="599.6" y="94.4" class="lg" font-size="12.2">2x10<tspan dy="-4.6" font-size="8.8">14</tspan><tspan dy="4.6">cm</tspan><tspan dy="-4.6" font-size="8.8">-2</tspan></text>
<circle cx="581.2" cy="107.8" r="3.1" fill="#35962a"/>
<text x="599.6" y="112.1" class="lg" font-size="12.2">2.2x10<tspan dy="-4.6" font-size="8.8">14</tspan><tspan dy="4.6">cm</tspan><tspan dy="-4.6" font-size="8.8">-2</tspan></text>
<text x="510.7" y="160.4" class="an" font-size="16">V-MoS<tspan dy="3.8" font-size="10.2">2</tspan></text>
<text x="511.3" y="181.2" class="an" font-size="15.4" textLength="92.6" lengthAdjust="spacingAndGlyphs">Pump &#8211; 2 eV</text>
<text x="510.7" y="200.2" class="an" font-size="15.4" textLength="106.5" lengthAdjust="spacingAndGlyphs">Probe -0.62 eV</text>
<rect x="54.8" y="283.5" width="276.5" height="222.8" fill="none" stroke="#000" stroke-width="1.8"/>
<line x1="50.2" y1="297.9" x2="54.8" y2="297.9" stroke="#000" stroke-width="1.6"/>
<text x="47.2" y="301.5" text-anchor="end" class="t">-26</text>
<line x1="50.2" y1="325.7" x2="54.8" y2="325.7" stroke="#000" stroke-width="1.6"/>
<text x="47.2" y="329.3" text-anchor="end" class="t">-28</text>
<line x1="50.2" y1="353.5" x2="54.8" y2="353.5" stroke="#000" stroke-width="1.6"/>
<text x="47.2" y="357.1" text-anchor="end" class="t">-30</text>
<line x1="50.2" y1="381.4" x2="54.8" y2="381.4" stroke="#000" stroke-width="1.6"/>
<text x="47.2" y="385" text-anchor="end" class="t">-32</text>
<line x1="50.2" y1="409.2" x2="54.8" y2="409.2" stroke="#000" stroke-width="1.6"/>
<text x="47.2" y="412.8" text-anchor="end" class="t">-34</text>
<line x1="50.2" y1="437" x2="54.8" y2="437" stroke="#000" stroke-width="1.6"/>
<text x="47.2" y="440.6" text-anchor="end" class="t">-36</text>
<line x1="50.2" y1="464.8" x2="54.8" y2="464.8" stroke="#000" stroke-width="1.6"/>
<text x="47.2" y="468.4" text-anchor="end" class="t">-38</text>
<line x1="50.2" y1="492.6" x2="54.8" y2="492.6" stroke="#000" stroke-width="1.6"/>
<text x="47.2" y="496.2" text-anchor="end" class="t">-40</text>
<line x1="77.9" y1="506.3" x2="77.9" y2="510.9" stroke="#000" stroke-width="1.6"/>
<text x="77.9" y="524" text-anchor="middle" class="t">1.2</text>
<line x1="124" y1="506.3" x2="124" y2="510.9" stroke="#000" stroke-width="1.6"/>
<text x="124" y="524" text-anchor="middle" class="t">1.4</text>
<line x1="170.1" y1="506.3" x2="170.1" y2="510.9" stroke="#000" stroke-width="1.6"/>
<text x="170.1" y="524" text-anchor="middle" class="t">1.6</text>
<line x1="216.3" y1="506.3" x2="216.3" y2="510.9" stroke="#000" stroke-width="1.6"/>
<text x="216.3" y="524" text-anchor="middle" class="t">1.8</text>
<line x1="262.4" y1="506.3" x2="262.4" y2="510.9" stroke="#000" stroke-width="1.6"/>
<text x="262.4" y="524" text-anchor="middle" class="t">2.0</text>
<line x1="308.5" y1="506.3" x2="308.5" y2="510.9" stroke="#000" stroke-width="1.6"/>
<text x="308.5" y="524" text-anchor="middle" class="t">2.2</text>
<text x="184.9" y="539.8" text-anchor="middle" class="t">Carrier Density (10<tspan dy="-4" font-size="8.8">14</tspan><tspan dy="4">)(cm</tspan><tspan dy="-4" font-size="8.8">-2</tspan><tspan dy="4">)</tspan></text>
<text transform="translate(23.7,385.9) rotate(-90)" x="0" y="0" text-anchor="middle" class="t"><tspan font-weight="normal">&#916;</tspan>T/T(mOD)</text>
<text x="-0.3" y="302.2" class="pl" textLength="20.8" lengthAdjust="spacingAndGlyphs">(c)</text>
<line x1="77.6" y1="298.4" x2="308.2" y2="441.5" stroke="#000" stroke-width="1.6"/>
<line x1="77.6" y1="322.9" x2="308.2" y2="489.7" stroke="#ff1e0e" stroke-width="1.6"/>
<rect x="73.6" y="297.3" width="8" height="8" fill="#000"/>
<rect x="142.7" y="332.0" width="8" height="8" fill="#000"/>
<rect x="188.9" y="370.4" width="8" height="8" fill="#000"/>
<rect x="257.6" y="401.5" width="8" height="8" fill="#000"/>
<rect x="304.2" y="443.2" width="8" height="8" fill="#000"/>
<circle cx="77.6" cy="318.8" r="4.6" fill="#ff1e0e"/>
<circle cx="146.7" cy="374.4" r="4.6" fill="#ff1e0e"/>
<circle cx="192.9" cy="410.8" r="4.6" fill="#ff1e0e"/>
<circle cx="261.6" cy="463.2" r="4.6" fill="#ff1e0e"/>
<circle cx="308.2" cy="481.1" r="4.6" fill="#ff1e0e"/>
<rect x="244.3" y="329.2" width="65.5" height="28" fill="#fff" stroke="#a8a8a8" stroke-width="1"/>
<rect x="253.8" y="332.9" width="8" height="8" fill="#000"/>
<circle cx="257.6" cy="349.8" r="4.6" fill="#ff1e0e"/>
<text x="272.5" y="340" class="lg" font-size="10.2">0.31 eV</text>
<text x="272.5" y="353.1" class="lg" font-size="10.2">0.62 eV</text>
<rect x="402.6" y="285" width="276.4" height="221.6" fill="none" stroke="#000" stroke-width="1.8"/>
<line x1="398" y1="506.2" x2="402.6" y2="506.2" stroke="#000" stroke-width="1.6"/>
<text x="395" y="509.8" text-anchor="end" class="t">0.5</text>
<line x1="398" y1="474.6" x2="402.6" y2="474.6" stroke="#000" stroke-width="1.6"/>
<text x="395" y="478.2" text-anchor="end" class="t">1.0</text>
<line x1="398" y1="443" x2="402.6" y2="443" stroke="#000" stroke-width="1.6"/>
<text x="395" y="446.6" text-anchor="end" class="t">1.5</text>
<line x1="398" y1="411.4" x2="402.6" y2="411.4" stroke="#000" stroke-width="1.6"/>
<text x="395" y="415" text-anchor="end" class="t">2.0</text>
<line x1="398" y1="379.8" x2="402.6" y2="379.8" stroke="#000" stroke-width="1.6"/>
<text x="395" y="383.4" text-anchor="end" class="t">2.5</text>
<line x1="398" y1="348.2" x2="402.6" y2="348.2" stroke="#000" stroke-width="1.6"/>
<text x="395" y="351.8" text-anchor="end" class="t">3.0</text>
<line x1="398" y1="316.6" x2="402.6" y2="316.6" stroke="#000" stroke-width="1.6"/>
<text x="395" y="320.2" text-anchor="end" class="t">3.5</text>
<line x1="398" y1="285" x2="402.6" y2="285" stroke="#000" stroke-width="1.6"/>
<text x="395" y="288.6" text-anchor="end" class="t">4.0</text>
<line x1="425.5" y1="506.5" x2="425.5" y2="511.1" stroke="#000" stroke-width="1.6"/>
<text x="425.5" y="524.2" text-anchor="middle" class="t">1.2</text>
<line x1="471.7" y1="506.5" x2="471.7" y2="511.1" stroke="#000" stroke-width="1.6"/>
<text x="471.7" y="524.2" text-anchor="middle" class="t">1.4</text>
<line x1="517.8" y1="506.5" x2="517.8" y2="511.1" stroke="#000" stroke-width="1.6"/>
<text x="517.8" y="524.2" text-anchor="middle" class="t">1.6</text>
<line x1="564" y1="506.5" x2="564" y2="511.1" stroke="#000" stroke-width="1.6"/>
<text x="564" y="524.2" text-anchor="middle" class="t">1.8</text>
<line x1="610.1" y1="506.5" x2="610.1" y2="511.1" stroke="#000" stroke-width="1.6"/>
<text x="610.1" y="524.2" text-anchor="middle" class="t">2.0</text>
<line x1="656.3" y1="506.5" x2="656.3" y2="511.1" stroke="#000" stroke-width="1.6"/>
<text x="656.3" y="524.2" text-anchor="middle" class="t">2.2</text>
<text x="527.4" y="541.8" text-anchor="middle" class="t">Carrier Density (10<tspan dy="-4" font-size="8.8">14</tspan><tspan dy="4">)(cm</tspan><tspan dy="-4" font-size="8.8">-2</tspan><tspan dy="4">)</tspan></text>
<text transform="translate(370.9,385.9) rotate(-90)" x="0" y="0" text-anchor="middle" class="t">Decay time (ps)</text>
<text x="354.4" y="306" class="pl" textLength="22.2" lengthAdjust="spacingAndGlyphs">(d)</text>
<path d="M425.5 489.0V497.6M423.8 489.0h3.5M423.8 497.6h3.5" stroke="#1a0fd0" stroke-width="1.0" fill="none"/>
<rect x="421.5" y="489.6" width="8" height="8" fill="#1a0fd0"/>
<path d="M494.7 489.0V497.6M493.0 489.0h3.5M493.0 497.6h3.5" stroke="#1a0fd0" stroke-width="1.0" fill="none"/>
<rect x="490.7" y="489.6" width="8" height="8" fill="#1a0fd0"/>
<path d="M540.9 486.4V495.0M539.1 486.4h3.5M539.1 495.0h3.5" stroke="#1a0fd0" stroke-width="1.0" fill="none"/>
<rect x="536.9" y="487.0" width="8" height="8" fill="#1a0fd0"/>
<path d="M610.1 486.4V495.0M608.4 486.4h3.5M608.4 495.0h3.5" stroke="#1a0fd0" stroke-width="1.0" fill="none"/>
<rect x="606.1" y="487.0" width="8" height="8" fill="#1a0fd0"/>
<path d="M656.3 487.1V495.7M654.6 487.1h3.5M654.6 495.7h3.5" stroke="#1a0fd0" stroke-width="1.0" fill="none"/>
<rect x="652.3" y="487.7" width="8" height="8" fill="#1a0fd0"/>
<path d="M425.5 331.6V363.6M422.5 331.6h6M422.5 363.6h6" stroke="#000" stroke-width="1.6" fill="none"/>
<circle cx="425.5" cy="347.2" r="4.6" fill="#000"/>
<path d="M494.7 323.9V350.7M491.7 323.9h6M491.7 350.7h6" stroke="#000" stroke-width="1.6" fill="none"/>
<circle cx="494.7" cy="337.4" r="4.6" fill="#000"/>
<path d="M540.9 301.0V333.9M537.9 301.0h6M537.9 333.9h6" stroke="#000" stroke-width="1.6" fill="none"/>
<circle cx="540.9" cy="317.6" r="4.6" fill="#000"/>
<path d="M610.1 306.5V339.5M607.1 306.5h6M607.1 339.5h6" stroke="#000" stroke-width="1.6" fill="none"/>
<circle cx="610.1" cy="323.4" r="4.6" fill="#000"/>
<path d="M656.3 313.0V345.0M653.3 313.0h6M653.3 345.0h6" stroke="#000" stroke-width="1.6" fill="none"/>
<circle cx="656.3" cy="329.1" r="4.6" fill="#000"/>
<polygon points="419.8,497.2 431.2,497.2 425.5,506.7" fill="#ff1e0e"/>
<polygon points="489.0,495.1 500.4,495.1 494.7,504.6" fill="#ff1e0e"/>
<polygon points="535.2,495.1 546.6,495.1 540.9,504.6" fill="#ff1e0e"/>
<polygon points="604.4,495.1 615.8,495.1 610.1,504.6" fill="#ff1e0e"/>
<polygon points="650.6,497.1 662.0,497.1 656.3,506.6" fill="#ff1e0e"/>
<path d="M425.5 381.8V398.2M422.5 381.8h6M422.5 398.2h6" stroke="#2f8f22" stroke-width="1.6" fill="none"/>
<polygon points="420.0,394.7 431.0,394.7 425.5,385.3" fill="#2f8f22"/>
<path d="M494.7 360.5V378.8M491.7 360.5h6M491.7 378.8h6" stroke="#2f8f22" stroke-width="1.6" fill="none"/>
<polygon points="489.2,374.3 500.2,374.3 494.7,364.9" fill="#2f8f22"/>
<path d="M540.9 362.9V380.6M537.9 362.9h6M537.9 380.6h6" stroke="#2f8f22" stroke-width="1.6" fill="none"/>
<polygon points="535.4,376.4 546.4,376.4 540.9,367.1" fill="#2f8f22"/>
<path d="M610.1 369.8V385.0M607.1 369.8h6M607.1 385.0h6" stroke="#2f8f22" stroke-width="1.6" fill="none"/>
<polygon points="604.6,382.1 615.6,382.1 610.1,372.7" fill="#2f8f22"/>
<path d="M656.3 386.0V397.8M653.3 386.0h6M653.3 397.8h6" stroke="#2f8f22" stroke-width="1.6" fill="none"/>
<polygon points="650.8,396.6 661.8,396.6 656.3,387.2" fill="#2f8f22"/>
<rect x="564.3" y="399.6" width="78.2" height="66.4" fill="#fff" stroke="#a8a8a8" stroke-width="1"/>
<rect x="574.0" y="403.9" width="8" height="8" fill="#1a0fd0"/>
<circle cx="578.0" cy="424.2" r="4.6" fill="#000"/>
<polygon points="572.5,437.0 583.5,437.0 578.0,446.2" fill="#ff1e0e"/>
<polygon points="572.5,460.2 583.5,460.2 578.0,450.8" fill="#2f8f22"/>
<text x="592.7" y="411.4" class="lg" font-size="10.4"><tspan font-weight="normal">&#964;</tspan><tspan dy="2.8" font-size="7.6">1</tspan><tspan dy="-2.8">-0.31 eV</tspan></text>
<text x="592.7" y="427.9" class="lg" font-size="10.4"><tspan font-weight="normal">&#964;</tspan><tspan dy="2.8" font-size="7.6">2</tspan><tspan dy="-2.8">-0.31 eV</tspan></text>
<text x="592.7" y="445.2" class="lg" font-size="10.4"><tspan font-weight="normal">&#964;</tspan><tspan dy="2.8" font-size="7.6">1</tspan><tspan dy="-2.8">-0.62 eV</tspan></text>
<text x="592.7" y="459.3" class="lg" font-size="10.4"><tspan font-weight="normal">&#964;</tspan><tspan dy="2.8" font-size="7.6">2</tspan><tspan dy="-2.8">-0.62 eV</tspan></text>
<rect x="54.8" y="561.7" width="276.2" height="222.3" fill="none" stroke="#000" stroke-width="1.8"/>
<line x1="50.2" y1="784.1" x2="54.8" y2="784.1" stroke="#000" stroke-width="1.6"/>
<text x="47.2" y="787.7" text-anchor="end" class="t">10</text>
<line x1="50.2" y1="756.3" x2="54.8" y2="756.3" stroke="#000" stroke-width="1.6"/>
<text x="47.2" y="759.9" text-anchor="end" class="t">20</text>
<line x1="50.2" y1="728.5" x2="54.8" y2="728.5" stroke="#000" stroke-width="1.6"/>
<text x="47.2" y="732.1" text-anchor="end" class="t">30</text>
<line x1="50.2" y1="700.7" x2="54.8" y2="700.7" stroke="#000" stroke-width="1.6"/>
<text x="47.2" y="704.3" text-anchor="end" class="t">40</text>
<line x1="50.2" y1="672.9" x2="54.8" y2="672.9" stroke="#000" stroke-width="1.6"/>
<text x="47.2" y="676.5" text-anchor="end" class="t">50</text>
<line x1="50.2" y1="645.1" x2="54.8" y2="645.1" stroke="#000" stroke-width="1.6"/>
<text x="47.2" y="648.7" text-anchor="end" class="t">60</text>
<line x1="50.2" y1="617.3" x2="54.8" y2="617.3" stroke="#000" stroke-width="1.6"/>
<text x="47.2" y="620.9" text-anchor="end" class="t">70</text>
<line x1="50.2" y1="589.5" x2="54.8" y2="589.5" stroke="#000" stroke-width="1.6"/>
<text x="47.2" y="593.1" text-anchor="end" class="t">80</text>
<line x1="50.2" y1="561.7" x2="54.8" y2="561.7" stroke="#000" stroke-width="1.6"/>
<text x="47.2" y="565.3" text-anchor="end" class="t">90</text>
<line x1="77.6" y1="784" x2="77.6" y2="788.6" stroke="#000" stroke-width="1.6"/>
<text x="77.6" y="801.7" text-anchor="middle" class="t">1.2</text>
<line x1="123.7" y1="784" x2="123.7" y2="788.6" stroke="#000" stroke-width="1.6"/>
<text x="123.7" y="801.7" text-anchor="middle" class="t">1.4</text>
<line x1="169.7" y1="784" x2="169.7" y2="788.6" stroke="#000" stroke-width="1.6"/>
<text x="169.7" y="801.7" text-anchor="middle" class="t">1.6</text>
<line x1="215.8" y1="784" x2="215.8" y2="788.6" stroke="#000" stroke-width="1.6"/>
<text x="215.8" y="801.7" text-anchor="middle" class="t">1.8</text>
<line x1="261.8" y1="784" x2="261.8" y2="788.6" stroke="#000" stroke-width="1.6"/>
<text x="261.8" y="801.7" text-anchor="middle" class="t">2.0</text>
<line x1="307.9" y1="784" x2="307.9" y2="788.6" stroke="#000" stroke-width="1.6"/>
<text x="307.9" y="801.7" text-anchor="middle" class="t">2.2</text>
<text x="180.8" y="819.7" text-anchor="middle" class="t">Carrier Density (10<tspan dy="-4" font-size="8.8">14</tspan><tspan dy="4">)(cm</tspan><tspan dy="-4" font-size="8.8">-2</tspan><tspan dy="4">)</tspan></text>
<text transform="translate(27.3,672.7) rotate(-90)" x="0" y="0" text-anchor="middle" class="t">Amplitude (%)</text>
<text x="-0.6" y="569.5" class="pl" textLength="21.7" lengthAdjust="spacingAndGlyphs">(e)</text>
<rect x="73.6" y="589.9" width="8" height="8" fill="#1a0fd0"/>
<rect x="142.7" y="587.7" width="8" height="8" fill="#1a0fd0"/>
<rect x="188.8" y="574.9" width="8" height="8" fill="#1a0fd0"/>
<rect x="257.8" y="576.6" width="8" height="8" fill="#1a0fd0"/>
<rect x="303.9" y="576.3" width="8" height="8" fill="#1a0fd0"/>
<circle cx="77.6" cy="751.6" r="4.6" fill="#000"/>
<circle cx="146.7" cy="754.2" r="4.6" fill="#000"/>
<circle cx="192.8" cy="764.6" r="4.6" fill="#000"/>
<circle cx="261.8" cy="764.4" r="4.6" fill="#000"/>
<circle cx="307.9" cy="764.4" r="4.6" fill="#000"/>
<polygon points="72.0,585.4 83.2,585.4 77.6,594.8" fill="#ff1e0e"/>
<polygon points="141.1,577.3 152.3,577.3 146.7,586.7" fill="#ff1e0e"/>
<polygon points="187.2,579.2 198.3,579.2 192.8,588.6" fill="#ff1e0e"/>
<polygon points="256.2,580.4 267.4,580.4 261.8,589.8" fill="#ff1e0e"/>
<polygon points="302.3,582.3 313.5,582.3 307.9,591.7" fill="#ff1e0e"/>
<polygon points="72.1,761.0 83.1,761.0 77.6,751.6" fill="#2f8f22"/>
<polygon points="141.2,768.2 152.2,768.2 146.7,758.8" fill="#2f8f22"/>
<polygon points="187.2,766.0 198.2,766.0 192.8,756.6" fill="#2f8f22"/>
<polygon points="256.3,764.6 267.3,764.6 261.8,755.2" fill="#2f8f22"/>
<polygon points="302.4,762.1 313.4,762.1 307.9,752.7" fill="#2f8f22"/>
<rect x="207.3" y="644.4" width="83.5" height="63.5" fill="#fff" stroke="#a8a8a8" stroke-width="1"/>
<rect x="216.4" y="648.0" width="8" height="8" fill="#1a0fd0"/>
<circle cx="220.5" cy="667.5" r="4.55" fill="#000"/>
<polygon points="214.9,679.8 225.9,679.8 220.4,689.0" fill="#ff1e0e"/>
<polygon points="214.9,701.6 225.9,701.6 220.4,692.2" fill="#2f8f22"/>
<text x="235" y="655.8" class="lg" font-size="10.5">A<tspan dy="2.8" font-size="7.6">1</tspan><tspan dy="-2.8">-0.31 eV</tspan></text>
<text x="235" y="671.2" class="lg" font-size="10.5">A<tspan dy="2.8" font-size="7.6">2</tspan><tspan dy="-2.8">-0.31 eV</tspan></text>
<text x="235" y="687.2" class="lg" font-size="10.5">A<tspan dy="2.8" font-size="7.6">1</tspan><tspan dy="-2.8">-0.62 eV</tspan></text>
<text x="235" y="702.4" class="lg" font-size="10.5">A<tspan dy="2.8" font-size="7.6">2</tspan><tspan dy="-2.8">- 0.62 eV</tspan></text>
<rect x="402.4" y="564.7" width="278.5" height="223.1" fill="none" stroke="#000" stroke-width="1.8"/>
<line x1="397.8" y1="567.9" x2="402.4" y2="567.9" stroke="#000" stroke-width="1.6"/>
<text x="394.8" y="571.5" text-anchor="end" class="t">0.0</text>
<line x1="397.8" y1="610.6" x2="402.4" y2="610.6" stroke="#000" stroke-width="1.6"/>
<text x="394.8" y="614.2" text-anchor="end" class="t">-0.2</text>
<line x1="397.8" y1="653.4" x2="402.4" y2="653.4" stroke="#000" stroke-width="1.6"/>
<text x="394.8" y="657" text-anchor="end" class="t">-0.4</text>
<line x1="397.8" y1="696.1" x2="402.4" y2="696.1" stroke="#000" stroke-width="1.6"/>
<text x="394.8" y="699.7" text-anchor="end" class="t">-0.6</text>
<line x1="397.8" y1="738.9" x2="402.4" y2="738.9" stroke="#000" stroke-width="1.6"/>
<text x="394.8" y="742.5" text-anchor="end" class="t">-0.8</text>
<line x1="397.8" y1="781.6" x2="402.4" y2="781.6" stroke="#000" stroke-width="1.6"/>
<text x="394.8" y="785.2" text-anchor="end" class="t">-1.0</text>
<line x1="411.1" y1="787.8" x2="411.1" y2="792.4" stroke="#000" stroke-width="1.6"/>
<text x="411.1" y="805.5" text-anchor="middle" class="t">0</text>
<line x1="500.9" y1="787.8" x2="500.9" y2="792.4" stroke="#000" stroke-width="1.6"/>
<text x="500.9" y="805.5" text-anchor="middle" class="t">1</text>
<line x1="590.7" y1="787.8" x2="590.7" y2="792.4" stroke="#000" stroke-width="1.6"/>
<text x="590.7" y="805.5" text-anchor="middle" class="t">2</text>
<line x1="680.5" y1="787.8" x2="680.5" y2="792.4" stroke="#000" stroke-width="1.6"/>
<text x="680.5" y="805.5" text-anchor="middle" class="t">3</text>
<text x="532.4" y="821.4" text-anchor="middle" class="t">Decay time (ps)</text>
<text transform="translate(366.5,676.5) rotate(-90)" x="0" y="0" text-anchor="middle" class="t">Normalized <tspan font-weight="normal">&#916;</tspan>T/T (mOD)</text>
<text x="356.4" y="570" class="pl" textLength="18.2" lengthAdjust="spacingAndGlyphs">(f)</text>
<g clip-path="url(#cf)">
<line x1="436.5" y1="650" x2="436.5" y2="787" stroke="#999" stroke-width="0.8" stroke-dasharray="1.2,1.4"/>
<line x1="462.5" y1="650" x2="462.5" y2="787" stroke="#9a9aff" stroke-width="0.8" stroke-dasharray="1.2,1.4"/>
<polyline points="401.3,572.4 401.9,572.4 402.5,572.5 403.0,572.6 403.6,572.8 404.2,573.0 404.7,573.2 405.3,573.4 405.9,573.7 406.5,574.0 407.0,574.3 407.6,574.7 408.2,575.0 408.7,575.4 409.3,575.9 409.9,576.5 410.4,577.1 411.0,577.8 411.6,578.6 412.1,579.4 412.7,580.3 413.3,581.4 413.8,582.7 414.4,584.0 415.0,585.4 415.5,586.8 416.1,588.1 416.7,589.5 417.2,591.3 417.8,594.1 418.4,598.4 418.9,603.9 419.5,608.7 420.1,614.4 420.6,621.0 421.2,628.2 421.8,635.4 422.3,640.4 422.9,645.1 423.5,651.5 424.0,659.5 424.6,669.4 425.2,677.9 425.7,685.8 426.3,693.3 426.9,700.4 427.4,710.0 428.0,721.4 428.6,732.0 429.1,739.8 429.7,746.4 430.3,752.2 430.8,757.7 431.4,763.8 432.0,769.7 432.6,772.8 433.1,774.9 433.7,776.8 434.3,778.4 434.8,779.6 435.4,780.5 436.0,781.1 436.5,781.1 437.1,780.6 437.7,779.4 438.2,777.8 438.8,776.0 439.4,774.3 439.9,772.7 440.5,771.2 441.1,769.6 441.6,768.1 442.2,766.5 442.8,765.0 443.3,763.4 443.9,761.8 444.5,760.2 445.0,758.6 445.6,757.1 446.2,755.8 446.7,754.7 447.3,753.7 447.9,752.9 448.4,752.2 449.0,751.6 449.6,750.9 450.1,750.2 450.7,749.4 451.3,748.6 451.8,747.7 452.4,746.8 453.0,745.8 453.5,744.9 454.1,743.8 454.7,742.7 455.2,741.6 455.8,740.3 456.4,738.9 456.9,737.4 457.5,735.9 458.1,734.4 458.7,733.0 459.2,731.5 459.8,730.1 460.4,728.7 460.9,727.2 461.5,725.8 462.1,724.3 462.6,722.9 463.2,721.5 463.8,720.0 464.3,718.4 464.9,716.8 465.5,715.3 466.0,713.9 466.6,712.6 467.2,711.6 467.7,710.7 468.3,709.9 468.9,709.2 469.4,708.5 470.0,707.9 470.6,707.3 471.1,706.7 471.7,706.2 472.3,705.7 472.8,705.2 473.4,704.7 474.0,704.2 474.5,703.6 475.1,703.1 475.7,702.5 476.2,701.9 476.8,701.2 477.4,700.6 477.9,699.9 478.5,699.2 479.1,698.5 479.6,697.8 480.2,697.1 480.8,696.3 481.3,695.6 481.9,694.9 482.5,694.1 483.1,693.4 483.6,692.6 484.2,691.9 484.8,691.1 485.3,690.4 485.9,689.6 486.5,688.8 487.0,688.1 487.6,687.3 488.2,686.5 488.7,685.7 489.3,684.9 489.9,684.1 490.4,683.3 491.0,682.5 491.6,681.7 492.1,680.9 492.7,680.1 493.3,679.3 493.8,678.5 494.4,677.7 495.0,676.9 495.5,676.1 496.1,675.3 496.7,674.5 497.2,673.7 497.8,672.9 498.4,672.1 498.9,671.4 499.5,670.7 500.1,669.9 500.6,669.3 501.2,668.6 501.8,668.0 502.3,667.4 502.9,666.8 503.5,666.2 504.0,665.7 504.6,665.1 505.2,664.6 505.7,664.1 506.3,663.5 506.9,663.0 507.4,662.5 508.0,661.9 508.6,661.4 509.2,660.8 509.7,660.3 510.3,659.7 510.9,659.1 511.4,658.4 512.0,657.8 512.6,657.2 513.1,656.5 513.7,655.9 514.3,655.2 514.8,654.6 515.4,653.9 516.0,653.3 516.5,652.6 517.1,652.0 517.7,651.3 518.2,650.7 518.8,650.1 519.4,649.5 519.9,649.0 520.5,648.4 521.1,647.9 521.6,647.4 522.2,647.0 522.8,646.5 523.3,646.1 523.9,645.6 524.5,645.2 525.0,644.8 525.6,644.4 526.2,644.0 526.7,643.6 527.3,643.2 527.9,642.8 528.4,642.5 529.0,642.1 529.6,641.7 530.1,641.4 530.7,641.0 531.3,640.6 531.8,640.3 532.4,639.9 533.0,639.6 533.5,639.2 534.1,638.8 534.7,638.5 535.3,638.1 535.8,637.7 536.4,637.4 537.0,637.0 537.5,636.6 538.1,636.3 538.7,635.9 539.2,635.6 539.8,635.2 540.4,634.9 540.9,634.5 541.5,634.2 542.1,633.9 542.6,633.5 543.2,633.2 543.8,632.9 544.3,632.6 544.9,632.3 545.5,632.0 546.0,631.7 546.6,631.4 547.2,631.1 547.7,630.8 548.3,630.5 548.9,630.2 549.4,629.9 550.0,629.6 550.6,629.3 551.1,629.0 551.7,628.8 552.3,628.5 552.8,628.2 553.4,628.0 554.0,627.7 554.5,627.4 555.1,627.2 555.7,626.9 556.2,626.7 556.8,626.4 557.4,626.2 557.9,625.9 558.5,625.7 559.1,625.4 559.7,625.2 560.2,625.0 560.8,624.8 561.4,624.5 561.9,624.3 562.5,624.1 563.1,623.9 563.6,623.7 564.2,623.4 564.8,623.2 565.3,623.0 565.9,622.8 566.5,622.5 567.0,622.3 567.6,622.1 568.2,621.8 568.7,621.6 569.3,621.3 569.9,621.1 570.4,620.9 571.0,620.6 571.6,620.3 572.1,620.1 572.7,619.8 573.3,619.6 573.8,619.3 574.4,619.1 575.0,618.8 575.5,618.5 576.1,618.3 576.7,618.0 577.2,617.7 577.8,617.5 578.4,617.2 578.9,616.9 579.5,616.7 580.1,616.4 580.6,616.2 581.2,615.9 581.8,615.6 582.3,615.3 582.9,615.0 583.5,614.8 584.0,614.5 584.6,614.2 585.2,613.9 585.8,613.6 586.3,613.3 586.9,613.1 587.5,612.8 588.0,612.5 588.6,612.3 589.2,612.1 589.7,611.8 590.3,611.6 590.9,611.4 591.4,611.2 592.0,611.0 592.6,610.8 593.1,610.6 593.7,610.4 594.3,610.2 594.8,610.0 595.4,609.8 596.0,609.7 596.5,609.5 597.1,609.3 597.7,609.1 598.2,609.0 598.8,608.8 599.4,608.6 599.9,608.5 600.5,608.3 601.1,608.2 601.6,608.0 602.2,607.8 602.8,607.7 603.3,607.5 603.9,607.4 604.5,607.2 605.0,607.1 605.6,606.9 606.2,606.7 606.7,606.6 607.3,606.4 607.9,606.3 608.4,606.2 609.0,606.0 609.6,605.9 610.1,605.7 610.7,605.6 611.3,605.4 611.9,605.3 612.4,605.2 613.0,605.0 613.6,604.9 614.1,604.8 614.7,604.6 615.3,604.5 615.8,604.4 616.4,604.2 617.0,604.1 617.5,604.0 618.1,603.9 618.7,603.7 619.2,603.6 619.8,603.5 620.4,603.4 620.9,603.3 621.5,603.1 622.1,603.0 622.6,602.9 623.2,602.8 623.8,602.7 624.3,602.6 624.9,602.5 625.5,602.4 626.0,602.2 626.6,602.1 627.2,602.0 627.7,601.9 628.3,601.8 628.9,601.7 629.4,601.6 630.0,601.5 630.6,601.4 631.1,601.2 631.7,601.1 632.3,601.0 632.8,600.9 633.4,600.8 634.0,600.7 634.5,600.5 635.1,600.4 635.7,600.3 636.3,600.2 636.8,600.0 637.4,599.9 638.0,599.8 638.5,599.7 639.1,599.6 639.7,599.4 640.2,599.3 640.8,599.2 641.4,599.1 641.9,599.0 642.5,598.9 643.1,598.8 643.6,598.7 644.2,598.6 644.8,598.5 645.3,598.4 645.9,598.3 646.5,598.2 647.0,598.1 647.6,598.0 648.2,598.0 648.7,597.9 649.3,597.8 649.9,597.7 650.4,597.6 651.0,597.6 651.6,597.5 652.1,597.4 652.7,597.4 653.3,597.3 653.8,597.2 654.4,597.1 655.0,597.1 655.5,597.0 656.1,596.9 656.7,596.8 657.2,596.7 657.8,596.7 658.4,596.6 658.9,596.5 659.5,596.4 660.1,596.3 660.6,596.2 661.2,596.1 661.8,596.0 662.4,595.9 662.9,595.8 663.5,595.7 664.1,595.6 664.6,595.5 665.2,595.4 665.8,595.3 666.3,595.2 666.9,595.0 667.5,594.9 668.0,594.8 668.6,594.7 669.2,594.6 669.7,594.5 670.3,594.4 670.9,594.3 671.4,594.2 672.0,594.1 672.6,594.0 673.1,593.9 673.7,593.8 674.3,593.7 674.8,593.6 675.4,593.5 676.0,593.4 676.5,593.3 677.1,593.2 677.7,593.1 678.2,593.0 678.8,593.0 679.4,592.9 679.9,592.8 680.5,592.7 681.1,592.7 681.6,592.6 682.2,592.5 682.8,592.5 683.3,592.4 683.9,592.3 684.5,592.3" fill="none" stroke="#000" stroke-width="1.8" stroke-linejoin="round" stroke-linecap="round"/>
<circle cx="401.1" cy="571.7" r="2.6" fill="#000"/>
<circle cx="403.4" cy="572.9" r="2.6" fill="#000"/>
<circle cx="405.9" cy="573.6" r="2.6" fill="#000"/>
<circle cx="407.3" cy="574.2" r="2.6" fill="#000"/>
<circle cx="409.5" cy="576.7" r="2.6" fill="#000"/>
<circle cx="410.8" cy="576.9" r="2.6" fill="#000"/>
<circle cx="411.7" cy="580.1" r="2.6" fill="#000"/>
<circle cx="413.2" cy="580.3" r="2.6" fill="#000"/>
<circle cx="414.0" cy="582.6" r="2.6" fill="#000"/>
<circle cx="414.7" cy="585.0" r="2.6" fill="#000"/>
<circle cx="415.5" cy="587.5" r="2.6" fill="#000"/>
<circle cx="416.6" cy="589.0" r="2.6" fill="#000"/>
<circle cx="417.4" cy="591.8" r="2.6" fill="#000"/>
<circle cx="417.2" cy="593.4" r="2.6" fill="#000"/>
<circle cx="417.7" cy="595.6" r="2.6" fill="#000"/>
<circle cx="417.9" cy="597.9" r="2.6" fill="#000"/>
<circle cx="418.5" cy="599.9" r="2.6" fill="#000"/>
<circle cx="418.5" cy="602.1" r="2.6" fill="#000"/>
<circle cx="418.7" cy="603.8" r="2.6" fill="#000"/>
<circle cx="419.3" cy="606.1" r="2.6" fill="#000"/>
<circle cx="419.9" cy="609.2" r="2.6" fill="#000"/>
<circle cx="419.2" cy="611.1" r="2.6" fill="#000"/>
<circle cx="419.6" cy="613.2" r="2.6" fill="#000"/>
<circle cx="420.2" cy="614.4" r="2.6" fill="#000"/>
<circle cx="420.3" cy="617.5" r="2.6" fill="#000"/>
<circle cx="420.8" cy="619.2" r="2.6" fill="#000"/>
<circle cx="420.9" cy="621.4" r="2.6" fill="#000"/>
<circle cx="420.8" cy="623.7" r="2.6" fill="#000"/>
<circle cx="421.5" cy="626.6" r="2.6" fill="#000"/>
<circle cx="422.0" cy="628.9" r="2.6" fill="#000"/>
<circle cx="421.6" cy="631.2" r="2.6" fill="#000"/>
<circle cx="421.4" cy="632.9" r="2.6" fill="#000"/>
<circle cx="422.1" cy="634.9" r="2.6" fill="#000"/>
<circle cx="422.0" cy="637.3" r="2.6" fill="#000"/>
<circle cx="422.4" cy="639.3" r="2.6" fill="#000"/>
<circle cx="422.5" cy="641.8" r="2.6" fill="#000"/>
<circle cx="422.8" cy="643.4" r="2.6" fill="#000"/>
<circle cx="423.3" cy="645.4" r="2.6" fill="#000"/>
<circle cx="422.8" cy="647.6" r="2.6" fill="#000"/>
<circle cx="423.7" cy="650.3" r="2.6" fill="#000"/>
<circle cx="423.3" cy="652.1" r="2.6" fill="#000"/>
<circle cx="423.9" cy="654.3" r="2.6" fill="#000"/>
<circle cx="423.5" cy="657.3" r="2.6" fill="#000"/>
<circle cx="423.7" cy="659.0" r="2.6" fill="#000"/>
<circle cx="424.1" cy="661.2" r="2.6" fill="#000"/>
<circle cx="424.2" cy="664.3" r="2.6" fill="#000"/>
<circle cx="424.2" cy="665.2" r="2.6" fill="#000"/>
<circle cx="424.0" cy="667.9" r="2.6" fill="#000"/>
<circle cx="424.6" cy="670.3" r="2.6" fill="#000"/>
<circle cx="424.7" cy="672.2" r="2.6" fill="#000"/>
<circle cx="424.7" cy="674.3" r="2.6" fill="#000"/>
<circle cx="425.1" cy="676.6" r="2.6" fill="#000"/>
<circle cx="425.3" cy="679.9" r="2.6" fill="#000"/>
<circle cx="425.5" cy="680.4" r="2.6" fill="#000"/>
<circle cx="426.1" cy="683.5" r="2.6" fill="#000"/>
<circle cx="425.4" cy="686.0" r="2.6" fill="#000"/>
<circle cx="425.9" cy="687.4" r="2.6" fill="#000"/>
<circle cx="425.9" cy="689.5" r="2.6" fill="#000"/>
<circle cx="426.2" cy="692.7" r="2.6" fill="#000"/>
<circle cx="426.3" cy="694.5" r="2.6" fill="#000"/>
<circle cx="427.1" cy="695.9" r="2.6" fill="#000"/>
<circle cx="426.8" cy="698.6" r="2.6" fill="#000"/>
<circle cx="426.6" cy="700.4" r="2.6" fill="#000"/>
<circle cx="427.1" cy="703.3" r="2.6" fill="#000"/>
<circle cx="427.0" cy="705.3" r="2.6" fill="#000"/>
<circle cx="427.5" cy="707.6" r="2.6" fill="#000"/>
<circle cx="427.7" cy="709.9" r="2.6" fill="#000"/>
<circle cx="427.7" cy="712.8" r="2.6" fill="#000"/>
<circle cx="427.9" cy="714.2" r="2.6" fill="#000"/>
<circle cx="428.0" cy="715.8" r="2.6" fill="#000"/>
<circle cx="427.8" cy="718.9" r="2.6" fill="#000"/>
<circle cx="428.2" cy="721.5" r="2.6" fill="#000"/>
<circle cx="428.1" cy="722.2" r="2.6" fill="#000"/>
<circle cx="428.8" cy="725.6" r="2.6" fill="#000"/>
<circle cx="428.0" cy="728.0" r="2.6" fill="#000"/>
<circle cx="428.4" cy="728.6" r="2.6" fill="#000"/>
<circle cx="428.4" cy="731.4" r="2.6" fill="#000"/>
<circle cx="429.2" cy="733.5" r="2.6" fill="#000"/>
<circle cx="428.8" cy="735.9" r="2.6" fill="#000"/>
<circle cx="428.9" cy="737.8" r="2.6" fill="#000"/>
<circle cx="429.3" cy="741.0" r="2.6" fill="#000"/>
<circle cx="429.6" cy="742.2" r="2.6" fill="#000"/>
<circle cx="429.2" cy="744.9" r="2.6" fill="#000"/>
<circle cx="429.6" cy="746.7" r="2.6" fill="#000"/>
<circle cx="429.5" cy="750.2" r="2.6" fill="#000"/>
<circle cx="430.5" cy="750.9" r="2.6" fill="#000"/>
<circle cx="430.7" cy="754.3" r="2.6" fill="#000"/>
<circle cx="429.9" cy="755.5" r="2.6" fill="#000"/>
<circle cx="430.8" cy="758.3" r="2.6" fill="#000"/>
<circle cx="431.1" cy="760.0" r="2.6" fill="#000"/>
<circle cx="431.3" cy="763.3" r="2.6" fill="#000"/>
<circle cx="432.1" cy="764.3" r="2.6" fill="#000"/>
<circle cx="431.4" cy="768.1" r="2.6" fill="#000"/>
<circle cx="431.6" cy="768.6" r="2.6" fill="#000"/>
<circle cx="432.2" cy="771.3" r="2.6" fill="#000"/>
<circle cx="433.0" cy="773.4" r="2.6" fill="#000"/>
<circle cx="433.0" cy="775.6" r="2.6" fill="#000"/>
<circle cx="434.0" cy="778.4" r="2.6" fill="#000"/>
<circle cx="434.7" cy="778.8" r="2.6" fill="#000"/>
<circle cx="435.8" cy="781.9" r="2.6" fill="#000"/>
<circle cx="437.4" cy="778.6" r="2.6" fill="#000"/>
<circle cx="438.1" cy="777.6" r="2.6" fill="#000"/>
<circle cx="439.3" cy="773.5" r="2.6" fill="#000"/>
<circle cx="439.8" cy="775.0" r="2.6" fill="#000"/>
<circle cx="440.2" cy="771.0" r="2.6" fill="#000"/>
<circle cx="441.7" cy="772.8" r="2.6" fill="#000"/>
<circle cx="442.2" cy="767.9" r="2.6" fill="#000"/>
<circle cx="443.0" cy="764.9" r="2.6" fill="#000"/>
<circle cx="443.4" cy="761.4" r="2.6" fill="#000"/>
<circle cx="444.2" cy="760.9" r="2.6" fill="#000"/>
<circle cx="445.7" cy="758.6" r="2.6" fill="#000"/>
<circle cx="446.1" cy="759.5" r="2.6" fill="#000"/>
<circle cx="446.6" cy="757.2" r="2.6" fill="#000"/>
<circle cx="447.1" cy="753.2" r="2.6" fill="#000"/>
<circle cx="449.5" cy="746.6" r="2.6" fill="#000"/>
<circle cx="450.2" cy="751.7" r="2.6" fill="#000"/>
<circle cx="451.7" cy="745.6" r="2.6" fill="#000"/>
<circle cx="452.8" cy="744.8" r="2.6" fill="#000"/>
<circle cx="454.2" cy="744.9" r="2.6" fill="#000"/>
<circle cx="454.9" cy="740.7" r="2.6" fill="#000"/>
<circle cx="455.9" cy="742.7" r="2.6" fill="#000"/>
<circle cx="456.8" cy="739.3" r="2.6" fill="#000"/>
<circle cx="457.5" cy="733.4" r="2.6" fill="#000"/>
<circle cx="458.1" cy="735.2" r="2.6" fill="#000"/>
<circle cx="459.1" cy="730.0" r="2.6" fill="#000"/>
<circle cx="459.4" cy="730.0" r="2.6" fill="#000"/>
<circle cx="460.6" cy="727.1" r="2.6" fill="#000"/>
<circle cx="461.4" cy="726.3" r="2.6" fill="#000"/>
<circle cx="462.4" cy="725.6" r="2.6" fill="#000"/>
<circle cx="463.4" cy="724.3" r="2.6" fill="#000"/>
<circle cx="464.2" cy="718.9" r="2.6" fill="#000"/>
<circle cx="464.6" cy="718.5" r="2.6" fill="#000"/>
<circle cx="465.3" cy="716.5" r="2.6" fill="#000"/>
<circle cx="466.6" cy="711.8" r="2.6" fill="#000"/>
<circle cx="466.7" cy="713.8" r="2.6" fill="#000"/>
<circle cx="468.5" cy="711.0" r="2.6" fill="#000"/>
<circle cx="469.5" cy="711.4" r="2.6" fill="#000"/>
<circle cx="471.7" cy="706.2" r="2.6" fill="#000"/>
<circle cx="473.0" cy="705.2" r="2.6" fill="#000"/>
<circle cx="474.7" cy="702.9" r="2.6" fill="#000"/>
<circle cx="475.9" cy="704.4" r="2.6" fill="#000"/>
<circle cx="477.7" cy="700.3" r="2.6" fill="#000"/>
<circle cx="479.1" cy="693.8" r="2.6" fill="#000"/>
<circle cx="480.6" cy="696.1" r="2.6" fill="#000"/>
<circle cx="481.7" cy="695.2" r="2.6" fill="#000"/>
<circle cx="482.9" cy="695.0" r="2.6" fill="#000"/>
<circle cx="484.3" cy="689.7" r="2.6" fill="#000"/>
<circle cx="485.5" cy="690.1" r="2.6" fill="#000"/>
<circle cx="487.3" cy="686.8" r="2.6" fill="#000"/>
<circle cx="487.9" cy="688.3" r="2.6" fill="#000"/>
<circle cx="489.3" cy="686.8" r="2.6" fill="#000"/>
<circle cx="490.9" cy="681.2" r="2.6" fill="#000"/>
<circle cx="492.0" cy="681.7" r="2.6" fill="#000"/>
<circle cx="493.7" cy="678.6" r="2.6" fill="#000"/>
<circle cx="495.0" cy="681.4" r="2.6" fill="#000"/>
<circle cx="496.0" cy="673.1" r="2.6" fill="#000"/>
<circle cx="497.0" cy="670.9" r="2.6" fill="#000"/>
<circle cx="498.4" cy="670.4" r="2.6" fill="#000"/>
<circle cx="499.5" cy="671.2" r="2.6" fill="#000"/>
<circle cx="500.6" cy="665.8" r="2.6" fill="#000"/>
<circle cx="503.5" cy="668.9" r="2.6" fill="#000"/>
<circle cx="504.6" cy="666.2" r="2.6" fill="#000"/>
<circle cx="506.6" cy="664.9" r="2.6" fill="#000"/>
<circle cx="507.7" cy="659.8" r="2.6" fill="#000"/>
<circle cx="509.2" cy="659.3" r="2.6" fill="#000"/>
<circle cx="510.5" cy="657.7" r="2.6" fill="#000"/>
<circle cx="512.2" cy="656.9" r="2.6" fill="#000"/>
<circle cx="513.9" cy="653.2" r="2.6" fill="#000"/>
<circle cx="515.1" cy="657.9" r="2.6" fill="#000"/>
<circle cx="516.6" cy="655.0" r="2.6" fill="#000"/>
<circle cx="518.4" cy="653.6" r="2.6" fill="#000"/>
<circle cx="519.8" cy="646.6" r="2.6" fill="#000"/>
<circle cx="521.1" cy="647.1" r="2.6" fill="#000"/>
<circle cx="522.4" cy="645.5" r="2.6" fill="#000"/>
<circle cx="524.2" cy="641.8" r="2.6" fill="#000"/>
<circle cx="526.5" cy="643.7" r="2.6" fill="#000"/>
<circle cx="528.0" cy="640.7" r="2.6" fill="#000"/>
<circle cx="529.9" cy="640.6" r="2.6" fill="#000"/>
<circle cx="531.8" cy="640.1" r="2.6" fill="#000"/>
<circle cx="533.7" cy="639.8" r="2.6" fill="#000"/>
<circle cx="535.8" cy="638.6" r="2.6" fill="#000"/>
<circle cx="537.3" cy="635.4" r="2.6" fill="#000"/>
<circle cx="539.5" cy="635.1" r="2.6" fill="#000"/>
<circle cx="541.2" cy="629.4" r="2.6" fill="#000"/>
<circle cx="542.3" cy="633.9" r="2.6" fill="#000"/>
<circle cx="545.2" cy="635.0" r="2.6" fill="#000"/>
<circle cx="547.2" cy="631.4" r="2.6" fill="#000"/>
<circle cx="549.0" cy="628.7" r="2.6" fill="#000"/>
<circle cx="551.2" cy="628.5" r="2.6" fill="#000"/>
<circle cx="553.1" cy="628.4" r="2.6" fill="#000"/>
<circle cx="558.8" cy="624.7" r="2.6" fill="#000"/>
<circle cx="561.5" cy="624.3" r="2.6" fill="#000"/>
<circle cx="563.3" cy="624.6" r="2.6" fill="#000"/>
<circle cx="571.3" cy="622.1" r="2.6" fill="#000"/>
<circle cx="573.1" cy="618.9" r="2.6" fill="#000"/>
<circle cx="579.0" cy="615.3" r="2.6" fill="#000"/>
<circle cx="581.4" cy="616.4" r="2.6" fill="#000"/>
<circle cx="585.0" cy="614.7" r="2.6" fill="#000"/>
<circle cx="587.3" cy="613.2" r="2.6" fill="#000"/>
<circle cx="589.0" cy="613.2" r="2.6" fill="#000"/>
<circle cx="595.7" cy="610.6" r="2.6" fill="#000"/>
<circle cx="597.0" cy="608.9" r="2.6" fill="#000"/>
<circle cx="605.9" cy="607.3" r="2.6" fill="#000"/>
<circle cx="608.0" cy="607.6" r="2.6" fill="#000"/>
<circle cx="612.5" cy="604.5" r="2.6" fill="#000"/>
<circle cx="614.3" cy="605.9" r="2.6" fill="#000"/>
<circle cx="616.6" cy="606.2" r="2.6" fill="#000"/>
<circle cx="619.1" cy="602.5" r="2.6" fill="#000"/>
<circle cx="621.1" cy="604.2" r="2.6" fill="#000"/>
<circle cx="627.4" cy="600.9" r="2.6" fill="#000"/>
<circle cx="629.3" cy="600.9" r="2.6" fill="#000"/>
<circle cx="632.2" cy="600.1" r="2.6" fill="#000"/>
<circle cx="634.1" cy="600.3" r="2.6" fill="#000"/>
<circle cx="638.1" cy="600.1" r="2.6" fill="#000"/>
<circle cx="640.4" cy="599.8" r="2.6" fill="#000"/>
<circle cx="641.9" cy="598.0" r="2.6" fill="#000"/>
<circle cx="644.8" cy="599.0" r="2.6" fill="#000"/>
<circle cx="646.6" cy="598.5" r="2.6" fill="#000"/>
<circle cx="649.0" cy="597.1" r="2.6" fill="#000"/>
<circle cx="662.4" cy="594.5" r="2.6" fill="#000"/>
<circle cx="664.3" cy="596.5" r="2.6" fill="#000"/>
<circle cx="666.5" cy="596.0" r="2.6" fill="#000"/>
<circle cx="672.5" cy="593.0" r="2.6" fill="#000"/>
<circle cx="676.2" cy="593.3" r="2.6" fill="#000"/>
<circle cx="679.2" cy="593.2" r="2.6" fill="#000"/>
<circle cx="681.2" cy="593.0" r="2.6" fill="#000"/>
<polyline points="401.3,569.8 401.9,569.8 402.5,569.8 403.0,569.9 403.6,569.9 404.2,570.0 404.7,570.0 405.3,570.1 405.9,570.2 406.5,570.2 407.0,570.3 407.6,570.4 408.2,570.5 408.7,570.6 409.3,570.7 409.9,570.9 410.4,571.1 411.0,571.3 411.6,571.5 412.1,571.8 412.7,572.1 413.3,572.4 413.8,572.7 414.4,573.0 415.0,573.4 415.5,573.8 416.1,574.3 416.7,574.9 417.2,575.4 417.8,576.0 418.4,576.6 418.9,577.2 419.5,577.9 420.1,578.5 420.6,579.2 421.2,579.9 421.8,580.7 422.3,581.6 422.9,582.6 423.5,583.8 424.0,585.1 424.6,586.5 425.2,588.1 425.7,589.9 426.3,591.9 426.9,593.8 427.4,595.6 428.0,597.3 428.6,599.2 429.1,601.4 429.7,603.7 430.3,606.1 430.8,608.1 431.4,610.5 432.0,614.5 432.6,619.5 433.1,623.8 433.7,627.6 434.3,631.1 434.8,634.5 435.4,637.8 436.0,640.9 436.5,644.1 437.1,647.3 437.7,650.7 438.2,654.0 438.8,657.3 439.4,660.3 439.9,663.3 440.5,667.0 441.1,672.7 441.6,678.9 442.2,683.8 442.8,688.2 443.3,692.5 443.9,696.8 444.5,700.8 445.0,704.7 445.6,708.2 446.2,711.7 446.7,715.5 447.3,720.0 447.9,724.6 448.4,729.0 449.0,732.9 449.6,736.6 450.1,740.1 450.7,743.7 451.3,747.6 451.8,751.5 452.4,755.2 453.0,758.4 453.5,761.1 454.1,763.7 454.7,766.1 455.2,768.3 455.8,770.1 456.4,771.6 456.9,772.9 457.5,774.0 458.1,775.2 458.7,776.2 459.2,777.2 459.8,778.1 460.4,778.9 460.9,779.6 461.5,780.1 462.1,780.4 462.6,780.5 463.2,780.5 463.8,780.3 464.3,779.9 464.9,779.4 465.5,778.9 466.0,778.2 466.6,777.5 467.2,776.8 467.7,776.0 468.3,775.2 468.9,774.5 469.4,773.7 470.0,772.8 470.6,771.7 471.1,770.7 471.7,769.5 472.3,768.4 472.8,767.2 473.4,765.9 474.0,764.5 474.5,763.1 475.1,761.6 475.7,760.1 476.2,758.6 476.8,757.1 477.4,755.6 477.9,754.2 478.5,752.8 479.1,751.4 479.6,749.9 480.2,748.5 480.8,747.1 481.3,745.7 481.9,744.3 482.5,743.0 483.1,741.7 483.6,740.4 484.2,739.1 484.8,737.9 485.3,736.7 485.9,735.5 486.5,734.3 487.0,733.1 487.6,731.9 488.2,730.8 488.7,729.6 489.3,728.5 489.9,727.4 490.4,726.4 491.0,725.3 491.6,724.3 492.1,723.3 492.7,722.3 493.3,721.3 493.8,720.2 494.4,719.2 495.0,718.1 495.5,717.0 496.1,715.9 496.7,714.7 497.2,713.5 497.8,712.3 498.4,711.0 498.9,709.8 499.5,708.5 500.1,707.3 500.6,706.1 501.2,704.8 501.8,703.7 502.3,702.5 502.9,701.4 503.5,700.4 504.0,699.4 504.6,698.5 505.2,697.5 505.7,696.6 506.3,695.8 506.9,694.9 507.4,694.0 508.0,693.2 508.6,692.4 509.2,691.6 509.7,690.7 510.3,689.9 510.9,689.1 511.4,688.3 512.0,687.5 512.6,686.6 513.1,685.8 513.7,684.9 514.3,684.1 514.8,683.2 515.4,682.3 516.0,681.5 516.5,680.6 517.1,679.8 517.7,678.9 518.2,678.1 518.8,677.3 519.4,676.4 519.9,675.6 520.5,674.8 521.1,674.0 521.6,673.2 522.2,672.4 522.8,671.6 523.3,670.8 523.9,670.0 524.5,669.3 525.0,668.5 525.6,667.7 526.2,667.0 526.7,666.2 527.3,665.5 527.9,664.7 528.4,664.0 529.0,663.3 529.6,662.6 530.1,661.8 530.7,661.1 531.3,660.4 531.8,659.7 532.4,659.1 533.0,658.4 533.5,657.7 534.1,657.0 534.7,656.3 535.3,655.6 535.8,654.9 536.4,654.2 537.0,653.5 537.5,652.9 538.1,652.2 538.7,651.5 539.2,650.9 539.8,650.2 540.4,649.6 540.9,649.0 541.5,648.4 542.1,647.8 542.6,647.2 543.2,646.7 543.8,646.1 544.3,645.6 544.9,645.1 545.5,644.6 546.0,644.2 546.6,643.7 547.2,643.3 547.7,642.9 548.3,642.4 548.9,642.0 549.4,641.6 550.0,641.2 550.6,640.9 551.1,640.5 551.7,640.1 552.3,639.7 552.8,639.4 553.4,639.0 554.0,638.7 554.5,638.3 555.1,637.9 555.7,637.6 556.2,637.2 556.8,636.9 557.4,636.5 557.9,636.1 558.5,635.8 559.1,635.4 559.7,635.0 560.2,634.7 560.8,634.3 561.4,634.0 561.9,633.6 562.5,633.3 563.1,632.9 563.6,632.6 564.2,632.3 564.8,631.9 565.3,631.6 565.9,631.3 566.5,630.9 567.0,630.6 567.6,630.3 568.2,630.0 568.7,629.7 569.3,629.4 569.9,629.1 570.4,628.8 571.0,628.5 571.6,628.2 572.1,627.9 572.7,627.7 573.3,627.4 573.8,627.1 574.4,626.8 575.0,626.6 575.5,626.3 576.1,626.0 576.7,625.8 577.2,625.5 577.8,625.2 578.4,624.9 578.9,624.7 579.5,624.4 580.1,624.1 580.6,623.8 581.2,623.5 581.8,623.3 582.3,623.0 582.9,622.7 583.5,622.4 584.0,622.1 584.6,621.8 585.2,621.5 585.8,621.2 586.3,620.9 586.9,620.6 587.5,620.4 588.0,620.1 588.6,619.8 589.2,619.5 589.7,619.3 590.3,619.0 590.9,618.7 591.4,618.4 592.0,618.2 592.6,617.9 593.1,617.6 593.7,617.4 594.3,617.1 594.8,616.8 595.4,616.6 596.0,616.3 596.5,616.1 597.1,615.8 597.7,615.5 598.2,615.3 598.8,615.0 599.4,614.8 599.9,614.5 600.5,614.3 601.1,614.1 601.6,613.8 602.2,613.6 602.8,613.3 603.3,613.1 603.9,612.9 604.5,612.7 605.0,612.4 605.6,612.2 606.2,612.0 606.7,611.8 607.3,611.6 607.9,611.4 608.4,611.2 609.0,611.0 609.6,610.8 610.1,610.6 610.7,610.4 611.3,610.2 611.9,610.0 612.4,609.8 613.0,609.6 613.6,609.4 614.1,609.2 614.7,609.0 615.3,608.8 615.8,608.6 616.4,608.4 617.0,608.2 617.5,608.0 618.1,607.8 618.7,607.6 619.2,607.4 619.8,607.2 620.4,607.0 620.9,606.8 621.5,606.6 622.1,606.4 622.6,606.2 623.2,606.0 623.8,605.8 624.3,605.6 624.9,605.4 625.5,605.2 626.0,605.0 626.6,604.8 627.2,604.6 627.7,604.4 628.3,604.3 628.9,604.1 629.4,603.9 630.0,603.7 630.6,603.5 631.1,603.4 631.7,603.2 632.3,603.1 632.8,602.9 633.4,602.7 634.0,602.6 634.5,602.4 635.1,602.3 635.7,602.1 636.3,602.0 636.8,601.9 637.4,601.7 638.0,601.6 638.5,601.4 639.1,601.3 639.7,601.2 640.2,601.0 640.8,600.9 641.4,600.8 641.9,600.6 642.5,600.5 643.1,600.4 643.6,600.2 644.2,600.1 644.8,600.0 645.3,599.9 645.9,599.7 646.5,599.6 647.0,599.5 647.6,599.4 648.2,599.2 648.7,599.1 649.3,599.0 649.9,598.9 650.4,598.7 651.0,598.6 651.6,598.5 652.1,598.4 652.7,598.3 653.3,598.2 653.8,598.0 654.4,597.9 655.0,597.8 655.5,597.7 656.1,597.6 656.7,597.5 657.2,597.4 657.8,597.3 658.4,597.2 658.9,597.1 659.5,597.0 660.1,596.9 660.6,596.8 661.2,596.8 661.8,596.7 662.4,596.6 662.9,596.5 663.5,596.4 664.1,596.3 664.6,596.2 665.2,596.2 665.8,596.1 666.3,596.0 666.9,595.9 667.5,595.8 668.0,595.7 668.6,595.7 669.2,595.6 669.7,595.5 670.3,595.4 670.9,595.4 671.4,595.3 672.0,595.2 672.6,595.2 673.1,595.1 673.7,595.0 674.3,594.9 674.8,594.9 675.4,594.8 676.0,594.7 676.5,594.7 677.1,594.6 677.7,594.6 678.2,594.5 678.8,594.4 679.4,594.4 679.9,594.3 680.5,594.3 681.1,594.2 681.6,594.2 682.2,594.1 682.8,594.0 683.3,594.0 683.9,593.9 684.5,593.9" fill="none" stroke="#1f1fff" stroke-width="1.8" stroke-linejoin="round" stroke-linecap="round"/>
<polygon points="397.9,572.7 404.1,572.7 401.0,567.3" fill="#1f1fff"/>
<polygon points="400.5,571.4 406.7,571.4 403.6,566.0" fill="#1f1fff"/>
<polygon points="401.0,571.4 407.2,571.4 404.1,566.0" fill="#1f1fff"/>
<polygon points="404.1,572.7 410.3,572.7 407.2,567.3" fill="#1f1fff"/>
<polygon points="405.0,572.5 411.2,572.5 408.1,567.1" fill="#1f1fff"/>
<polygon points="406.3,571.9 412.5,571.9 409.4,566.5" fill="#1f1fff"/>
<polygon points="408.3,574.4 414.5,574.4 411.4,569.0" fill="#1f1fff"/>
<polygon points="409.0,574.1 415.2,574.1 412.1,568.7" fill="#1f1fff"/>
<polygon points="411.0,575.7 417.2,575.7 414.1,570.3" fill="#1f1fff"/>
<polygon points="412.7,577.6 418.9,577.6 415.8,572.2" fill="#1f1fff"/>
<polygon points="414.4,578.7 420.6,578.7 417.5,573.3" fill="#1f1fff"/>
<polygon points="415.6,578.2 421.8,578.2 418.7,572.8" fill="#1f1fff"/>
<polygon points="416.0,581.3 422.2,581.3 419.1,575.9" fill="#1f1fff"/>
<polygon points="417.4,581.6 423.6,581.6 420.5,576.2" fill="#1f1fff"/>
<polygon points="417.6,581.5 423.8,581.5 420.7,576.1" fill="#1f1fff"/>
<polygon points="419.6,584.7 425.8,584.7 422.7,579.3" fill="#1f1fff"/>
<polygon points="420.0,585.6 426.2,585.6 423.1,580.2" fill="#1f1fff"/>
<polygon points="420.1,587.7 426.3,587.7 423.2,582.3" fill="#1f1fff"/>
<polygon points="421.9,590.3 428.1,590.3 425.0,584.9" fill="#1f1fff"/>
<polygon points="422.0,590.5 428.2,590.5 425.1,585.1" fill="#1f1fff"/>
<polygon points="422.1,593.2 428.3,593.2 425.2,587.8" fill="#1f1fff"/>
<polygon points="423.7,593.4 429.9,593.4 426.8,588.0" fill="#1f1fff"/>
<polygon points="423.6,595.6 429.8,595.6 426.7,590.2" fill="#1f1fff"/>
<polygon points="423.7,595.1 429.9,595.1 426.8,589.7" fill="#1f1fff"/>
<polygon points="424.4,599.2 430.6,599.2 427.5,593.8" fill="#1f1fff"/>
<polygon points="424.4,599.7 430.6,599.7 427.5,594.3" fill="#1f1fff"/>
<polygon points="424.2,603.0 430.4,603.0 427.3,597.6" fill="#1f1fff"/>
<polygon points="426.1,603.7 432.3,603.7 429.2,598.3" fill="#1f1fff"/>
<polygon points="426.2,604.8 432.4,604.8 429.3,599.4" fill="#1f1fff"/>
<polygon points="426.7,606.7 432.9,606.7 429.8,601.3" fill="#1f1fff"/>
<polygon points="427.0,608.6 433.2,608.6 430.1,603.2" fill="#1f1fff"/>
<polygon points="427.6,611.5 433.8,611.5 430.7,606.1" fill="#1f1fff"/>
<polygon points="427.5,612.1 433.7,612.1 430.6,606.7" fill="#1f1fff"/>
<polygon points="428.1,612.6 434.3,612.6 431.2,607.2" fill="#1f1fff"/>
<polygon points="427.7,615.7 433.9,615.7 430.8,610.3" fill="#1f1fff"/>
<polygon points="428.5,616.3 434.7,616.3 431.6,610.9" fill="#1f1fff"/>
<polygon points="429.2,617.7 435.4,617.7 432.3,612.3" fill="#1f1fff"/>
<polygon points="429.2,620.2 435.4,620.2 432.3,614.8" fill="#1f1fff"/>
<polygon points="429.7,622.8 435.9,622.8 432.8,617.4" fill="#1f1fff"/>
<polygon points="429.3,624.4 435.5,624.4 432.4,619.0" fill="#1f1fff"/>
<polygon points="429.8,625.4 436.0,625.4 432.9,620.0" fill="#1f1fff"/>
<polygon points="430.0,627.6 436.2,627.6 433.1,622.2" fill="#1f1fff"/>
<polygon points="429.9,628.9 436.1,628.9 433.0,623.5" fill="#1f1fff"/>
<polygon points="431.1,630.2 437.3,630.2 434.2,624.8" fill="#1f1fff"/>
<polygon points="431.7,631.5 437.9,631.5 434.8,626.1" fill="#1f1fff"/>
<polygon points="431.2,633.4 437.4,633.4 434.3,628.0" fill="#1f1fff"/>
<polygon points="431.2,634.5 437.4,634.5 434.3,629.1" fill="#1f1fff"/>
<polygon points="431.5,637.1 437.7,637.1 434.6,631.7" fill="#1f1fff"/>
<polygon points="431.7,639.5 437.9,639.5 434.8,634.1" fill="#1f1fff"/>
<polygon points="432.9,639.2 439.1,639.2 436.0,633.8" fill="#1f1fff"/>
<polygon points="432.9,642.3 439.1,642.3 436.0,636.9" fill="#1f1fff"/>
<polygon points="433.0,645.8 439.2,645.8 436.1,640.4" fill="#1f1fff"/>
<polygon points="433.7,645.7 439.9,645.7 436.8,640.3" fill="#1f1fff"/>
<polygon points="433.6,645.4 439.8,645.4 436.7,640.0" fill="#1f1fff"/>
<polygon points="434.1,648.2 440.3,648.2 437.2,642.8" fill="#1f1fff"/>
<polygon points="434.1,650.6 440.3,650.6 437.2,645.2" fill="#1f1fff"/>
<polygon points="434.7,653.8 440.9,653.8 437.8,648.4" fill="#1f1fff"/>
<polygon points="435.0,654.9 441.2,654.9 438.1,649.5" fill="#1f1fff"/>
<polygon points="434.8,655.9 441.0,655.9 437.9,650.5" fill="#1f1fff"/>
<polygon points="435.5,656.0 441.7,656.0 438.6,650.6" fill="#1f1fff"/>
<polygon points="436.3,658.3 442.5,658.3 439.4,652.9" fill="#1f1fff"/>
<polygon points="435.3,661.9 441.5,661.9 438.4,656.5" fill="#1f1fff"/>
<polygon points="437.0,661.7 443.2,661.7 440.1,656.3" fill="#1f1fff"/>
<polygon points="436.2,666.4 442.4,666.4 439.3,661.0" fill="#1f1fff"/>
<polygon points="436.8,664.0 443.0,664.0 439.9,658.6" fill="#1f1fff"/>
<polygon points="436.8,668.8 443.0,668.8 439.9,663.4" fill="#1f1fff"/>
<polygon points="437.5,669.5 443.7,669.5 440.6,664.1" fill="#1f1fff"/>
<polygon points="438.0,671.1 444.2,671.1 441.1,665.7" fill="#1f1fff"/>
<polygon points="437.5,671.0 443.7,671.0 440.6,665.6" fill="#1f1fff"/>
<polygon points="438.0,673.1 444.2,673.1 441.1,667.7" fill="#1f1fff"/>
<polygon points="438.0,677.1 444.2,677.1 441.1,671.7" fill="#1f1fff"/>
<polygon points="438.3,677.4 444.5,677.4 441.4,672.0" fill="#1f1fff"/>
<polygon points="438.3,679.6 444.5,679.6 441.4,674.2" fill="#1f1fff"/>
<polygon points="438.8,679.7 445.0,679.7 441.9,674.3" fill="#1f1fff"/>
<polygon points="438.7,683.8 444.9,683.8 441.8,678.4" fill="#1f1fff"/>
<polygon points="439.1,683.5 445.3,683.5 442.2,678.1" fill="#1f1fff"/>
<polygon points="438.7,684.2 444.9,684.2 441.8,678.8" fill="#1f1fff"/>
<polygon points="438.9,688.8 445.1,688.8 442.0,683.4" fill="#1f1fff"/>
<polygon points="439.4,688.5 445.6,688.5 442.5,683.1" fill="#1f1fff"/>
<polygon points="439.4,690.8 445.6,690.8 442.5,685.4" fill="#1f1fff"/>
<polygon points="439.8,692.3 446.0,692.3 442.9,686.9" fill="#1f1fff"/>
<polygon points="439.8,694.8 446.0,694.8 442.9,689.4" fill="#1f1fff"/>
<polygon points="440.9,695.5 447.1,695.5 444.0,690.1" fill="#1f1fff"/>
<polygon points="440.3,698.6 446.5,698.6 443.4,693.2" fill="#1f1fff"/>
<polygon points="440.2,698.8 446.4,698.8 443.3,693.4" fill="#1f1fff"/>
<polygon points="440.9,701.1 447.1,701.1 444.0,695.7" fill="#1f1fff"/>
<polygon points="441.1,702.0 447.3,702.0 444.2,696.6" fill="#1f1fff"/>
<polygon points="441.6,703.4 447.8,703.4 444.7,698.0" fill="#1f1fff"/>
<polygon points="441.0,704.4 447.2,704.4 444.1,699.0" fill="#1f1fff"/>
<polygon points="442.3,706.3 448.5,706.3 445.4,700.9" fill="#1f1fff"/>
<polygon points="442.4,709.9 448.6,709.9 445.5,704.5" fill="#1f1fff"/>
<polygon points="442.9,710.9 449.1,710.9 446.0,705.5" fill="#1f1fff"/>
<polygon points="442.6,712.8 448.8,712.8 445.7,707.4" fill="#1f1fff"/>
<polygon points="442.8,713.4 449.0,713.4 445.9,708.0" fill="#1f1fff"/>
<polygon points="443.8,715.4 450.0,715.4 446.9,710.0" fill="#1f1fff"/>
<polygon points="444.3,718.2 450.5,718.2 447.4,712.8" fill="#1f1fff"/>
<polygon points="443.6,719.8 449.8,719.8 446.7,714.4" fill="#1f1fff"/>
<polygon points="444.5,720.1 450.7,720.1 447.6,714.7" fill="#1f1fff"/>
<polygon points="443.9,722.0 450.1,722.0 447.0,716.6" fill="#1f1fff"/>
<polygon points="444.5,724.9 450.7,724.9 447.6,719.5" fill="#1f1fff"/>
<polygon points="444.6,725.6 450.8,725.6 447.7,720.2" fill="#1f1fff"/>
<polygon points="444.6,728.9 450.8,728.9 447.7,723.5" fill="#1f1fff"/>
<polygon points="445.5,729.7 451.7,729.7 448.6,724.3" fill="#1f1fff"/>
<polygon points="444.8,731.8 451.0,731.8 447.9,726.4" fill="#1f1fff"/>
<polygon points="445.6,733.2 451.8,733.2 448.7,727.8" fill="#1f1fff"/>
<polygon points="446.5,735.3 452.7,735.3 449.6,729.9" fill="#1f1fff"/>
<polygon points="445.6,735.6 451.8,735.6 448.7,730.2" fill="#1f1fff"/>
<polygon points="446.8,738.2 453.0,738.2 449.9,732.8" fill="#1f1fff"/>
<polygon points="446.9,739.6 453.1,739.6 450.0,734.2" fill="#1f1fff"/>
<polygon points="446.4,741.6 452.6,741.6 449.5,736.2" fill="#1f1fff"/>
<polygon points="447.7,743.4 453.9,743.4 450.8,738.0" fill="#1f1fff"/>
<polygon points="446.9,744.5 453.1,744.5 450.0,739.1" fill="#1f1fff"/>
<polygon points="447.4,746.6 453.6,746.6 450.5,741.2" fill="#1f1fff"/>
<polygon points="448.3,749.7 454.5,749.7 451.4,744.3" fill="#1f1fff"/>
<polygon points="448.2,749.5 454.4,749.5 451.3,744.1" fill="#1f1fff"/>
<polygon points="448.4,751.5 454.6,751.5 451.5,746.1" fill="#1f1fff"/>
<polygon points="448.5,753.2 454.7,753.2 451.6,747.8" fill="#1f1fff"/>
<polygon points="448.9,754.0 455.1,754.0 452.0,748.6" fill="#1f1fff"/>
<polygon points="449.3,756.3 455.5,756.3 452.4,750.9" fill="#1f1fff"/>
<polygon points="449.0,758.7 455.2,758.7 452.1,753.3" fill="#1f1fff"/>
<polygon points="449.5,761.3 455.7,761.3 452.6,755.9" fill="#1f1fff"/>
<polygon points="450.2,761.7 456.4,761.7 453.3,756.3" fill="#1f1fff"/>
<polygon points="450.0,762.9 456.2,762.9 453.1,757.5" fill="#1f1fff"/>
<polygon points="451.0,764.4 457.2,764.4 454.1,759.0" fill="#1f1fff"/>
<polygon points="451.4,764.9 457.6,764.9 454.5,759.5" fill="#1f1fff"/>
<polygon points="451.5,768.9 457.7,768.9 454.6,763.5" fill="#1f1fff"/>
<polygon points="452.0,769.9 458.2,769.9 455.1,764.5" fill="#1f1fff"/>
<polygon points="452.7,770.8 458.9,770.8 455.8,765.4" fill="#1f1fff"/>
<polygon points="452.4,773.2 458.6,773.2 455.5,767.8" fill="#1f1fff"/>
<polygon points="453.9,775.1 460.1,775.1 457.0,769.7" fill="#1f1fff"/>
<polygon points="454.1,776.5 460.3,776.5 457.2,771.1" fill="#1f1fff"/>
<polygon points="455.1,776.8 461.3,776.8 458.2,771.4" fill="#1f1fff"/>
<polygon points="454.6,778.5 460.8,778.5 457.7,773.1" fill="#1f1fff"/>
<polygon points="456.0,780.3 462.2,780.3 459.1,774.9" fill="#1f1fff"/>
<polygon points="457.2,781.4 463.4,781.4 460.3,776.0" fill="#1f1fff"/>
<polygon points="459.1,783.2 465.3,783.2 462.2,777.8" fill="#1f1fff"/>
<polygon points="460.6,784.4 466.8,784.4 463.7,779.0" fill="#1f1fff"/>
<polygon points="461.8,781.8 468.0,781.8 464.9,776.4" fill="#1f1fff"/>
<polygon points="463.6,779.9 469.8,779.9 466.7,774.5" fill="#1f1fff"/>
<polygon points="463.5,780.5 469.7,780.5 466.6,775.1" fill="#1f1fff"/>
<polygon points="465.3,778.6 471.5,778.6 468.4,773.2" fill="#1f1fff"/>
<polygon points="466.4,777.5 472.6,777.5 469.5,772.1" fill="#1f1fff"/>
<polygon points="466.9,775.2 473.1,775.2 470.0,769.8" fill="#1f1fff"/>
<polygon points="467.4,773.9 473.6,773.9 470.5,768.5" fill="#1f1fff"/>
<polygon points="468.7,771.9 474.9,771.9 471.8,766.5" fill="#1f1fff"/>
<polygon points="469.7,773.1 475.9,773.1 472.8,767.7" fill="#1f1fff"/>
<polygon points="469.6,769.9 475.8,769.9 472.7,764.5" fill="#1f1fff"/>
<polygon points="471.1,768.5 477.3,768.5 474.2,763.1" fill="#1f1fff"/>
<polygon points="471.1,767.0 477.3,767.0 474.2,761.6" fill="#1f1fff"/>
<polygon points="472.3,764.4 478.5,764.4 475.4,759.0" fill="#1f1fff"/>
<polygon points="472.5,763.1 478.7,763.1 475.6,757.7" fill="#1f1fff"/>
<polygon points="473.6,762.0 479.8,762.0 476.7,756.6" fill="#1f1fff"/>
<polygon points="474.7,759.5 480.9,759.5 477.8,754.1" fill="#1f1fff"/>
<polygon points="474.7,757.8 480.9,757.8 477.8,752.4" fill="#1f1fff"/>
<polygon points="475.4,756.7 481.6,756.7 478.5,751.3" fill="#1f1fff"/>
<polygon points="475.5,754.0 481.7,754.0 478.6,748.6" fill="#1f1fff"/>
<polygon points="476.0,753.6 482.2,753.6 479.1,748.2" fill="#1f1fff"/>
<polygon points="477.6,752.5 483.8,752.5 480.7,747.1" fill="#1f1fff"/>
<polygon points="477.1,749.9 483.3,749.9 480.2,744.5" fill="#1f1fff"/>
<polygon points="478.2,748.6 484.4,748.6 481.3,743.2" fill="#1f1fff"/>
<polygon points="478.9,747.7 485.1,747.7 482.0,742.3" fill="#1f1fff"/>
<polygon points="479.6,745.0 485.8,745.0 482.7,739.6" fill="#1f1fff"/>
<polygon points="479.4,743.7 485.6,743.7 482.5,738.3" fill="#1f1fff"/>
<polygon points="480.2,742.3 486.4,742.3 483.3,736.9" fill="#1f1fff"/>
<polygon points="481.7,739.7 487.9,739.7 484.8,734.3" fill="#1f1fff"/>
<polygon points="482.2,739.0 488.4,739.0 485.3,733.6" fill="#1f1fff"/>
<polygon points="483.8,738.1 490.0,738.1 486.9,732.7" fill="#1f1fff"/>
<polygon points="483.0,736.5 489.2,736.5 486.1,731.1" fill="#1f1fff"/>
<polygon points="484.6,734.5 490.8,734.5 487.7,729.1" fill="#1f1fff"/>
<polygon points="485.1,733.6 491.3,733.6 488.2,728.2" fill="#1f1fff"/>
<polygon points="486.2,731.9 492.4,731.9 489.3,726.5" fill="#1f1fff"/>
<polygon points="486.4,729.8 492.6,729.8 489.5,724.4" fill="#1f1fff"/>
<polygon points="486.9,727.3 493.1,727.3 490.0,721.9" fill="#1f1fff"/>
<polygon points="488.2,726.2 494.4,726.2 491.3,720.8" fill="#1f1fff"/>
<polygon points="489.0,726.8 495.2,726.8 492.1,721.4" fill="#1f1fff"/>
<polygon points="490.2,723.7 496.4,723.7 493.3,718.3" fill="#1f1fff"/>
<polygon points="490.0,722.2 496.2,722.2 493.1,716.8" fill="#1f1fff"/>
<polygon points="491.1,720.0 497.3,720.0 494.2,714.6" fill="#1f1fff"/>
<polygon points="492.7,719.3 498.9,719.3 495.8,713.9" fill="#1f1fff"/>
<polygon points="493.4,719.6 499.6,719.6 496.5,714.2" fill="#1f1fff"/>
<polygon points="494.0,716.6 500.2,716.6 497.1,711.2" fill="#1f1fff"/>
<polygon points="494.8,714.8 501.0,714.8 497.9,709.4" fill="#1f1fff"/>
<polygon points="495.0,713.3 501.2,713.3 498.1,707.9" fill="#1f1fff"/>
<polygon points="496.5,711.8 502.7,711.8 499.6,706.4" fill="#1f1fff"/>
<polygon points="496.2,709.7 502.4,709.7 499.3,704.3" fill="#1f1fff"/>
<polygon points="497.0,708.8 503.2,708.8 500.1,703.4" fill="#1f1fff"/>
<polygon points="498.4,707.9 504.6,707.9 501.5,702.5" fill="#1f1fff"/>
<polygon points="499.3,705.9 505.5,705.9 502.4,700.5" fill="#1f1fff"/>
<polygon points="499.0,704.9 505.2,704.9 502.1,699.5" fill="#1f1fff"/>
<polygon points="500.1,703.2 506.3,703.2 503.2,697.8" fill="#1f1fff"/>
<polygon points="502.1,701.4 508.3,701.4 505.2,696.0" fill="#1f1fff"/>
<polygon points="503.1,699.2 509.3,699.2 506.2,693.8" fill="#1f1fff"/>
<polygon points="504.4,696.8 510.6,696.8 507.5,691.4" fill="#1f1fff"/>
<polygon points="506.7,693.2 512.9,693.2 509.8,687.8" fill="#1f1fff"/>
<polygon points="508.9,689.0 515.1,689.0 512.0,683.6" fill="#1f1fff"/>
<polygon points="509.9,687.9 516.1,687.9 513.0,682.5" fill="#1f1fff"/>
<polygon points="510.5,688.0 516.7,688.0 513.6,682.6" fill="#1f1fff"/>
<polygon points="511.5,686.1 517.7,686.1 514.6,680.7" fill="#1f1fff"/>
<polygon points="514.2,682.4 520.4,682.4 517.3,677.0" fill="#1f1fff"/>
<polygon points="516.5,678.5 522.7,678.5 519.6,673.1" fill="#1f1fff"/>
<polygon points="518.1,677.7 524.3,677.7 521.2,672.3" fill="#1f1fff"/>
<polygon points="518.6,676.2 524.8,676.2 521.7,670.8" fill="#1f1fff"/>
<polygon points="520.0,674.4 526.2,674.4 523.1,669.0" fill="#1f1fff"/>
<polygon points="522.9,671.5 529.1,671.5 526.0,666.1" fill="#1f1fff"/>
<polygon points="523.2,669.2 529.4,669.2 526.3,663.8" fill="#1f1fff"/>
<polygon points="525.3,666.5 531.5,666.5 528.4,661.1" fill="#1f1fff"/>
<polygon points="527.1,665.2 533.3,665.2 530.2,659.8" fill="#1f1fff"/>
<polygon points="530.0,661.2 536.2,661.2 533.1,655.8" fill="#1f1fff"/>
<polygon points="532.0,658.7 538.2,658.7 535.1,653.3" fill="#1f1fff"/>
<polygon points="533.7,657.7 539.9,657.7 536.8,652.3" fill="#1f1fff"/>
<polygon points="533.9,656.3 540.1,656.3 537.0,650.9" fill="#1f1fff"/>
<polygon points="535.4,654.8 541.6,654.8 538.5,649.4" fill="#1f1fff"/>
<polygon points="536.6,654.0 542.8,654.0 539.7,648.6" fill="#1f1fff"/>
<polygon points="537.8,651.7 544.0,651.7 540.9,646.3" fill="#1f1fff"/>
<polygon points="539.5,648.3 545.7,648.3 542.6,642.9" fill="#1f1fff"/>
<polygon points="542.5,647.0 548.7,647.0 545.6,641.6" fill="#1f1fff"/>
<polygon points="549.0,642.7 555.2,642.7 552.1,637.3" fill="#1f1fff"/>
<polygon points="550.9,640.5 557.1,640.5 554.0,635.1" fill="#1f1fff"/>
<polygon points="553.4,639.6 559.6,639.6 556.5,634.2" fill="#1f1fff"/>
<polygon points="559.3,635.9 565.5,635.9 562.4,630.5" fill="#1f1fff"/>
<polygon points="560.2,635.4 566.4,635.4 563.3,630.0" fill="#1f1fff"/>
<polygon points="562.9,634.2 569.1,634.2 566.0,628.8" fill="#1f1fff"/>
<polygon points="567.9,631.2 574.1,631.2 571.0,625.8" fill="#1f1fff"/>
<polygon points="570.1,630.8 576.3,630.8 573.2,625.4" fill="#1f1fff"/>
<polygon points="571.4,629.3 577.6,629.3 574.5,623.9" fill="#1f1fff"/>
<polygon points="578.7,625.7 584.9,625.7 581.8,620.3" fill="#1f1fff"/>
<polygon points="580.4,625.6 586.6,625.6 583.5,620.2" fill="#1f1fff"/>
<polygon points="582.1,624.0 588.3,624.0 585.2,618.6" fill="#1f1fff"/>
<polygon points="584.0,623.3 590.2,623.3 587.1,617.9" fill="#1f1fff"/>
<polygon points="586.9,621.3 593.1,621.3 590.0,615.9" fill="#1f1fff"/>
<polygon points="591.1,620.3 597.3,620.3 594.2,614.9" fill="#1f1fff"/>
<polygon points="593.1,619.3 599.3,619.3 596.2,613.9" fill="#1f1fff"/>
<polygon points="606.8,613.1 613.0,613.1 609.9,607.7" fill="#1f1fff"/>
<polygon points="610.5,612.3 616.7,612.3 613.6,606.9" fill="#1f1fff"/>
<polygon points="611.7,611.7 617.9,611.7 614.8,606.3" fill="#1f1fff"/>
<polygon points="615.9,610.3 622.1,610.3 619.0,604.9" fill="#1f1fff"/>
<polygon points="616.5,610.3 622.7,610.3 619.6,604.9" fill="#1f1fff"/>
<polygon points="620.1,608.8 626.3,608.8 623.2,603.4" fill="#1f1fff"/>
<polygon points="624.3,607.8 630.5,607.8 627.4,602.4" fill="#1f1fff"/>
<polygon points="630.9,605.4 637.1,605.4 634.0,600.0" fill="#1f1fff"/>
<polygon points="636.1,603.8 642.3,603.8 639.2,598.4" fill="#1f1fff"/>
<polygon points="640.7,602.5 646.9,602.5 643.8,597.1" fill="#1f1fff"/>
<polygon points="642.6,602.1 648.8,602.1 645.7,596.7" fill="#1f1fff"/>
<polygon points="647.7,600.9 653.9,600.9 650.8,595.5" fill="#1f1fff"/>
<polygon points="654.7,600.6 660.9,600.6 657.8,595.2" fill="#1f1fff"/>
<polygon points="658.2,599.9 664.4,599.9 661.3,594.5" fill="#1f1fff"/>
<polygon points="662.7,598.9 668.9,598.9 665.8,593.5" fill="#1f1fff"/>
<polygon points="666.1,598.8 672.3,598.8 669.2,593.4" fill="#1f1fff"/>
<polygon points="667.8,599.0 674.0,599.0 670.9,593.6" fill="#1f1fff"/>
<polygon points="669.8,597.6 676.0,597.6 672.9,592.2" fill="#1f1fff"/>
<polygon points="671.3,598.1 677.5,598.1 674.4,592.7" fill="#1f1fff"/>
<polygon points="672.4,598.2 678.6,598.2 675.5,592.8" fill="#1f1fff"/>
</g>
<path d="M442 648.3H459.5" stroke="#ff1e0e" stroke-width="1.4"/>
<polygon points="436.7,648.3 442.5,645.3 442.5,651.3" fill="#ff1e0e"/>
<polygon points="464.8,648.3 459,645.3 459,651.3" fill="#ff1e0e"/>
<text x="440.6" y="635.7" class="an" font-size="12.6">&#916;&#964;<tspan dy="3.4" font-size="9">r</tspan></text>
<text x="488.6" y="587" class="an" font-size="15.4" textLength="92.6" lengthAdjust="spacingAndGlyphs">Pump &#8211; 2 eV</text>
<text x="495.3" y="615.2" class="an" font-size="16">V-MoS<tspan dy="3.8" font-size="10.2">2</tspan></text>
<text x="558.6" y="749.8" class="an" font-size="14.1">&#916;&#964;<tspan dy="3.4" font-size="9.4">r</tspan><tspan dy="-3.4">&#8776; 0.11 ps</tspan></text>
<rect x="530.4" y="670" width="82.3" height="39" fill="#fff" stroke="#a8a8a8" stroke-width="1"/>
<circle cx="546.5" cy="679.0" r="2.6" fill="#000"/>
<polygon points="543.5,699.8 549.5,699.8 546.5,694.8" fill="#2020ff"/>
<text x="565" y="683.3" class="lg" font-size="12.4">0.31 eV</text>
<text x="565" y="702" class="lg" font-size="12.4">0.62 eV</text>
</svg></body></html>
